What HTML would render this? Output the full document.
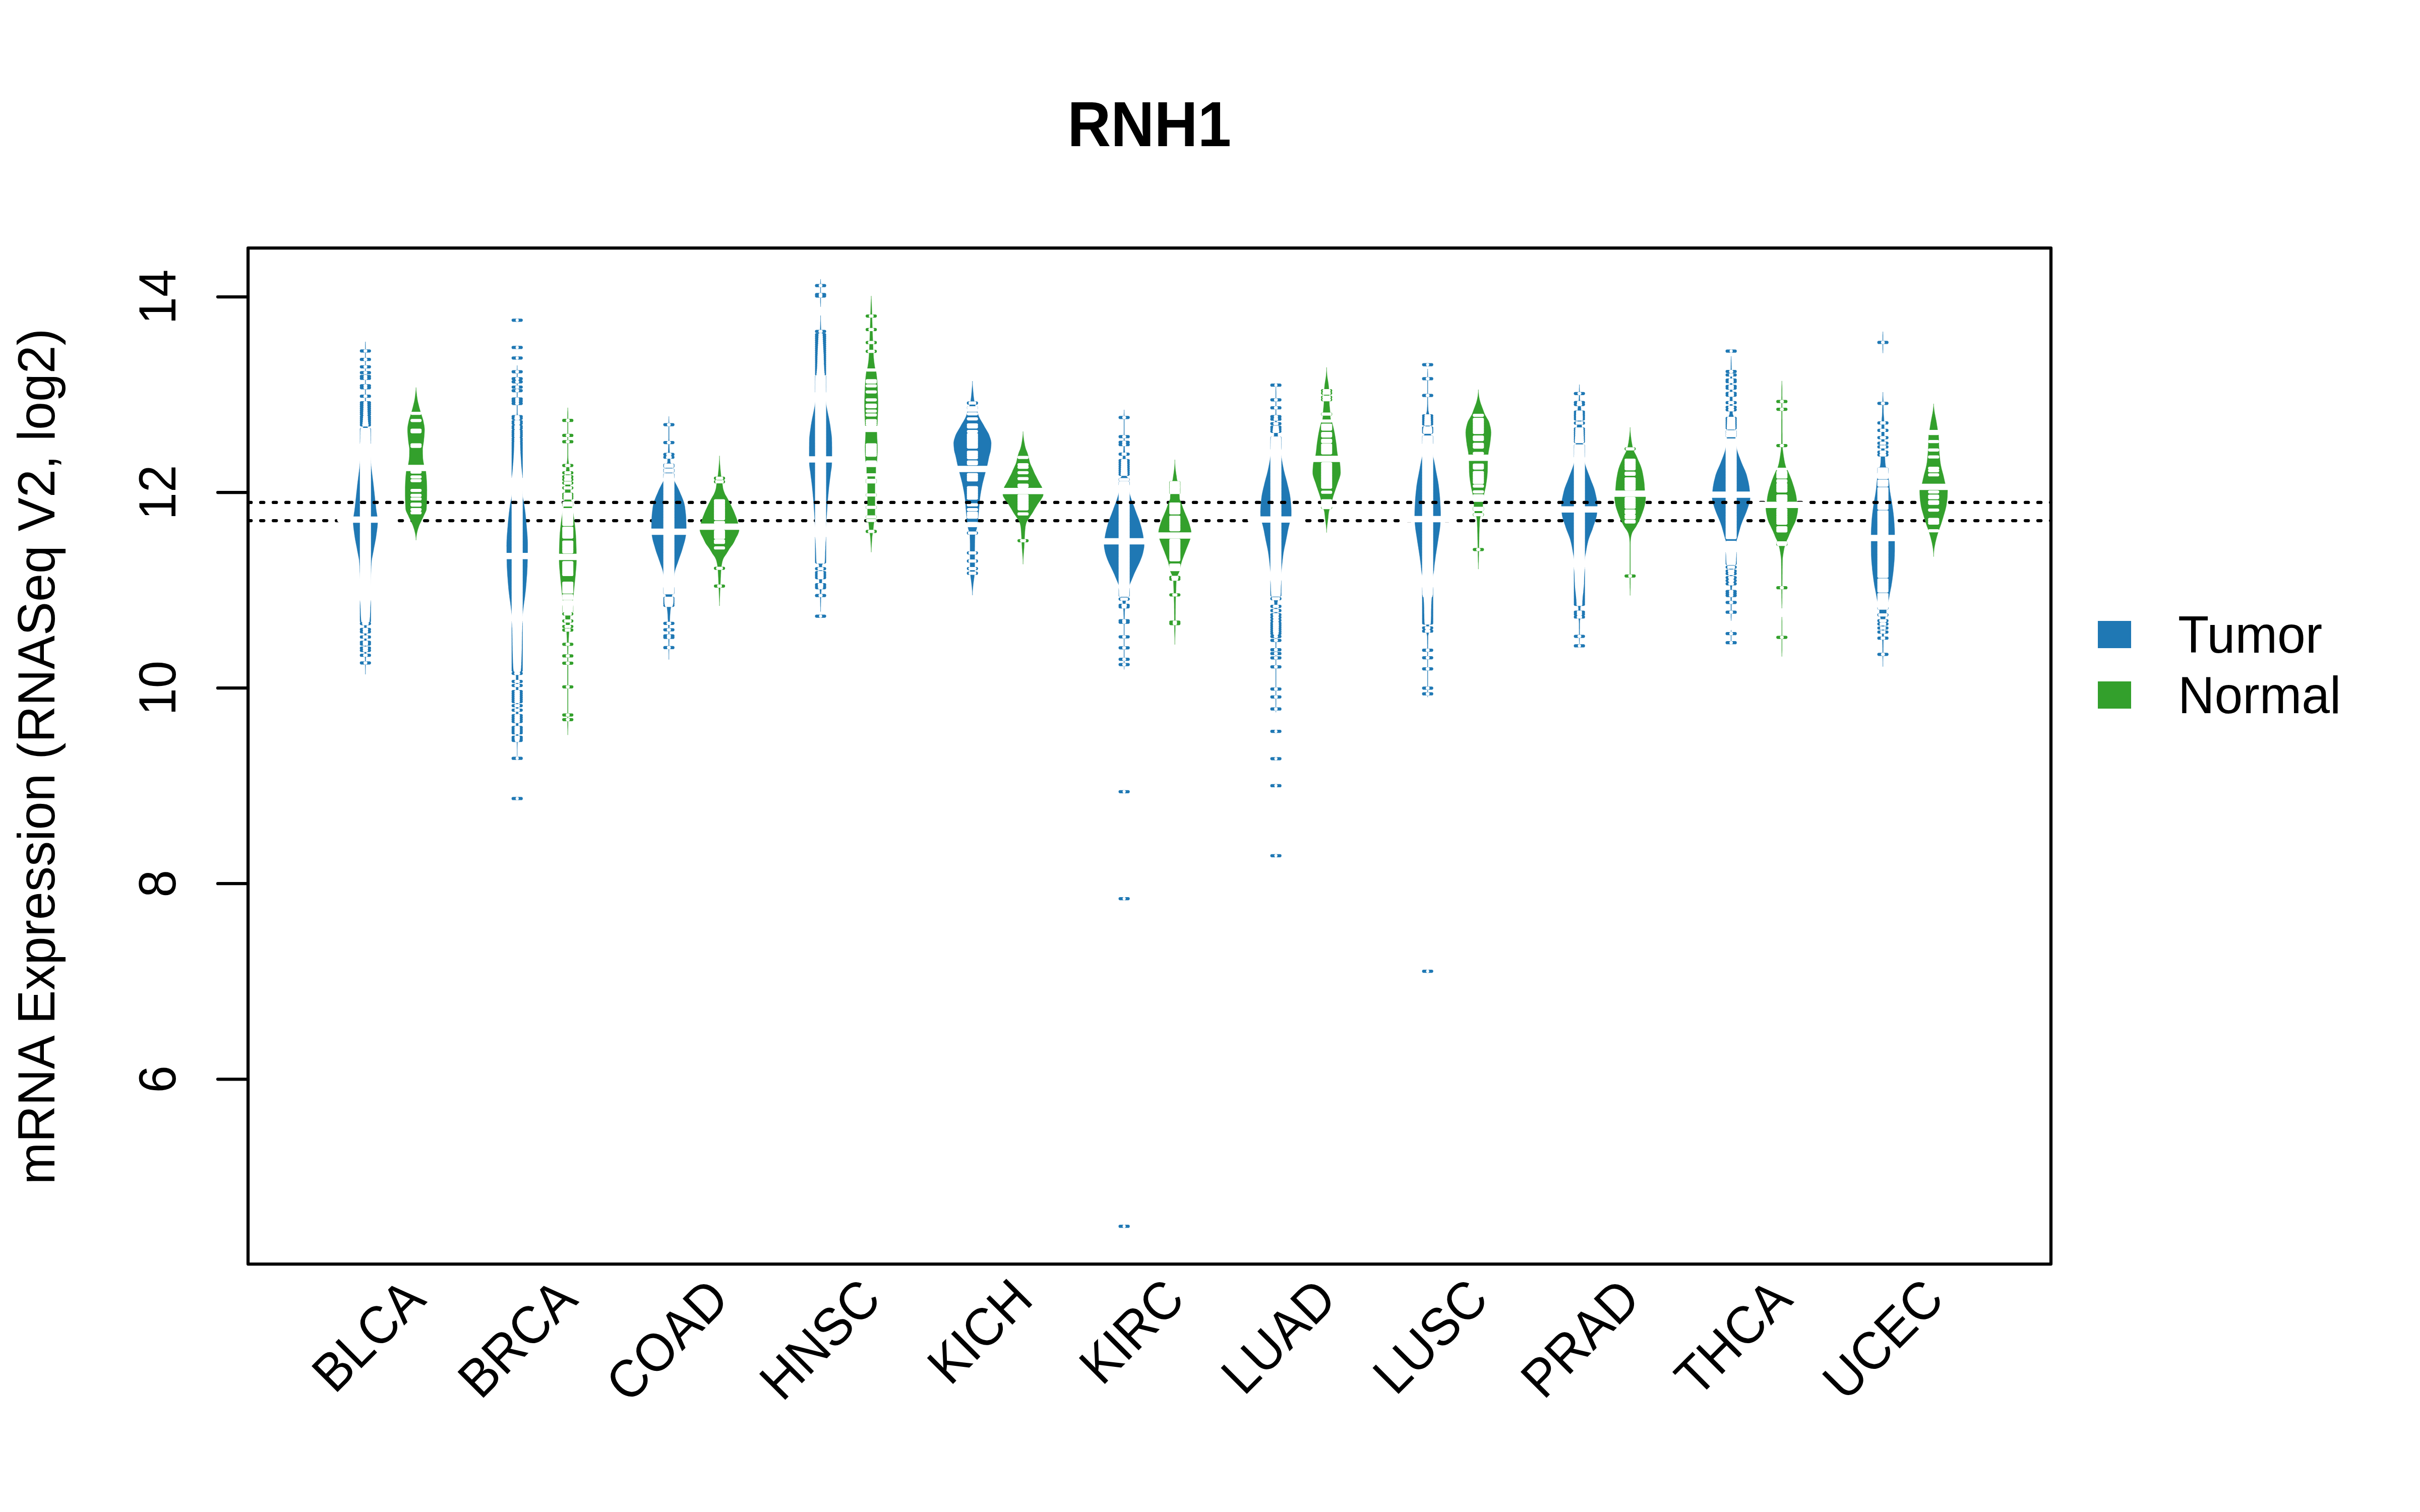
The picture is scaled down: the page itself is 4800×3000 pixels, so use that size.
<!DOCTYPE html>
<html><head><meta charset="utf-8"><title>RNH1</title>
<style>html,body{margin:0;padding:0;background:#fff}svg{display:block}text{font-family:"Liberation Sans",sans-serif;fill:#000}</style></head><body>
<svg width="4800" height="3000" viewBox="0 0 4800 3000">
<rect width="4800" height="3000" fill="#fff"/>
<line x1="492" y1="1033.1" x2="4068" y2="1033.1" stroke="#000" stroke-width="6.25" stroke-dasharray="6.25 18.75" stroke-linecap="round"/>
<polygon points="724.8,678 724.7,681 724.5,684 724.5,686.9 724.5,689.9 724.5,692.8 724.5,695.8 724.5,698.7 724.4,701.7 724.4,704.6 724.4,707.6 724.4,710.5 724.4,713.4 724.4,716.4 724.4,719.3 724.4,722.3 724.4,725.2 724.4,728.2 724.4,731.1 724.4,734.1 724.4,737 724.4,739.9 724.4,742.9 724.4,745.8 724.4,748.8 724.4,751.7 724.4,754.7 724.4,757.6 724.4,760.6 724.3,763.5 724.3,766.4 724.3,769.4 724.3,772.3 724.3,775.3 724.3,778.2 724.3,781.2 724.3,784.1 724.3,787.1 724.2,790 724.2,792.9 724.2,795.7 724.2,798.6 724.1,801.4 724,804.3 724,807.1 723.9,810 723.8,812.9 723.7,815.7 723.6,818.6 723.5,821.4 723.3,824.3 723.2,827.1 723,830 722.9,832.8 722.7,835.7 722.4,838.5 722.1,841.3 721.6,844.2 721,847 719.4,849.5 718,852 717.9,854.8 717.8,857.6 717.7,860.4 717.7,863.2 717.7,866 717.7,868.8 717.6,871.6 717.6,874.4 717.5,877.2 717.3,880 717,882 716.5,884 716.2,887 716,890 715.8,893 715.6,896 715.4,899 715.3,902 715,905 714.9,907.7 714.7,910.3 714.5,913 714.3,915.7 714.1,918.3 713.8,921 713.6,923.9 713.3,926.7 713,929.6 712.6,932.4 712.3,935.3 711.9,938.1 711.6,941 711.2,943.9 710.8,946.7 710.5,949.6 710.1,952.4 709.7,955.3 709.4,958.1 709,961 708.7,963.9 708.4,966.8 708.1,969.6 707.8,972.5 707.4,975.4 707.1,978.3 706.8,981.2 706.5,984.1 706.2,986.9 705.9,989.8 705.6,992.7 705.3,995.6 705,998.5 704.6,1001.4 704.3,1004.2 704,1007.1 703.6,1010 703.3,1012.8 702.9,1015.6 702.4,1018.3 702,1021.1 701.5,1023.9 701.1,1026.7 700.8,1029.4 700.6,1032.2 700.5,1035 700.6,1037.8 700.7,1040.6 701,1043.3 701.2,1046.1 701.6,1048.9 701.9,1051.7 702.3,1054.4 702.7,1057.2 703,1060 703.5,1063 703.9,1065.9 704.4,1068.9 704.9,1071.9 705.5,1074.8 706,1077.8 706.6,1080.7 707.2,1083.7 707.8,1086.7 708.3,1089.6 708.8,1092.6 709.4,1095.5 710,1098.4 710.5,1101.3 711.1,1104.2 711.7,1107 712.2,1109.9 712.6,1112.8 712.8,1115.7 713,1118.5 713.2,1121.2 713.4,1124 713.5,1126.7 713.6,1129.5 713.7,1132.2 713.8,1135 714,1138 714.1,1141 714.3,1144 714.4,1147 714.5,1150 714.7,1152.9 714.8,1155.8 714.9,1158.8 715,1161.7 715.1,1164.6 715.3,1167.5 715.4,1170.5 715.5,1173.4 715.7,1176.3 715.8,1179.2 716,1182.2 716.3,1185.1 716.5,1188 716.9,1190 717.3,1192 717.7,1195 717.9,1198 718.1,1201 718.2,1204 718.4,1207 718.5,1210 718.6,1213 718.7,1216 718.8,1219 719,1222 719.1,1225 719.4,1228 719.7,1231 720,1234 721.4,1237 722.5,1240 722.6,1242.9 722.7,1245.8 722.7,1248.7 722.7,1251.6 722.8,1254.5 722.8,1257.4 722.8,1260.3 722.8,1263.2 722.8,1266.1 722.8,1268.9 722.8,1271.8 722.8,1274.7 722.9,1277.6 722.9,1280.5 722.9,1283.4 722.9,1286.3 723,1289.2 723,1292.1 723,1295 723.2,1297.5 723.5,1300 723.8,1302.5 724,1305 724.2,1308 724.2,1311 724.3,1314 724.4,1317 724.4,1320 724.5,1323 724.6,1326 724.7,1329 724.8,1332 724.8,1335 724.8,1338 724.8,1338 724.8,1335 724.8,1332 724.9,1329 725,1326 725.1,1323 725.1,1320 725.2,1317 725.3,1314 725.4,1311 725.4,1308 725.5,1305 725.8,1302.5 726.1,1300 726.4,1297.5 726.5,1295 726.6,1292.1 726.6,1289.2 726.7,1286.3 726.7,1283.4 726.7,1280.5 726.7,1277.6 726.8,1274.7 726.8,1271.8 726.8,1268.9 726.8,1266.1 726.8,1263.2 726.8,1260.3 726.8,1257.4 726.8,1254.5 726.9,1251.6 726.9,1248.7 726.9,1245.8 727,1242.9 727,1240 728.2,1237 729.5,1234 729.9,1231 730.2,1228 730.5,1225 730.6,1222 730.8,1219 730.9,1216 731,1213 731.1,1210 731.2,1207 731.4,1204 731.5,1201 731.7,1198 731.9,1195 732.2,1192 732.7,1190 733,1188 733.3,1185.1 733.6,1182.2 733.8,1179.2 733.9,1176.3 734.1,1173.4 734.2,1170.5 734.3,1167.5 734.5,1164.6 734.6,1161.7 734.7,1158.8 734.8,1155.8 734.9,1152.9 735,1150 735.2,1147 735.3,1144 735.5,1141 735.6,1138 735.8,1135 735.9,1132.2 736,1129.5 736.1,1126.7 736.2,1124 736.4,1121.2 736.6,1118.5 736.8,1115.7 737,1112.8 737.4,1109.9 737.9,1107 738.5,1104.2 739.1,1101.3 739.6,1098.4 740.2,1095.5 740.8,1092.6 741.3,1089.6 741.8,1086.7 742.4,1083.7 743,1080.7 743.6,1077.8 744.1,1074.8 744.7,1071.9 745.2,1068.9 745.7,1065.9 746.1,1063 746.5,1060 746.9,1057.2 747.3,1054.4 747.7,1051.7 748,1048.9 748.4,1046.1 748.6,1043.3 748.9,1040.6 749,1037.8 749,1035 749,1032.2 748.8,1029.4 748.5,1026.7 748.1,1023.9 747.6,1021.1 747.2,1018.3 746.7,1015.6 746.3,1012.8 745.9,1010 745.6,1007.1 745.3,1004.2 745,1001.4 744.6,998.5 744.3,995.6 744,992.7 743.7,989.8 743.4,986.9 743.1,984.1 742.8,981.2 742.5,978.3 742.2,975.4 741.8,972.5 741.5,969.6 741.2,966.8 740.9,963.9 740.5,961 740.2,958.1 739.9,955.3 739.5,952.4 739.1,949.6 738.8,946.7 738.4,943.9 738,941 737.7,938.1 737.3,935.3 737,932.4 736.6,929.6 736.3,926.7 736,923.9 735.8,921 735.5,918.3 735.3,915.7 735.1,913 734.9,910.3 734.7,907.7 734.5,905 734.3,902 734.2,899 734,896 733.8,893 733.6,890 733.4,887 733,884 732.6,882 732.2,880 732.1,877.2 732,874.4 732,871.6 731.9,868.8 731.9,866 731.9,863.2 731.9,860.4 731.8,857.6 731.7,854.8 731.5,852 730.2,849.5 728.5,847 728,844.2 727.5,841.3 727.2,838.5 726.9,835.7 726.7,832.8 726.5,830 726.4,827.1 726.3,824.3 726.1,821.4 726,818.6 725.9,815.7 725.8,812.9 725.7,810 725.6,807.1 725.6,804.3 725.5,801.4 725.4,798.6 725.4,795.7 725.4,792.9 725.3,790 725.3,787.1 725.3,784.1 725.3,781.2 725.3,778.2 725.3,775.3 725.3,772.3 725.3,769.4 725.3,766.4 725.3,763.5 725.2,760.6 725.2,757.6 725.2,754.7 725.2,751.7 725.2,748.8 725.2,745.8 725.2,742.9 725.2,739.9 725.2,737 725.2,734.1 725.2,731.1 725.2,728.2 725.2,725.2 725.2,722.3 725.2,719.3 725.2,716.4 725.2,713.4 725.2,710.5 725.2,707.6 725.2,704.6 725.2,701.7 725.1,698.7 725.1,695.8 725.1,692.8 725.1,689.9 725.1,686.9 725,684 724.9,681 724.8,678" fill="#1f78b4" stroke="#1f78b4" stroke-width="0.5" stroke-linejoin="round"/>
<path d="M716.8 696.3H724.2M725.4 696.3H732.8M716.8 713.2H724.2M725.4 713.2H732.8M716.8 727.8H724.1M725.5 727.8H732.8M716.8 739.4H724.1M725.5 739.4H732.8M716.8 746.8H724.1M725.5 746.8H732.8M716.8 750.7H724.1M725.5 750.7H732.8M716.8 765.3H724.1M725.5 765.3H732.8M716.8 769.3H724.1M725.5 769.3H732.8M716.8 786.2H724M725.6 786.2H732.8M716.8 799H723.9M725.7 799H732.8M716.8 802.8H723.8M725.8 802.8H732.8M716.8 806.7H723.7M725.9 806.7H732.8M716.8 810.5H723.6M726 810.5H732.8M716.8 814.3H723.5M726.1 814.3H732.8M716.8 818.2H723.3M726.3 818.2H732.8M716.8 822H723.2M726.4 822H732.8M716.8 827H723M726.6 827H732.8M716.8 831H722.7M726.9 831H732.8M716.8 835H722.5M727.1 835H732.8M716.8 839H722.1M727.5 839H732.8M716.8 843H721.6M728 843H732.8M716.8 852H717.8M731.8 852H732.8M716.8 855H717.6M732 855H732.8M716.8 858H717.5M732.1 858H732.8M716.8 861H717.5M732.1 861H732.8M716.8 864H717.4M732.2 864H732.8M716.8 867H717.4M732.2 867H732.8M716.8 870H717.4M732.2 870H732.8M716.8 872.9H717.3M732.3 872.9H732.8M716.8 875.9H717.3M732.3 875.9H732.8M716.8 878.9H717.1M732.5 878.9H732.8M716.8 1193.1H717.2M732.4 1193.1H732.8M716.8 1196.1H717.5M732.1 1196.1H732.8M716.8 1199.1H717.7M731.9 1199.1H732.8M716.8 1202.1H717.9M731.7 1202.1H732.8M716.8 1205.1H718M731.6 1205.1H732.8M716.8 1208.1H718.2M731.4 1208.1H732.8M716.8 1211.1H718.3M731.3 1211.1H732.8M716.8 1214H718.4M731.2 1214H732.8M716.8 1217H718.5M731.1 1217H732.8M716.8 1220H718.6M731 1220H732.8M716.8 1223H718.8M730.8 1223H732.8M716.8 1226H719M730.6 1226H732.8M716.8 1229H719.2M730.4 1229H732.8M716.8 1232H719.6M730 1232H732.8M716.8 1237.3H721.3M728.3 1237.3H732.8M716.8 1248.8H722.5M727.1 1248.8H732.8M716.8 1253.5H722.5M727.1 1253.5H732.8M716.8 1263.9H722.6M727 1263.9H732.8M716.8 1274.3H722.6M727 1274.3H732.8M716.8 1277.8H722.6M727 1277.8H732.8M716.8 1285.9H722.7M726.9 1285.9H732.8M716.8 1290.5H722.7M726.9 1290.5H732.8M716.8 1300.2H723.3M726.3 1300.2H732.8M716.8 1315.3H724.1M725.5 1315.3H732.8" stroke="#1f78b4" stroke-width="6.25" stroke-linecap="round" fill="none"/>
<path d="M724.2 696.3h1.2M724.2 713.2h1.3M724.1 727.8h1.3M724.1 739.4h1.3M724.1 746.8h1.4M724.1 750.7h1.4M724.1 765.3h1.4M724.1 769.3h1.4M724 786.2h1.6M723.9 799h1.8M723.8 802.8h2M723.7 806.7h2.2M723.6 810.5h2.4M723.5 814.3h2.6M723.3 818.2h2.9M723.2 822h3.2M723 827h3.7M722.7 831h4.1M722.5 835h4.6M722.1 839h5.4M721.6 843h6.5M717.8 852h14M717.6 855h14.3M717.5 858h14.5M717.5 861h14.6M717.4 864h14.7M717.4 867h14.8M717.4 870h14.8M717.3 872.9h14.9M717.3 875.9h15.1M717.1 878.9h15.3M716.8 881.9h16M716.8 884.9h16M716.8 887.9h16M716.8 890.9h16M716.8 893.9h16M716.8 896.9h16M716.8 899.9h16M716.8 902.9h16M716.8 905.9h16M716.8 908.9h16M716.8 911.8h16M716.8 914.8h16M716.8 917.8h16M716.8 920.8h16M716.8 923.8h16M716.8 926.8h16M716.8 929.8h16M716.8 932.8h16M716.8 935.8h16M716.8 938.8h16M716.8 941.8h16M716.8 944.8h16M716.8 947.7h16M716.8 950.7h16M716.8 953.7h16M716.8 956.7h16M716.8 959.7h16M716.8 962.7h16M716.8 965.7h16M716.8 968.7h16M716.8 971.7h16M716.8 974.7h16M716.8 977.7h16M716.8 980.7h16M716.8 983.7h16M716.8 986.6h16M716.8 989.6h16M716.8 992.6h16M716.8 995.6h16M716.8 998.6h16M716.8 1001.6h16M716.8 1004.6h16M716.8 1007.6h16M716.8 1010.6h16M716.8 1013.6h16M716.8 1016.6h16M716.8 1019.6h16M716.8 1022.6h16M716.8 1025.5h16M716.8 1028.5h16M716.8 1031.5h16M716.8 1034.5h16M716.8 1037.5h16M716.8 1040.5h16M716.8 1043.5h16M716.8 1046.5h16M716.8 1049.5h16M716.8 1052.5h16M716.8 1055.5h16M716.8 1058.5h16M716.8 1061.4h16M716.8 1064.4h16M716.8 1067.4h16M716.8 1070.4h16M716.8 1073.4h16M716.8 1076.4h16M716.8 1079.4h16M716.8 1082.4h16M716.8 1085.4h16M716.8 1088.4h16M716.8 1091.4h16M716.8 1094.4h16M716.8 1097.4h16M716.8 1100.3h16M716.8 1103.3h16M716.8 1106.3h16M716.8 1109.3h16M716.8 1112.3h16M716.8 1115.3h16M716.8 1118.3h16M716.8 1121.3h16M716.8 1124.3h16M716.8 1127.3h16M716.8 1130.3h16M716.8 1133.3h16M716.8 1136.3h16M716.8 1139.2h16M716.8 1142.2h16M716.8 1145.2h16M716.8 1148.2h16M716.8 1151.2h16M716.8 1154.2h16M716.8 1157.2h16M716.8 1160.2h16M716.8 1163.2h16M716.8 1166.2h16M716.8 1169.2h16M716.8 1172.2h16M716.8 1175.1h16M716.8 1178.1h16M716.8 1181.1h16M716.8 1184.1h16M716.8 1187.1h16M716.8 1190.1h16M717.2 1193.1h15.2M717.5 1196.1h14.6M717.7 1199.1h14.2M717.9 1202.1h13.8M718 1205.1h13.5M718.2 1208.1h13.3M718.3 1211.1h13.1M718.4 1214h12.9M718.5 1217h12.6M718.6 1220h12.4M718.8 1223h12.1M719 1226h11.6M719.2 1229h11.1M719.6 1232h10.5M721.3 1237.3h7.1M722.5 1248.8h4.7M722.5 1253.5h4.6M722.6 1263.9h4.5M722.6 1274.3h4.4M722.6 1277.8h4.4M722.7 1285.9h4.3M722.7 1290.5h4.2M723.3 1300.2h3M724.1 1315.3h1.4" stroke="#fff" stroke-width="6.25" stroke-linecap="round" fill="none"/>
<line x1="674.8" y1="1031" x2="774.8" y2="1031" stroke="#fff" stroke-width="12.5" stroke-linecap="round"/>
<polygon points="1025.8,725 1025.8,728 1025.7,731 1025.5,734 1025.4,737 1025.3,740 1025.3,743 1025.3,745.9 1025.3,748.9 1025.3,751.9 1025.3,754.8 1025.3,757.8 1025.3,760.7 1025.3,763.7 1025.3,766.7 1025.3,769.6 1025.3,772.6 1025.3,775.6 1025.3,778.5 1025.3,781.5 1025.3,784.4 1025.3,787.4 1025.3,790.4 1025.3,793.3 1025.3,796.3 1025.3,799.3 1025.3,802.2 1025.3,805.2 1025.3,808.1 1025.3,811.1 1025.3,814.1 1025.3,817 1025.2,820 1025,822.5 1024.4,825 1023.8,827.5 1023.5,830 1023.5,833 1023.4,836 1023.4,839 1023.3,842 1023.3,845 1023.3,848 1023.3,851 1023.3,854 1023.2,857 1023.2,860 1023.2,863 1023.2,866 1023.2,869 1023.1,872 1023.1,875 1023,878 1023,880.9 1022.9,883.8 1022.8,886.8 1022.8,889.7 1022.6,892.6 1022.5,895.5 1022.4,898.4 1022.3,901.3 1022.1,904.2 1021.9,907.2 1021.8,910.1 1021.6,913 1021.4,915.9 1021.2,918.8 1020.9,921.8 1020.7,924.7 1020.5,927.6 1020.2,930.5 1019.9,933.4 1019.6,936.3 1019.3,939.2 1019,942.2 1018.7,945.1 1018.3,948 1018,950 1017.5,952 1017.2,955 1016.9,958 1016.7,961 1016.5,964 1016.3,967 1016.2,970 1016,973 1015.8,976 1015.6,979 1015.4,982 1015,985 1014.6,988 1014,991 1013.3,994 1012.7,997 1012.1,1000 1011.7,1002.9 1011.3,1005.7 1010.9,1008.6 1010.5,1011.4 1010.2,1014.3 1009.8,1017.1 1009.5,1020 1009.2,1022.9 1008.9,1025.7 1008.6,1028.6 1008.3,1031.4 1008,1034.3 1007.8,1037.1 1007.5,1040 1007.3,1042.9 1007.1,1045.7 1006.8,1048.6 1006.6,1051.5 1006.4,1054.3 1006.1,1057.2 1005.9,1060.1 1005.7,1062.9 1005.5,1065.8 1005.4,1068.7 1005.2,1071.5 1005.1,1074.4 1005,1077.3 1005,1080.1 1004.9,1083 1005,1085.8 1005,1088.7 1005,1091.5 1005,1094.4 1005.1,1097.2 1005.1,1100.1 1005.2,1102.9 1005.2,1105.8 1005.3,1108.6 1005.3,1111.5 1005.4,1114.3 1005.5,1117.2 1005.5,1120 1005.6,1122.9 1005.7,1125.8 1005.9,1128.8 1006,1131.7 1006.2,1134.6 1006.3,1137.5 1006.5,1140.4 1006.7,1143.3 1007,1146.3 1007.2,1149.2 1007.4,1152.1 1007.6,1155 1007.9,1157.9 1008.1,1160.9 1008.4,1163.8 1008.6,1166.7 1008.9,1169.7 1009.2,1172.6 1009.6,1175.5 1009.9,1178.5 1010.3,1181.5 1010.6,1184.4 1011,1187.3 1011.4,1190.3 1011.9,1193.2 1012.3,1196.2 1012.7,1199.2 1013.1,1202.1 1013.5,1205 1013.8,1208 1014.2,1210.8 1014.5,1213.7 1014.8,1216.5 1015.2,1219.3 1015.6,1222.2 1016,1225 1016.6,1227.3 1017.2,1229.7 1017.8,1232 1018.4,1235 1018.6,1238 1018.8,1240.9 1018.9,1243.8 1019,1246.8 1019.1,1249.8 1019.2,1252.7 1019.3,1255.7 1019.4,1258.6 1019.4,1261.5 1019.5,1264.5 1019.5,1267.5 1019.6,1270.4 1019.6,1273.3 1019.6,1276.3 1019.7,1279.2 1019.7,1282.2 1019.8,1285.2 1019.9,1288.1 1020,1291 1020,1294 1020.1,1296.8 1020.2,1299.7 1020.3,1302.5 1020.4,1305.3 1020.5,1308.2 1020.6,1311 1020.7,1313.8 1020.9,1316.7 1021,1319.5 1021.2,1322.3 1021.3,1325.2 1021.5,1328 1022,1331 1022.7,1334 1023.4,1337 1023.6,1340 1023.7,1343 1023.7,1346 1023.7,1348.9 1023.7,1351.9 1023.7,1354.9 1023.7,1357.9 1023.7,1360.8 1023.7,1363.8 1023.7,1366.8 1023.7,1369.8 1023.7,1372.7 1023.7,1375.7 1023.7,1378.7 1023.7,1381.7 1023.7,1384.6 1023.7,1387.6 1023.7,1390.6 1023.7,1393.6 1023.7,1396.5 1023.7,1399.5 1023.7,1402.5 1023.7,1405.5 1023.7,1408.5 1023.7,1411.4 1023.7,1414.4 1023.7,1417.4 1023.7,1420.4 1023.7,1423.3 1023.7,1426.3 1023.7,1429.3 1023.7,1432.3 1023.7,1435.2 1023.7,1438.2 1023.7,1441.2 1023.7,1444.2 1023.7,1447.1 1023.7,1450.1 1023.7,1453.1 1023.7,1456.1 1023.7,1459 1023.7,1462 1023.8,1465 1024.1,1467.7 1024.8,1470.3 1025.2,1473 1025.4,1476 1025.5,1479 1025.6,1482 1025.7,1485 1025.8,1488 1025.8,1491 1025.8,1494 1025.8,1497 1025.8,1500 1025.8,1500 1025.8,1497 1025.8,1494 1025.8,1491 1025.8,1488 1025.9,1485 1026,1482 1026.1,1479 1026.2,1476 1026.3,1473 1026.8,1470.3 1027.5,1467.7 1027.8,1465 1027.9,1462 1027.9,1459 1027.9,1456.1 1027.9,1453.1 1027.9,1450.1 1027.9,1447.1 1027.9,1444.2 1027.9,1441.2 1027.9,1438.2 1027.9,1435.2 1027.9,1432.3 1027.9,1429.3 1027.9,1426.3 1027.9,1423.3 1027.9,1420.4 1027.9,1417.4 1027.9,1414.4 1027.9,1411.4 1027.9,1408.5 1027.9,1405.5 1027.9,1402.5 1027.9,1399.5 1027.9,1396.5 1027.9,1393.6 1027.9,1390.6 1027.9,1387.6 1027.9,1384.6 1027.9,1381.7 1027.9,1378.7 1027.9,1375.7 1027.9,1372.7 1027.9,1369.8 1027.9,1366.8 1027.9,1363.8 1027.9,1360.8 1027.9,1357.9 1027.9,1354.9 1027.9,1351.9 1027.9,1348.9 1027.9,1346 1027.9,1343 1028,1340 1028.2,1337 1028.9,1334 1029.6,1331 1030,1328 1030.3,1325.2 1030.4,1322.3 1030.6,1319.5 1030.7,1316.7 1030.9,1313.8 1031,1311 1031.1,1308.2 1031.2,1305.3 1031.3,1302.5 1031.4,1299.7 1031.5,1296.8 1031.5,1294 1031.6,1291 1031.7,1288.1 1031.8,1285.2 1031.9,1282.2 1031.9,1279.2 1032,1276.3 1032,1273.3 1032,1270.4 1032.1,1267.5 1032.1,1264.5 1032.2,1261.5 1032.2,1258.6 1032.3,1255.7 1032.4,1252.7 1032.5,1249.8 1032.6,1246.8 1032.7,1243.8 1032.8,1240.9 1033,1238 1033.1,1235 1033.8,1232 1034.4,1229.7 1035,1227.3 1035.5,1225 1036,1222.2 1036.4,1219.3 1036.8,1216.5 1037.1,1213.7 1037.4,1210.8 1037.8,1208 1038.1,1205 1038.5,1202.1 1038.9,1199.2 1039.3,1196.2 1039.7,1193.2 1040.2,1190.3 1040.6,1187.3 1041,1184.4 1041.3,1181.5 1041.7,1178.5 1042,1175.5 1042.4,1172.6 1042.7,1169.7 1043,1166.7 1043.2,1163.8 1043.5,1160.9 1043.7,1157.9 1044,1155 1044.2,1152.1 1044.4,1149.2 1044.6,1146.3 1044.9,1143.3 1045.1,1140.4 1045.3,1137.5 1045.4,1134.6 1045.6,1131.7 1045.7,1128.8 1045.9,1125.8 1046,1122.9 1046,1120 1046.1,1117.2 1046.2,1114.3 1046.3,1111.5 1046.3,1108.6 1046.4,1105.8 1046.4,1102.9 1046.5,1100.1 1046.5,1097.2 1046.6,1094.4 1046.6,1091.5 1046.6,1088.7 1046.6,1085.8 1046.6,1083 1046.6,1080.1 1046.6,1077.3 1046.5,1074.4 1046.4,1071.5 1046.2,1068.7 1046.1,1065.8 1045.9,1062.9 1045.7,1060.1 1045.5,1057.2 1045.2,1054.3 1045,1051.5 1044.8,1048.6 1044.5,1045.7 1044.3,1042.9 1044,1040 1043.8,1037.1 1043.6,1034.3 1043.3,1031.4 1043,1028.6 1042.7,1025.7 1042.4,1022.9 1042.1,1020 1041.8,1017.1 1041.4,1014.3 1041.1,1011.4 1040.7,1008.6 1040.3,1005.7 1039.9,1002.9 1039.5,1000 1038.9,997 1038.3,994 1037.6,991 1037,988 1036.5,985 1036.2,982 1036,979 1035.8,976 1035.6,973 1035.4,970 1035.3,967 1035.1,964 1034.9,961 1034.7,958 1034.4,955 1034,952 1033.6,950 1033.2,948 1032.9,945.1 1032.6,942.2 1032.3,939.2 1032,936.3 1031.7,933.4 1031.4,930.5 1031.1,927.6 1030.9,924.7 1030.7,921.8 1030.4,918.8 1030.2,915.9 1030,913 1029.8,910.1 1029.7,907.2 1029.5,904.2 1029.3,901.3 1029.2,898.4 1029.1,895.5 1029,892.6 1028.8,889.7 1028.8,886.8 1028.7,883.8 1028.6,880.9 1028.5,878 1028.5,875 1028.5,872 1028.4,869 1028.4,866 1028.4,863 1028.4,860 1028.4,857 1028.3,854 1028.3,851 1028.3,848 1028.3,845 1028.3,842 1028.2,839 1028.2,836 1028.1,833 1028,830 1027.8,827.5 1027.2,825 1026.6,822.5 1026.3,820 1026.3,817 1026.3,814.1 1026.3,811.1 1026.3,808.1 1026.3,805.2 1026.3,802.2 1026.3,799.3 1026.3,796.3 1026.3,793.3 1026.3,790.4 1026.3,787.4 1026.3,784.4 1026.3,781.5 1026.3,778.5 1026.3,775.6 1026.3,772.6 1026.3,769.6 1026.3,766.7 1026.3,763.7 1026.3,760.7 1026.3,757.8 1026.3,754.8 1026.3,751.9 1026.3,748.9 1026.3,745.9 1026.3,743 1026.2,740 1026.2,737 1026.1,734 1025.9,731 1025.8,728 1025.8,725" fill="#1f78b4" stroke="#1f78b4" stroke-width="0.5" stroke-linejoin="round"/>
<path d="M1017.8 635.3H1025.8M1025.8 635.3H1033.8M1017.8 689.4H1025.8M1025.8 689.4H1033.8M1017.8 710.3H1025.8M1025.8 710.3H1033.8M1017.8 737.5H1025.1M1026.5 737.5H1033.8M1017.8 751.4H1025.1M1026.5 751.4H1033.8M1017.8 757.5H1025.1M1026.5 757.5H1033.8M1017.8 768H1025.1M1026.5 768H1033.8M1017.8 775H1025.1M1026.5 775H1033.8M1017.8 791.7H1025M1026.6 791.7H1033.8M1017.8 795.8H1025M1026.6 795.8H1033.8M1017.8 800.6H1025M1026.6 800.6H1033.8M1017.8 826.5H1023.8M1027.8 826.5H1033.8M1017.8 830H1023.3M1028.3 830H1033.8M1017.8 836.5H1023.2M1028.4 836.5H1033.8M1017.8 840H1023.1M1028.5 840H1033.8M1017.8 846H1023.1M1028.5 846H1033.8M1017.8 849.5H1023M1028.6 849.5H1033.8M1017.8 855H1023M1028.6 855H1033.8M1017.8 858.5H1023M1028.6 858.5H1033.8M1017.8 862H1023M1028.6 862H1033.8M1017.8 865.5H1022.9M1028.7 865.5H1033.8M1017.8 870.5H1022.9M1028.7 870.5H1033.8M1017.8 874H1022.9M1028.7 874H1033.8M1017.8 878H1022.8M1028.8 878H1033.8M1017.8 881H1022.7M1028.9 881H1033.8M1017.8 884H1022.7M1028.9 884H1033.8M1017.8 887H1022.6M1029 887H1033.8M1017.8 890H1022.5M1029.1 890H1033.8M1017.8 893H1022.4M1029.2 893H1033.8M1017.8 896H1022.3M1029.3 896H1033.8M1017.8 899H1022.1M1029.5 899H1033.8M1017.8 901.9H1022M1029.6 901.9H1033.8M1017.8 904.9H1021.8M1029.8 904.9H1033.8M1017.8 907.9H1021.7M1029.9 907.9H1033.8M1017.8 910.9H1021.5M1030.1 910.9H1033.8M1017.8 913.9H1021.3M1030.3 913.9H1033.8M1017.8 916.9H1021.1M1030.5 916.9H1033.8M1017.8 919.9H1020.8M1030.8 919.9H1033.8M1017.8 922.9H1020.6M1031 922.9H1033.8M1017.8 925.9H1020.3M1031.3 925.9H1033.8M1017.8 928.9H1020.1M1031.5 928.9H1033.8M1017.8 931.9H1019.8M1031.8 931.9H1033.8M1017.8 934.9H1019.5M1032.1 934.9H1033.8M1017.8 937.9H1019.2M1032.4 937.9H1033.8M1017.8 940.9H1018.9M1032.7 940.9H1033.8M1017.8 943.9H1018.6M1033 943.9H1033.8M1017.8 946.8H1018.2M1033.4 946.8H1033.8M1017.8 1234.2H1018M1033.6 1234.2H1033.8M1017.8 1237.2H1018.3M1033.3 1237.2H1033.8M1017.8 1240.2H1018.5M1033.1 1240.2H1033.8M1017.8 1243.2H1018.6M1033 1243.2H1033.8M1017.8 1246.2H1018.8M1032.8 1246.2H1033.8M1017.8 1249.2H1018.9M1032.7 1249.2H1033.8M1017.8 1252.2H1019M1032.6 1252.2H1033.8M1017.8 1255.2H1019M1032.6 1255.2H1033.8M1017.8 1258.2H1019.1M1032.5 1258.2H1033.8M1017.8 1261.2H1019.2M1032.4 1261.2H1033.8M1017.8 1264.1H1019.2M1032.4 1264.1H1033.8M1017.8 1267.1H1019.3M1032.3 1267.1H1033.8M1017.8 1270.1H1019.3M1032.3 1270.1H1033.8M1017.8 1273.1H1019.3M1032.3 1273.1H1033.8M1017.8 1276.1H1019.4M1032.2 1276.1H1033.8M1017.8 1279.1H1019.4M1032.2 1279.1H1033.8M1017.8 1282.1H1019.5M1032.1 1282.1H1033.8M1017.8 1285.1H1019.6M1032 1285.1H1033.8M1017.8 1288.1H1019.6M1032 1288.1H1033.8M1017.8 1291.1H1019.7M1031.9 1291.1H1033.8M1017.8 1294.1H1019.8M1031.8 1294.1H1033.8M1017.8 1297.1H1019.9M1031.7 1297.1H1033.8M1017.8 1300.1H1020M1031.6 1300.1H1033.8M1017.8 1303.1H1020.1M1031.5 1303.1H1033.8M1017.8 1306.1H1020.2M1031.4 1306.1H1033.8M1017.8 1309H1020.3M1031.3 1309H1033.8M1017.8 1312H1020.4M1031.2 1312H1033.8M1017.8 1315H1020.5M1031.1 1315H1033.8M1017.8 1318H1020.7M1030.9 1318H1033.8M1017.8 1321H1020.8M1030.8 1321H1033.8M1017.8 1324H1021M1030.6 1324H1033.8M1017.8 1327H1021.2M1030.4 1327H1033.8M1017.8 1330H1021.6M1030 1330H1033.8M1017.8 1336H1022.9M1028.7 1336H1033.8M1017.8 1352H1023.4M1028.2 1352H1033.8M1017.8 1360H1023.4M1028.2 1360H1033.8M1017.8 1372H1023.4M1028.2 1372H1033.8M1017.8 1376H1023.4M1028.2 1376H1033.8M1017.8 1380H1023.4M1028.2 1380H1033.8M1017.8 1384H1023.4M1028.2 1384H1033.8M1017.8 1388H1023.4M1028.2 1388H1033.8M1017.8 1392H1023.4M1028.2 1392H1033.8M1017.8 1400H1023.4M1028.2 1400H1033.8M1017.8 1409H1023.4M1028.2 1409H1033.8M1017.8 1419.8H1023.5M1028.1 1419.8H1033.8M1017.8 1423.7H1023.5M1028.1 1423.7H1033.8M1017.8 1427.7H1023.5M1028.1 1427.7H1033.8M1017.8 1431.6H1023.5M1028.1 1431.6H1033.8M1017.8 1443.4H1023.5M1028.1 1443.4H1033.8M1017.8 1446.9H1023.5M1028.1 1446.9H1033.8M1017.8 1450.4H1023.5M1028.1 1450.4H1033.8M1017.8 1453.9H1023.5M1028.1 1453.9H1033.8M1017.8 1462.8H1023.5M1028.1 1462.8H1033.8M1017.8 1465.9H1023.6M1028 1465.9H1033.8M1017.8 1469.1H1024.2M1027.4 1469.1H1033.8M1017.8 1504.7H1025.8M1025.8 1504.7H1033.8M1017.8 1584.4H1025.8M1025.8 1584.4H1033.8" stroke="#1f78b4" stroke-width="6.25" stroke-linecap="round" fill="none"/>
<path d="M1025.8 635.3h0.01M1025.8 689.4h0.01M1025.8 710.3h0.01M1025.1 737.5h1.3M1025.1 751.4h1.5M1025.1 757.5h1.5M1025.1 768h1.5M1025.1 775h1.5M1025 791.7h1.5M1025 795.8h1.5M1025 800.6h1.5M1023.8 826.5h3.9M1023.3 830h5M1023.2 836.5h5.3M1023.1 840h5.4M1023.1 846h5.5M1023 849.5h5.5M1023 855h5.6M1023 858.5h5.6M1023 862h5.7M1022.9 865.5h5.7M1022.9 870.5h5.8M1022.9 874h5.9M1022.8 878h6M1022.7 881h6.1M1022.7 884h6.3M1022.6 887h6.4M1022.5 890h6.6M1022.4 893h6.8M1022.3 896h7.1M1022.1 899h7.3M1022 901.9h7.6M1021.8 904.9h8M1021.7 907.9h8.3M1021.5 910.9h8.7M1021.3 913.9h9.1M1021.1 916.9h9.5M1020.8 919.9h9.9M1020.6 922.9h10.4M1020.3 925.9h10.9M1020.1 928.9h11.4M1019.8 931.9h12M1019.5 934.9h12.6M1019.2 937.9h13.2M1018.9 940.9h13.8M1018.6 943.9h14.5M1018.2 946.8h15.1M1017.8 949.8h16M1017.8 952.8h16M1017.8 955.8h16M1017.8 958.8h16M1017.8 961.8h16M1017.8 964.8h16M1017.8 967.8h16M1017.8 970.8h16M1017.8 973.8h16M1017.8 976.8h16M1017.8 979.8h16M1017.8 982.8h16M1017.8 985.8h16M1017.8 988.8h16M1017.8 991.7h16M1017.8 994.7h16M1017.8 997.7h16M1017.8 1000.7h16M1017.8 1003.7h16M1017.8 1006.7h16M1017.8 1009.7h16M1017.8 1012.7h16M1017.8 1015.7h16M1017.8 1018.7h16M1017.8 1021.7h16M1017.8 1024.7h16M1017.8 1027.7h16M1017.8 1030.7h16M1017.8 1033.7h16M1017.8 1036.6h16M1017.8 1039.6h16M1017.8 1042.6h16M1017.8 1045.6h16M1017.8 1048.6h16M1017.8 1051.6h16M1017.8 1054.6h16M1017.8 1057.6h16M1017.8 1060.6h16M1017.8 1063.6h16M1017.8 1066.6h16M1017.8 1069.6h16M1017.8 1072.6h16M1017.8 1075.6h16M1017.8 1078.6h16M1017.8 1081.5h16M1017.8 1084.5h16M1017.8 1087.5h16M1017.8 1090.5h16M1017.8 1093.5h16M1017.8 1096.5h16M1017.8 1099.5h16M1017.8 1102.5h16M1017.8 1105.5h16M1017.8 1108.5h16M1017.8 1111.5h16M1017.8 1114.5h16M1017.8 1117.5h16M1017.8 1120.5h16M1017.8 1123.5h16M1017.8 1126.5h16M1017.8 1129.4h16M1017.8 1132.4h16M1017.8 1135.4h16M1017.8 1138.4h16M1017.8 1141.4h16M1017.8 1144.4h16M1017.8 1147.4h16M1017.8 1150.4h16M1017.8 1153.4h16M1017.8 1156.4h16M1017.8 1159.4h16M1017.8 1162.4h16M1017.8 1165.4h16M1017.8 1168.4h16M1017.8 1171.4h16M1017.8 1174.3h16M1017.8 1177.3h16M1017.8 1180.3h16M1017.8 1183.3h16M1017.8 1186.3h16M1017.8 1189.3h16M1017.8 1192.3h16M1017.8 1195.3h16M1017.8 1198.3h16M1017.8 1201.3h16M1017.8 1204.3h16M1017.8 1207.3h16M1017.8 1210.3h16M1017.8 1213.3h16M1017.8 1216.3h16M1017.8 1219.2h16M1017.8 1222.2h16M1017.8 1225.2h16M1017.8 1228.2h16M1017.8 1231.2h16M1018 1234.2h15.6M1018.3 1237.2h14.9M1018.5 1240.2h14.6M1018.6 1243.2h14.3M1018.8 1246.2h14.1M1018.9 1249.2h13.9M1019 1252.2h13.7M1019 1255.2h13.5M1019.1 1258.2h13.4M1019.2 1261.2h13.3M1019.2 1264.1h13.2M1019.3 1267.1h13.1M1019.3 1270.1h13M1019.3 1273.1h12.9M1019.4 1276.1h12.8M1019.4 1279.1h12.7M1019.5 1282.1h12.6M1019.6 1285.1h12.5M1019.6 1288.1h12.4M1019.7 1291.1h12.2M1019.8 1294.1h12M1019.9 1297.1h11.8M1020 1300.1h11.6M1020.1 1303.1h11.4M1020.2 1306.1h11.2M1020.3 1309h11M1020.4 1312h10.8M1020.5 1315h10.5M1020.7 1318h10.3M1020.8 1321h9.9M1021 1324h9.6M1021.2 1327h9.1M1021.6 1330h8.4M1022.9 1336h5.8M1023.4 1352h4.8M1023.4 1360h4.7M1023.4 1372h4.7M1023.4 1376h4.7M1023.4 1380h4.7M1023.4 1384h4.7M1023.4 1388h4.7M1023.4 1392h4.7M1023.4 1400h4.7M1023.4 1409h4.7M1023.5 1419.8h4.7M1023.5 1423.7h4.7M1023.5 1427.7h4.7M1023.5 1431.6h4.7M1023.5 1443.4h4.7M1023.5 1446.9h4.7M1023.5 1450.4h4.7M1023.5 1453.9h4.6M1023.5 1462.8h4.6M1023.6 1465.9h4.3M1024.2 1469.1h3.1M1025.8 1504.7h0.01M1025.8 1584.4h0.01" stroke="#fff" stroke-width="6.25" stroke-linecap="round" fill="none"/>
<line x1="975.8" y1="1103.2" x2="1075.8" y2="1103.2" stroke="#fff" stroke-width="12.5" stroke-linecap="round"/>
<polygon points="1326.7,826.1 1326.7,829.1 1326.5,832 1326.4,835 1326.3,837.9 1326.3,840.8 1326.3,843.8 1326.3,846.7 1326.2,849.6 1326.2,852.5 1326.2,855.4 1326.2,858.3 1326.2,861.2 1326.2,864.2 1326.2,867.1 1326.2,870 1326.1,872.8 1326.1,875.6 1326,878.3 1326,881.1 1325.9,883.9 1325.8,886.7 1325.7,889.4 1325.6,892.2 1325.5,895 1325.3,897.5 1325,900 1324.7,902.5 1324.5,905 1324.3,907.6 1324.3,910.2 1324.2,912.8 1324.1,915.4 1324,918 1320.5,921 1320.2,923.9 1320,926.8 1319.9,929.7 1319.8,932.6 1319.8,935.4 1319.7,938.3 1319.6,941.2 1319.5,944.1 1319.2,947 1318.5,950 1317.3,952.2 1316,954.4 1314.5,957.2 1313,960 1311.5,962.8 1310.1,965.5 1308.7,968.3 1307.4,971.1 1306.1,973.9 1305,976.7 1303.8,979.5 1302.6,982.2 1301.4,985 1300.3,987.8 1299.2,990.5 1298.2,993.3 1297.2,996.1 1296.4,998.9 1295.8,1001.6 1295.2,1004.4 1294.8,1007.2 1294.5,1009.9 1294.1,1012.7 1293.8,1015.4 1293.5,1018.2 1293.2,1021 1293,1023.7 1292.8,1026.5 1292.7,1029.2 1292.5,1032 1292.5,1034.8 1292.4,1037.6 1292.3,1040.4 1292.3,1043.2 1292.2,1046 1292.3,1048.8 1292.4,1051.6 1292.5,1054.4 1292.7,1057.2 1293,1060 1293.2,1062.8 1293.7,1065.6 1294.2,1068.3 1294.8,1071.1 1295.5,1073.9 1296.3,1076.7 1297.1,1079.5 1297.9,1082.2 1298.8,1085 1299.5,1087.8 1300.4,1090.6 1301.2,1093.4 1302.1,1096.1 1303.1,1098.9 1304.1,1101.7 1305.1,1104.5 1306.1,1107.3 1307,1110 1308,1112.8 1309,1115.6 1309.9,1118.4 1310.9,1121.1 1311.9,1123.9 1312.9,1126.7 1313.8,1129.5 1314.6,1132.2 1315.2,1135 1315.8,1138 1316.3,1141 1316.7,1144 1317.1,1147 1317.5,1150 1317.7,1152.8 1317.9,1155.6 1318.1,1158.4 1318.3,1161.2 1318.7,1164 1319.2,1166 1319.3,1168.6 1319.3,1171.2 1319.4,1173.8 1319.4,1176.4 1319.5,1179 1320.5,1181 1320.7,1183.8 1320.8,1186.6 1320.8,1189.4 1320.8,1192.2 1321,1195 1321.3,1197.5 1321.8,1200 1322.5,1202.5 1323,1205 1323.3,1208 1323.7,1210.9 1324,1213.9 1324.2,1216.8 1324.5,1219.8 1324.6,1222.3 1324.7,1224.8 1324.8,1227.2 1325,1229.7 1325.1,1232.6 1325.3,1235.5 1325.5,1238.4 1325.6,1241.3 1325.8,1244.2 1325.9,1247.1 1326,1250 1326,1252.9 1326,1255.8 1326.1,1258.8 1326.1,1261.7 1326.1,1264.6 1326.1,1267.5 1326.1,1270.4 1326.1,1273.3 1326.2,1276.2 1326.2,1279.2 1326.2,1282.1 1326.2,1285 1326.3,1288 1326.4,1290.9 1326.5,1293.8 1326.6,1296.8 1326.7,1299.8 1326.7,1302.7 1326.7,1305.6 1326.7,1308.6 1326.7,1308.6 1326.7,1305.6 1326.7,1302.7 1326.7,1299.8 1326.8,1296.8 1326.9,1293.8 1327,1290.9 1327.1,1288 1327.2,1285 1327.2,1282.1 1327.2,1279.2 1327.2,1276.2 1327.3,1273.3 1327.3,1270.4 1327.3,1267.5 1327.3,1264.6 1327.3,1261.7 1327.3,1258.8 1327.4,1255.8 1327.4,1252.9 1327.5,1250 1327.5,1247.1 1327.6,1244.2 1327.8,1241.3 1327.9,1238.4 1328.1,1235.5 1328.3,1232.6 1328.5,1229.7 1328.6,1227.2 1328.7,1224.8 1328.8,1222.3 1329,1219.8 1329.2,1216.8 1329.4,1213.9 1329.7,1210.9 1330.1,1208 1330.5,1205 1330.9,1202.5 1331.6,1200 1332.1,1197.5 1332.5,1195 1332.6,1192.2 1332.6,1189.4 1332.6,1186.6 1332.7,1183.8 1332.9,1181 1334,1179 1334,1176.4 1334,1173.8 1334.1,1171.2 1334.1,1168.6 1334.2,1166 1334.8,1164 1335.1,1161.2 1335.3,1158.4 1335.5,1155.6 1335.7,1152.8 1336,1150 1336.3,1147 1336.7,1144 1337.1,1141 1337.6,1138 1338.2,1135 1338.8,1132.2 1339.6,1129.5 1340.5,1126.7 1341.5,1123.9 1342.5,1121.1 1343.5,1118.4 1344.5,1115.6 1345.4,1112.8 1346.4,1110 1347.3,1107.3 1348.3,1104.5 1349.3,1101.7 1350.3,1098.9 1351.3,1096.1 1352.2,1093.4 1353,1090.6 1353.9,1087.8 1354.6,1085 1355.5,1082.2 1356.3,1079.5 1357.1,1076.7 1357.9,1073.9 1358.6,1071.1 1359.2,1068.3 1359.7,1065.6 1360.2,1062.8 1360.5,1060 1360.7,1057.2 1360.9,1054.4 1361,1051.6 1361.1,1048.8 1361.2,1046 1361.1,1043.2 1361.1,1040.4 1361,1037.6 1360.9,1034.8 1360.9,1032 1360.7,1029.2 1360.6,1026.5 1360.4,1023.7 1360.2,1021 1359.9,1018.2 1359.6,1015.4 1359.3,1012.7 1358.9,1009.9 1358.6,1007.2 1358.2,1004.4 1357.6,1001.6 1357,998.9 1356.2,996.1 1355.2,993.3 1354.2,990.5 1353.1,987.8 1352,985 1350.8,982.2 1349.6,979.5 1348.5,976.7 1347.3,973.9 1346,971.1 1344.7,968.3 1343.3,965.5 1341.9,962.8 1340.4,960 1338.9,957.2 1337.5,954.4 1336.1,952.2 1335,950 1334.2,947 1333.9,944.1 1333.8,941.2 1333.7,938.3 1333.6,935.4 1333.6,932.6 1333.5,929.7 1333.4,926.8 1333.2,923.9 1333,921 1329.5,918 1329.3,915.4 1329.2,912.8 1329.1,910.2 1329.1,907.6 1329,905 1328.7,902.5 1328.4,900 1328.1,897.5 1328,895 1327.8,892.2 1327.7,889.4 1327.6,886.7 1327.5,883.9 1327.4,881.1 1327.4,878.3 1327.3,875.6 1327.3,872.8 1327.2,870 1327.2,867.1 1327.2,864.2 1327.2,861.2 1327.2,858.3 1327.2,855.4 1327.2,852.5 1327.2,849.6 1327.1,846.7 1327.1,843.8 1327.1,840.8 1327.1,837.9 1327,835 1326.9,832 1326.7,829.1 1326.7,826.1" fill="#1f78b4" stroke="#1f78b4" stroke-width="0.5" stroke-linejoin="round"/>
<path d="M1318.7 842.5H1326M1327.4 842.5H1334.7M1318.7 878H1325.8M1327.6 878H1334.7M1318.7 901.7H1324.5M1328.9 901.7H1334.7M1318.7 907.2H1324.1M1329.3 907.2H1334.7M1318.7 922.8H1320M1333.4 922.8H1334.7M1318.7 925H1319.8M1333.6 925H1334.7M1318.7 932.5H1319.6M1333.8 932.5H1334.7M1318.7 934.7H1319.5M1333.9 934.7H1334.7M1318.7 942H1319.3M1334.1 942H1334.7M1318.7 944.5H1319.2M1334.2 944.5H1334.7M1318.7 947H1319M1334.4 947H1334.7M1318.7 1167H1319M1334.4 1167H1334.7M1318.7 1170H1319.1M1334.3 1170H1334.7M1318.7 1173H1319.1M1334.3 1173H1334.7M1318.7 1176H1319.1M1334.3 1176H1334.7M1318.7 1187H1320.5M1332.9 1187H1334.7M1318.7 1190.5H1320.6M1332.8 1190.5H1334.7M1318.7 1194H1320.7M1332.7 1194H1334.7M1318.7 1197.5H1321M1332.4 1197.5H1334.7M1318.7 1201H1321.8M1331.6 1201H1334.7M1318.7 1236.8H1325.1M1328.3 1236.8H1334.7M1318.7 1249.5H1325.7M1327.7 1249.5H1334.7M1318.7 1261.7H1325.8M1327.6 1261.7H1334.7M1318.7 1264.7H1325.8M1327.6 1264.7H1334.7M1318.7 1284.9H1326M1327.4 1284.9H1334.7" stroke="#1f78b4" stroke-width="6.25" stroke-linecap="round" fill="none"/>
<path d="M1326 842.5h1.3M1325.8 878h1.8M1324.5 901.7h4.4M1324.1 907.2h5.2M1320 922.8h13.4M1319.8 925h13.7M1319.6 932.5h14.3M1319.5 934.7h14.4M1319.3 942h14.7M1319.2 944.5h15M1319 947h15.4M1318.7 950h16M1318.7 953h16M1318.7 956h16M1318.7 959.1h16M1318.7 962.1h16M1318.7 965.1h16M1318.7 968.1h16M1318.7 971.1h16M1318.7 974.1h16M1318.7 977.1h16M1318.7 980.1h16M1318.7 983.2h16M1318.7 986.2h16M1318.7 989.2h16M1318.7 992.2h16M1318.7 995.2h16M1318.7 998.2h16M1318.7 1001.2h16M1318.7 1004.2h16M1318.7 1007.3h16M1318.7 1010.3h16M1318.7 1013.3h16M1318.7 1016.3h16M1318.7 1019.3h16M1318.7 1022.3h16M1318.7 1025.3h16M1318.7 1028.4h16M1318.7 1031.4h16M1318.7 1034.4h16M1318.7 1037.4h16M1318.7 1040.4h16M1318.7 1043.4h16M1318.7 1046.4h16M1318.7 1049.4h16M1318.7 1052.5h16M1318.7 1055.5h16M1318.7 1058.5h16M1318.7 1061.5h16M1318.7 1064.5h16M1318.7 1067.5h16M1318.7 1070.5h16M1318.7 1073.6h16M1318.7 1076.6h16M1318.7 1079.6h16M1318.7 1082.6h16M1318.7 1085.6h16M1318.7 1088.6h16M1318.7 1091.6h16M1318.7 1094.6h16M1318.7 1097.7h16M1318.7 1100.7h16M1318.7 1103.7h16M1318.7 1106.7h16M1318.7 1109.7h16M1318.7 1112.7h16M1318.7 1115.7h16M1318.7 1118.8h16M1318.7 1121.8h16M1318.7 1124.8h16M1318.7 1127.8h16M1318.7 1130.8h16M1318.7 1133.8h16M1318.7 1136.8h16M1318.7 1139.8h16M1318.7 1142.9h16M1318.7 1145.9h16M1318.7 1148.9h16M1318.7 1151.9h16M1318.7 1154.9h16M1318.7 1157.9h16M1318.7 1160.9h16M1318.7 1163.9h16M1319 1167h15.4M1319.1 1170h15.2M1319.1 1173h15.2M1319.1 1176h15.1M1320.5 1187h12.4M1320.6 1190.5h12.3M1320.7 1194h12.1M1321 1197.5h11.4M1321.8 1201h9.7M1325.1 1236.8h3.2M1325.7 1249.5h2M1325.8 1261.7h1.8M1325.8 1264.7h1.7M1326 1284.9h1.4" stroke="#fff" stroke-width="6.25" stroke-linecap="round" fill="none"/>
<line x1="1276.7" y1="1054.9" x2="1376.7" y2="1054.9" stroke="#fff" stroke-width="12.5" stroke-linecap="round"/>
<polygon points="1627.6,553.9 1627.6,555.9 1627.4,558 1627.2,560 1627.2,562.9 1627.2,565.7 1627.2,568.6 1627.2,571.4 1627.2,574.3 1627.2,577.1 1627.2,580 1627.2,582.9 1627.2,585.7 1627.2,588.6 1627.2,591.4 1627.2,594.3 1627.2,597.1 1627.2,600 1627.4,602.9 1627.6,605.7 1627.6,608.6 1627.6,608.6 1627.6,605.7 1627.8,602.9 1627.9,600 1627.9,597.1 1627.9,594.3 1627.9,591.4 1627.9,588.6 1627.9,585.7 1627.9,582.9 1627.9,580 1627.9,577.1 1627.9,574.3 1627.9,571.4 1627.9,568.6 1627.9,565.7 1627.9,562.9 1627.9,560 1627.8,558 1627.6,555.9 1627.6,553.9" fill="#1f78b4" stroke="#1f78b4" stroke-width="0.5" stroke-linejoin="round"/>
<polygon points="1627.6,626 1627.6,628.8 1627.6,631.6 1627.5,634.4 1627.4,637.2 1627.2,640 1627.2,643 1627.1,646 1627,649 1626.9,652 1626.8,655 1626.8,657.3 1626.7,659.7 1626.6,662 1626.5,664.9 1626.4,667.8 1626.3,670.8 1626.2,673.7 1626,676.6 1625.9,679.5 1625.8,682.5 1625.6,685.4 1625.5,688.3 1625.3,691.2 1625.1,694.2 1625,697.1 1624.8,700 1624.7,703 1624.6,706 1624.5,709 1624.4,712 1624.3,715 1624.2,718 1624.1,721 1624,724 1623.9,727 1623.7,730 1623.5,733 1623.3,736 1623,739 1622.6,742 1621.5,744 1620.4,746 1620.4,749 1620.3,752 1620.3,755 1620.3,758 1620.3,761 1620.2,764 1620.2,767 1620.2,770 1620.2,773 1620.1,776 1620,779 1619.3,782 1618.9,784.7 1618.5,787.4 1618.2,790.1 1617.9,792.9 1617.6,795.6 1617.2,798.3 1616.8,801 1616.4,804 1615.9,806.9 1615.3,809.9 1614.7,812.9 1614.1,815.9 1613.5,818.8 1612.9,821.8 1612.3,824.8 1611.6,827.8 1611,830.7 1610.5,833.7 1609.9,836.7 1609.4,839.7 1608.9,842.6 1608.4,845.6 1608.1,848.3 1607.7,851.1 1607.3,853.8 1606.9,856.6 1606.5,859.3 1606.2,862 1605.9,864.8 1605.6,867.5 1605.4,870.3 1605.3,873 1605.3,875.8 1605.2,878.6 1605.2,881.4 1605.2,884.2 1605.1,887 1605.1,889.8 1605.1,892.6 1605.1,895.4 1605.1,898.2 1605,901 1605.1,903.7 1605.1,906.4 1605.1,909.1 1605.2,911.9 1605.2,914.6 1605.3,917.3 1605.3,920 1605.5,922.9 1605.8,925.7 1606.1,928.6 1606.5,931.4 1607,934.3 1607.4,937.1 1607.8,940 1608.1,942.8 1608.4,945.6 1608.8,948.3 1609.2,951.1 1609.5,953.9 1609.9,956.7 1610.2,959.5 1610.5,962.2 1610.9,965 1611.1,967.8 1611.4,970.6 1611.7,973.4 1612,976.1 1612.2,978.9 1612.5,981.7 1612.7,984.5 1613,987.3 1613.2,990 1613.4,992.8 1613.6,995.6 1613.9,998.4 1614.1,1001.2 1614.3,1003.9 1614.4,1006.7 1614.6,1009.5 1614.8,1012.3 1615,1015 1615.2,1017.8 1615.3,1020.6 1615.5,1023.4 1615.7,1026.1 1615.9,1028.9 1616.1,1031.7 1616.4,1034.3 1616.6,1036.9 1616.8,1039.5 1617.1,1042.2 1617.3,1044.8 1617.6,1047.4 1617.8,1050 1618.2,1053 1618.5,1056 1618.9,1059 1619.3,1062 1620,1065 1620.3,1067.9 1620.6,1070.8 1620.8,1073.7 1620.9,1076.6 1621.1,1079.4 1621.2,1082.3 1621.3,1085.2 1621.4,1088.1 1621.5,1091 1621.7,1094 1621.8,1097 1621.9,1099.9 1621.9,1102.9 1622,1105.9 1622.2,1108.9 1622.3,1111.8 1622.5,1114.8 1622.8,1117.8 1623.9,1119.4 1624.8,1121 1624.8,1123.9 1624.8,1126.8 1624.8,1129.7 1624.8,1132.6 1624.8,1135.4 1624.8,1138.3 1624.8,1141.2 1624.8,1144.1 1624.8,1147 1624.9,1149.9 1625,1152.7 1625.1,1155.6 1625.3,1158.4 1625.5,1161.3 1625.7,1164.1 1625.8,1167 1626,1170 1626.3,1173 1626.5,1176 1626.7,1179 1626.8,1182 1626.9,1185 1627,1188 1627.1,1191 1627.1,1194 1627.2,1197 1627.2,1200 1627.3,1202.7 1627.5,1205.4 1627.6,1208.2 1627.6,1210.9 1627.6,1213.6 1627.6,1213.6 1627.6,1210.9 1627.6,1208.2 1627.7,1205.4 1627.9,1202.7 1627.9,1200 1628,1197 1628.1,1194 1628.1,1191 1628.2,1188 1628.3,1185 1628.3,1182 1628.5,1179 1628.7,1176 1628.9,1173 1629.2,1170 1629.3,1167 1629.5,1164.1 1629.7,1161.3 1629.9,1158.4 1630.1,1155.6 1630.2,1152.7 1630.3,1149.9 1630.3,1147 1630.3,1144.1 1630.3,1141.2 1630.3,1138.3 1630.3,1135.4 1630.3,1132.6 1630.3,1129.7 1630.3,1126.8 1630.3,1123.9 1630.3,1121 1631.3,1119.4 1632.3,1117.8 1632.7,1114.8 1632.9,1111.8 1633,1108.9 1633.2,1105.9 1633.3,1102.9 1633.3,1099.9 1633.4,1097 1633.5,1094 1633.6,1091 1633.8,1088.1 1633.9,1085.2 1634,1082.3 1634.1,1079.4 1634.3,1076.6 1634.4,1073.7 1634.6,1070.8 1634.9,1067.9 1635.1,1065 1635.8,1062 1636.3,1059 1636.7,1056 1637,1053 1637.3,1050 1637.6,1047.4 1637.9,1044.8 1638.1,1042.2 1638.4,1039.5 1638.6,1036.9 1638.8,1034.3 1639,1031.7 1639.3,1028.9 1639.5,1026.1 1639.7,1023.4 1639.9,1020.6 1640,1017.8 1640.2,1015 1640.4,1012.3 1640.6,1009.5 1640.8,1006.7 1640.9,1003.9 1641.1,1001.2 1641.3,998.4 1641.5,995.6 1641.8,992.8 1642,990 1642.2,987.3 1642.5,984.5 1642.7,981.7 1643,978.9 1643.2,976.1 1643.5,973.4 1643.8,970.6 1644,967.8 1644.3,965 1644.7,962.2 1645,959.5 1645.3,956.7 1645.7,953.9 1646,951.1 1646.4,948.3 1646.8,945.6 1647.1,942.8 1647.4,940 1647.8,937.1 1648.2,934.3 1648.7,931.4 1649.1,928.6 1649.4,925.7 1649.7,922.9 1649.8,920 1649.9,917.3 1650,914.6 1650,911.9 1650.1,909.1 1650.1,906.4 1650.1,903.7 1650.1,901 1650.1,898.2 1650.1,895.4 1650.1,892.6 1650.1,889.8 1650.1,887 1650,884.2 1650,881.4 1650,878.6 1649.9,875.8 1649.8,873 1649.8,870.3 1649.6,867.5 1649.3,864.8 1649,862 1648.7,859.3 1648.3,856.6 1647.9,853.8 1647.5,851.1 1647.1,848.3 1646.8,845.6 1646.3,842.6 1645.8,839.7 1645.3,836.7 1644.7,833.7 1644.2,830.7 1643.6,827.8 1642.9,824.8 1642.3,821.8 1641.7,818.8 1641.1,815.9 1640.5,812.9 1639.9,809.9 1639.3,806.9 1638.8,804 1638.3,801 1638,798.3 1637.6,795.6 1637.3,792.9 1637,790.1 1636.7,787.4 1636.3,784.7 1635.8,782 1635.1,779 1635.1,776 1635,773 1635,770 1635,767 1635,764 1634.9,761 1634.9,758 1634.9,755 1634.9,752 1634.8,749 1634.8,746 1633.7,744 1632.5,742 1632.2,739 1631.9,736 1631.7,733 1631.5,730 1631.3,727 1631.2,724 1631.1,721 1631,718 1630.9,715 1630.8,712 1630.7,709 1630.6,706 1630.5,703 1630.3,700 1630.2,697.1 1630.1,694.2 1629.9,691.2 1629.7,688.3 1629.6,685.4 1629.4,682.5 1629.3,679.5 1629.2,676.6 1629,673.7 1628.9,670.8 1628.8,667.8 1628.7,664.9 1628.5,662 1628.5,659.7 1628.4,657.3 1628.3,655 1628.3,652 1628.2,649 1628.1,646 1628,643 1627.9,640 1627.8,637.2 1627.7,634.4 1627.6,631.6 1627.6,628.8 1627.6,626" fill="#1f78b4" stroke="#1f78b4" stroke-width="0.5" stroke-linejoin="round"/>
<path d="M1619.6 566.7H1627M1628.2 566.7H1635.6M1619.6 584.3H1627M1628.2 584.3H1635.6M1619.6 587.3H1627M1628.2 587.3H1635.6M1619.6 657.5H1626.5M1628.7 657.5H1635.6M1619.6 664H1626.3M1628.9 664H1635.6M1619.6 667.9H1626.2M1629 667.9H1635.6M1619.6 671.8H1626M1629.2 671.8H1635.6M1619.6 675.7H1625.8M1629.4 675.7H1635.6M1619.6 679.6H1625.6M1629.6 679.6H1635.6M1619.6 683.5H1625.4M1629.8 683.5H1635.6M1619.6 687.4H1625.2M1630 687.4H1635.6M1619.6 691.3H1625M1630.2 691.3H1635.6M1619.6 695.2H1624.8M1630.4 695.2H1635.6M1619.6 699.1H1624.6M1630.6 699.1H1635.6M1619.6 703H1624.5M1630.7 703H1635.6M1619.6 706.9H1624.3M1630.9 706.9H1635.6M1619.6 710.8H1624.2M1631 710.8H1635.6M1619.6 714.7H1624.1M1631.1 714.7H1635.6M1619.6 718.6H1624M1631.2 718.6H1635.6M1619.6 722.5H1623.8M1631.4 722.5H1635.6M1619.6 726.4H1623.7M1631.5 726.4H1635.6M1619.6 730.3H1623.5M1631.7 730.3H1635.6M1619.6 734.2H1623.2M1632 734.2H1635.6M1619.6 738.1H1622.8M1632.4 738.1H1635.6M1619.6 742H1622.4M1632.8 742H1635.6M1619.6 747H1620.2M1635 747H1635.6M1619.6 750H1620.1M1635.1 750H1635.6M1619.6 753H1620.1M1635.1 753H1635.6M1619.6 756H1620M1635.2 756H1635.6M1619.6 759H1620M1635.2 759H1635.6M1619.6 762H1620M1635.2 762H1635.6M1619.6 765H1620M1635.2 765H1635.6M1619.6 767.9H1620M1635.2 767.9H1635.6M1619.6 770.9H1620M1635.2 770.9H1635.6M1619.6 773.9H1619.9M1635.3 773.9H1635.6M1619.6 776.9H1619.9M1635.3 776.9H1635.6M1619.6 1067.1H1620M1635.2 1067.1H1635.6M1619.6 1070.1H1620.3M1634.9 1070.1H1635.6M1619.6 1073.1H1620.5M1634.7 1073.1H1635.6M1619.6 1076.1H1620.6M1634.6 1076.1H1635.6M1619.6 1079.1H1620.8M1634.4 1079.1H1635.6M1619.6 1082.1H1620.9M1634.3 1082.1H1635.6M1619.6 1085.1H1621M1634.2 1085.1H1635.6M1619.6 1088.1H1621.2M1634 1088.1H1635.6M1619.6 1091.1H1621.3M1633.9 1091.1H1635.6M1619.6 1094.1H1621.4M1633.8 1094.1H1635.6M1619.6 1097H1621.5M1633.7 1097H1635.6M1619.6 1100H1621.6M1633.6 1100H1635.6M1619.6 1103H1621.7M1633.5 1103H1635.6M1619.6 1106H1621.8M1633.4 1106H1635.6M1619.6 1109H1621.9M1633.3 1109H1635.6M1619.6 1112H1622.1M1633.1 1112H1635.6M1619.6 1115H1622.3M1632.9 1115H1635.6M1619.6 1128.3H1624.6M1630.6 1128.3H1635.6M1619.6 1136H1624.6M1630.6 1136H1635.6M1619.6 1139.3H1624.6M1630.6 1139.3H1635.6M1619.6 1142.7H1624.6M1630.6 1142.7H1635.6M1619.6 1146H1624.6M1630.6 1146H1635.6M1619.6 1160H1625.1M1630.1 1160H1635.6M1619.6 1163H1625.3M1629.9 1163H1635.6M1619.6 1166H1625.5M1629.7 1166H1635.6M1619.6 1181.7H1626.6M1628.6 1181.7H1635.6M1619.6 1222.5H1627.6M1627.6 1222.5H1635.6" stroke="#1f78b4" stroke-width="6.25" stroke-linecap="round" fill="none"/>
<path d="M1627 566.7h1.2M1627 584.3h1.2M1627 587.3h1.2M1626.5 657.5h2.1M1626.3 664h2.5M1626.2 667.9h2.8M1626 671.8h3.2M1625.8 675.7h3.5M1625.6 679.6h3.9M1625.4 683.5h4.3M1625.2 687.4h4.7M1625 691.3h5.1M1624.8 695.2h5.5M1624.6 699.1h5.9M1624.5 703h6.3M1624.3 706.9h6.6M1624.2 710.8h6.8M1624.1 714.7h7M1624 718.6h7.3M1623.8 722.5h7.5M1623.7 726.4h7.9M1623.5 730.3h8.3M1623.2 734.2h8.8M1622.8 738.1h9.5M1622.4 742h10.4M1620.2 747h14.9M1620.1 750h15M1620.1 753h15.1M1620 756h15.2M1620 759h15.2M1620 762h15.2M1620 765h15.2M1620 767.9h15.2M1620 770.9h15.3M1619.9 773.9h15.4M1619.9 776.9h15.5M1619.6 779.9h16M1619.6 782.9h16M1619.6 785.9h16M1619.6 788.9h16M1619.6 791.9h16M1619.6 794.9h16M1619.6 797.9h16M1619.6 800.9h16M1619.6 803.8h16M1619.6 806.8h16M1619.6 809.8h16M1619.6 812.8h16M1619.6 815.8h16M1619.6 818.8h16M1619.6 821.8h16M1619.6 824.8h16M1619.6 827.8h16M1619.6 830.8h16M1619.6 833.8h16M1619.6 836.8h16M1619.6 839.7h16M1619.6 842.7h16M1619.6 845.7h16M1619.6 848.7h16M1619.6 851.7h16M1619.6 854.7h16M1619.6 857.7h16M1619.6 860.7h16M1619.6 863.7h16M1619.6 866.7h16M1619.6 869.7h16M1619.6 872.7h16M1619.6 875.7h16M1619.6 878.6h16M1619.6 881.6h16M1619.6 884.6h16M1619.6 887.6h16M1619.6 890.6h16M1619.6 893.6h16M1619.6 896.6h16M1619.6 899.6h16M1619.6 902.6h16M1619.6 905.6h16M1619.6 908.6h16M1619.6 911.6h16M1619.6 914.5h16M1619.6 917.5h16M1619.6 920.5h16M1619.6 923.5h16M1619.6 926.5h16M1619.6 929.5h16M1619.6 932.5h16M1619.6 935.5h16M1619.6 938.5h16M1619.6 941.5h16M1619.6 944.5h16M1619.6 947.5h16M1619.6 950.4h16M1619.6 953.4h16M1619.6 956.4h16M1619.6 959.4h16M1619.6 962.4h16M1619.6 965.4h16M1619.6 968.4h16M1619.6 971.4h16M1619.6 974.4h16M1619.6 977.4h16M1619.6 980.4h16M1619.6 983.4h16M1619.6 986.3h16M1619.6 989.3h16M1619.6 992.3h16M1619.6 995.3h16M1619.6 998.3h16M1619.6 1001.3h16M1619.6 1004.3h16M1619.6 1007.3h16M1619.6 1010.3h16M1619.6 1013.3h16M1619.6 1016.3h16M1619.6 1019.3h16M1619.6 1022.3h16M1619.6 1025.2h16M1619.6 1028.2h16M1619.6 1031.2h16M1619.6 1034.2h16M1619.6 1037.2h16M1619.6 1040.2h16M1619.6 1043.2h16M1619.6 1046.2h16M1619.6 1049.2h16M1619.6 1052.2h16M1619.6 1055.2h16M1619.6 1058.2h16M1619.6 1061.1h16M1619.6 1064.1h16M1620 1067.1h15.2M1620.3 1070.1h14.7M1620.5 1073.1h14.3M1620.6 1076.1h13.9M1620.8 1079.1h13.6M1620.9 1082.1h13.4M1621 1085.1h13.1M1621.2 1088.1h12.9M1621.3 1091.1h12.6M1621.4 1094.1h12.3M1621.5 1097h12.1M1621.6 1100h12M1621.7 1103h11.8M1621.8 1106h11.6M1621.9 1109h11.4M1622.1 1112h11M1622.3 1115h10.6M1624.6 1128.3h6M1624.6 1136h6M1624.6 1139.3h6M1624.6 1142.7h6M1624.6 1146h6M1625.1 1160h4.9M1625.3 1163h4.5M1625.5 1166h4.1M1626.6 1181.7h2M1627.6 1222.5h0.01" stroke="#fff" stroke-width="6.25" stroke-linecap="round" fill="none"/>
<line x1="1577.6" y1="911.5" x2="1677.6" y2="911.5" stroke="#fff" stroke-width="12.5" stroke-linecap="round"/>
<polygon points="1928.8,756.1 1928.8,758.9 1928.7,761.7 1928.5,764.4 1928.3,767.2 1928,770 1927.8,772.8 1927.6,775.7 1927.3,778.5 1927,781.4 1926.8,784.2 1926.5,787.1 1926.1,789.9 1925.7,792.8 1925.3,795.6 1924.9,798 1924.4,800.3 1923.7,802.6 1923,805 1922.1,807.3 1921,809.7 1920,812 1919.3,814.8 1918.7,817.6 1918,820.5 1917.2,823.3 1916.2,826.1 1914.9,828.9 1913.5,831.7 1911.9,834.5 1910.3,837.2 1908.6,840 1907,842.8 1905.5,845.6 1903.9,848.4 1902.3,851.1 1900.6,853.9 1899,856.7 1897.4,859.5 1896.1,862.2 1895,865 1894.1,867.8 1893.2,870.6 1892.4,873.3 1891.9,876.1 1891.6,878.9 1891.7,881.5 1891.8,884.1 1892,886.8 1892.3,889.4 1892.5,892 1893,894.9 1893.7,897.9 1894.5,900.8 1895.3,903.8 1896,906.7 1896.6,909.4 1897.2,912.1 1897.7,914.9 1898.3,917.6 1898.8,920.3 1899.5,923 1900.1,925.8 1900.8,928.6 1901.6,931.4 1902.3,934.2 1903,937 1903.8,939.8 1904.5,942.6 1905.2,945.3 1906,948.1 1906.7,950.9 1907.4,953.7 1908.1,956.4 1908.8,959.2 1909.3,962 1909.9,964.8 1910.5,967.6 1911,970.4 1911.6,973.2 1912.1,976 1912.5,978.8 1913,981.6 1913.4,984.4 1913.8,987.2 1914.1,990 1914.5,992.8 1914.7,995.6 1915,998.3 1915.2,1001.1 1915.4,1003.9 1915.6,1006.7 1915.8,1009.5 1916.1,1012.2 1916.3,1015 1916.5,1017.8 1916.8,1020.6 1917.1,1023.4 1917.4,1026.1 1917.6,1028.9 1917.9,1031.7 1918.2,1034.5 1918.6,1037.3 1918.9,1040 1919.3,1042.8 1919.8,1045.6 1920.3,1048.3 1921.1,1051.1 1922,1053.8 1922.8,1056.5 1923.4,1059.3 1923.8,1062 1923.9,1064.8 1923.9,1067.6 1924,1070.3 1924.1,1073.1 1924.1,1075.9 1924.2,1078.7 1924.2,1081.4 1924.2,1084.2 1924.2,1087 1924.2,1089.9 1924.2,1092.7 1924.2,1095.6 1924.2,1098.5 1924.2,1101.3 1924.2,1104.2 1924.2,1107.1 1924.2,1109.9 1924.2,1112.8 1924.2,1115.7 1924.2,1118.5 1924.2,1121.4 1924.2,1124.3 1924.2,1127.1 1924.2,1130 1924.3,1132.9 1924.5,1135.8 1924.8,1138.8 1925,1141.7 1925.3,1144.7 1925.7,1147.6 1926.1,1150.6 1926.5,1153.6 1926.9,1156.5 1927.2,1159.5 1927.5,1162.1 1927.8,1164.8 1928,1167.4 1928.2,1170 1928.5,1172.7 1928.7,1175.5 1928.8,1178.2 1928.8,1180.9 1928.8,1180.9 1928.8,1178.2 1928.9,1175.5 1929.1,1172.7 1929.3,1170 1929.6,1167.4 1929.8,1164.8 1930.1,1162.1 1930.3,1159.5 1930.7,1156.5 1931.1,1153.6 1931.5,1150.6 1931.9,1147.6 1932.3,1144.7 1932.5,1141.7 1932.8,1138.8 1933.1,1135.8 1933.3,1132.9 1933.3,1130 1933.3,1127.1 1933.3,1124.3 1933.3,1121.4 1933.3,1118.5 1933.3,1115.7 1933.3,1112.8 1933.3,1109.9 1933.3,1107.1 1933.3,1104.2 1933.3,1101.3 1933.3,1098.5 1933.3,1095.6 1933.3,1092.7 1933.3,1089.9 1933.3,1087 1933.4,1084.2 1933.4,1081.4 1933.4,1078.7 1933.5,1075.9 1933.5,1073.1 1933.6,1070.3 1933.7,1067.6 1933.7,1064.8 1933.8,1062 1934.2,1059.3 1934.8,1056.5 1935.6,1053.8 1936.5,1051.1 1937.3,1048.3 1937.8,1045.6 1938.3,1042.8 1938.7,1040 1939,1037.3 1939.4,1034.5 1939.7,1031.7 1940,1028.9 1940.2,1026.1 1940.5,1023.4 1940.8,1020.6 1941,1017.8 1941.3,1015 1941.5,1012.2 1941.8,1009.5 1942,1006.7 1942.2,1003.9 1942.4,1001.1 1942.6,998.3 1942.9,995.6 1943.1,992.8 1943.5,990 1943.8,987.2 1944.2,984.4 1944.6,981.6 1945.1,978.8 1945.5,976 1946,973.2 1946.6,970.4 1947.1,967.6 1947.7,964.8 1948.2,962 1948.8,959.2 1949.5,956.4 1950.2,953.7 1950.9,950.9 1951.6,948.1 1952.4,945.3 1953.1,942.6 1953.8,939.8 1954.5,937 1955.3,934.2 1956,931.4 1956.8,928.6 1957.5,925.8 1958.1,923 1958.8,920.3 1959.3,917.6 1959.9,914.9 1960.4,912.1 1961,909.4 1961.5,906.7 1962.3,903.8 1963.1,900.8 1963.9,897.9 1964.6,894.9 1965,892 1965.3,889.4 1965.6,886.8 1965.8,884.1 1965.9,881.5 1966,878.9 1965.7,876.1 1965.2,873.3 1964.4,870.6 1963.5,867.8 1962.5,865 1961.5,862.2 1960.2,859.5 1958.6,856.7 1957,853.9 1955.3,851.1 1953.7,848.4 1952.1,845.6 1950.6,842.8 1949,840 1947.3,837.2 1945.7,834.5 1944.1,831.7 1942.7,828.9 1941.4,826.1 1940.3,823.3 1939.6,820.5 1938.9,817.6 1938.3,814.8 1937.5,812 1936.6,809.7 1935.5,807.3 1934.5,805 1933.9,802.6 1933.2,800.3 1932.7,798 1932.3,795.6 1931.9,792.8 1931.5,789.9 1931.1,787.1 1930.8,784.2 1930.6,781.4 1930.3,778.5 1930,775.7 1929.8,772.8 1929.5,770 1929.3,767.2 1929.1,764.4 1928.9,761.7 1928.8,758.9 1928.8,756.1" fill="#1f78b4" stroke="#1f78b4" stroke-width="0.5" stroke-linejoin="round"/>
<path d="M1920.8 799.7H1924.2M1933.4 799.7H1936.8M1920.8 809H1921.1M1936.5 809H1936.8M1920.8 1057.5H1922.8M1934.8 1057.5H1936.8M1920.8 1097H1924M1933.6 1097H1936.8M1920.8 1113.2H1924M1933.6 1113.2H1936.8M1920.8 1128H1924M1933.6 1128H1936.8M1920.8 1137.4H1924.4M1933.2 1137.4H1936.8" stroke="#1f78b4" stroke-width="6.25" stroke-linecap="round" fill="none"/>
<path d="M1924.2 799.7h9.1M1921.1 809h15.5M1920.8 814h16M1920.8 821h16M1920.8 831h16M1920.8 843h16M1920.8 847h16M1920.8 856h16M1920.8 862h16M1920.8 865.1h16M1920.8 868.2h16M1920.8 871.4h16M1920.8 874.5h16M1920.8 877.6h16M1920.8 880.8h16M1920.8 883.9h16M1920.8 887h16M1920.8 897h16M1920.8 900.7h16M1920.8 904.3h16M1920.8 908h16M1920.8 916.7h16M1920.8 920h16M1920.8 941.7h16M1920.8 945.2h16M1920.8 948.7h16M1920.8 952.2h16M1920.8 967.5h16M1920.8 971h16M1920.8 974.4h16M1920.8 977.9h16M1920.8 981.4h16M1920.8 984.8h16M1920.8 988.3h16M1920.8 1001.7h16M1920.8 1011h16M1920.8 1018h16M1920.8 1020.7h16M1920.8 1023.3h16M1920.8 1026h16M1920.8 1038.6h16M1920.8 1042.8h16M1922.8 1057.5h12M1924 1097h9.6M1924 1113.2h9.6M1924 1128h9.6M1924.4 1137.4h8.8" stroke="#fff" stroke-width="6.25" stroke-linecap="round" fill="none"/>
<line x1="1878.8" y1="930.4" x2="1978.8" y2="930.4" stroke="#fff" stroke-width="12.5" stroke-linecap="round"/>
<polygon points="2229.7,813 2229.7,816 2229.5,819 2229.3,822 2229.3,824.9 2229.3,827.8 2229.3,830.8 2229.3,833.7 2229.3,836.6 2229.3,839.5 2229.3,842.5 2229.3,845.4 2229.3,848.3 2229.3,851.2 2229.3,854.2 2229.3,857.1 2229.2,860 2229.2,863 2229.2,866 2229.2,869 2229.1,872 2229.1,875 2229,878 2229,881 2228.9,884 2228.8,887 2228.8,890 2228.6,893 2228.4,895.9 2228.1,898.9 2227.7,901.9 2227.4,904.9 2227.2,907.8 2226.9,910.8 2226.8,913.6 2226.7,916.3 2226.7,919.1 2226.6,921.9 2226.6,924.6 2226.5,927.4 2226.5,930.2 2226.4,932.9 2226.3,935.7 2226.1,938.5 2226,941.2 2225.8,944 2224.3,946 2222.8,948 2222.6,951 2222.5,954 2222.4,957 2222.3,960 2222.1,963 2221.4,966 2220.9,968.6 2220.5,971.2 2220,973.8 2219.5,976.4 2218.9,979 2218.2,982 2217.3,985 2216.4,988 2215.4,991 2214.4,994 2213.3,997 2212.2,1000 2211,1003 2209.9,1006 2208.8,1009 2207.8,1012 2206.7,1014.8 2205.7,1017.6 2204.6,1020.4 2203.5,1023.2 2202.4,1026 2201.3,1028.8 2200.3,1031.6 2199.3,1034.4 2198.4,1037.2 2197.5,1040 2196.8,1042.8 2196,1045.6 2195.3,1048.3 2194.6,1051.1 2194,1053.9 2193.3,1056.7 2192.7,1059.5 2192.2,1062.2 2191.8,1065 2191.3,1067.8 2191,1070.6 2190.6,1073.4 2190.3,1076.1 2190,1078.9 2189.9,1081.7 2190.1,1084.4 2190.4,1087 2190.9,1089.7 2191.4,1092.3 2191.9,1095 2192.6,1097.8 2193.4,1100.6 2194.3,1103.4 2195.3,1106.2 2196.3,1109 2197.4,1111.8 2198.6,1114.6 2199.8,1117.4 2201.2,1120.2 2202.5,1123 2203.9,1125.8 2205.2,1128.6 2206.6,1131.4 2207.9,1134.2 2209.1,1137 2210.4,1139.8 2211.5,1142.6 2212.7,1145.4 2213.9,1148.2 2215,1151 2216.2,1153.8 2217.4,1156.6 2218.5,1159.4 2219.5,1161.6 2220.5,1163.8 2221.4,1166 2222.2,1168 2222.5,1170.7 2222.6,1173.3 2222.6,1176 2222.7,1178.7 2222.8,1181.3 2222.9,1184 2224.3,1187 2225.9,1190 2226.5,1192.5 2226.9,1195 2227.2,1197.5 2227.4,1200 2227.8,1203 2228.1,1206 2228.4,1209 2228.6,1212 2228.8,1215 2228.8,1217.8 2228.9,1220.6 2229,1223.3 2229.1,1226.1 2229.1,1228.9 2229.2,1231.7 2229.2,1234.4 2229.2,1237.2 2229.2,1240 2229.3,1243 2229.3,1245.9 2229.3,1248.9 2229.3,1251.9 2229.3,1254.8 2229.3,1257.8 2229.3,1260.7 2229.3,1263.7 2229.3,1266.7 2229.3,1269.6 2229.3,1272.6 2229.3,1275.6 2229.3,1278.5 2229.3,1281.5 2229.3,1284.4 2229.3,1287.4 2229.3,1290.4 2229.3,1293.3 2229.3,1296.3 2229.3,1299.3 2229.3,1302.2 2229.3,1305.2 2229.3,1308.1 2229.3,1311.1 2229.3,1314.1 2229.3,1317 2229.3,1320 2229.5,1322.8 2229.7,1325.5 2229.7,1328.3 2229.7,1328.3 2229.7,1325.5 2229.9,1322.8 2230,1320 2230.1,1317 2230.1,1314.1 2230.1,1311.1 2230.1,1308.1 2230.1,1305.2 2230.1,1302.2 2230.1,1299.3 2230.1,1296.3 2230.1,1293.3 2230.1,1290.4 2230.1,1287.4 2230.1,1284.4 2230.1,1281.5 2230.1,1278.5 2230.1,1275.6 2230.1,1272.6 2230.1,1269.6 2230.1,1266.7 2230.1,1263.7 2230.1,1260.7 2230.1,1257.8 2230.1,1254.8 2230.1,1251.9 2230.1,1248.9 2230.1,1245.9 2230.1,1243 2230.1,1240 2230.2,1237.2 2230.2,1234.4 2230.2,1231.7 2230.3,1228.9 2230.3,1226.1 2230.4,1223.3 2230.5,1220.6 2230.6,1217.8 2230.6,1215 2230.8,1212 2231,1209 2231.3,1206 2231.6,1203 2231.9,1200 2232.2,1197.5 2232.5,1195 2232.9,1192.5 2233.4,1190 2235.1,1187 2236.4,1184 2236.6,1181.3 2236.7,1178.7 2236.8,1176 2236.8,1173.3 2236.9,1170.7 2237.1,1168 2237.9,1166 2238.9,1163.8 2239.9,1161.6 2240.8,1159.4 2242,1156.6 2243.2,1153.8 2244.4,1151 2245.5,1148.2 2246.7,1145.4 2247.9,1142.6 2249,1139.8 2250.2,1137 2251.5,1134.2 2252.8,1131.4 2254.2,1128.6 2255.5,1125.8 2256.9,1123 2258.2,1120.2 2259.6,1117.4 2260.8,1114.6 2262,1111.8 2263,1109 2264.1,1106.2 2265.1,1103.4 2266,1100.6 2266.8,1097.8 2267.4,1095 2268,1092.3 2268.5,1089.7 2269,1087 2269.3,1084.4 2269.4,1081.7 2269.4,1078.9 2269.1,1076.1 2268.8,1073.4 2268.4,1070.6 2268,1067.8 2267.6,1065 2267.2,1062.2 2266.7,1059.5 2266.1,1056.7 2265.4,1053.9 2264.8,1051.1 2264.1,1048.3 2263.4,1045.6 2262.6,1042.8 2261.8,1040 2261,1037.2 2260.1,1034.4 2259.1,1031.6 2258.1,1028.8 2257,1026 2255.9,1023.2 2254.8,1020.4 2253.7,1017.6 2252.7,1014.8 2251.6,1012 2250.6,1009 2249.5,1006 2248.4,1003 2247.2,1000 2246.1,997 2245,994 2244,991 2243,988 2242.1,985 2241.2,982 2240.4,979 2239.9,976.4 2239.4,973.8 2238.9,971.2 2238.5,968.6 2237.9,966 2237.2,963 2237.1,960 2237,957 2236.9,954 2236.8,951 2236.6,948 2235.1,946 2233.6,944 2233.4,941.2 2233.3,938.5 2233.1,935.7 2233,932.9 2232.9,930.2 2232.9,927.4 2232.8,924.6 2232.8,921.9 2232.7,919.1 2232.7,916.3 2232.6,913.6 2232.4,910.8 2232.2,907.8 2232,904.9 2231.7,901.9 2231.3,898.9 2231,895.9 2230.8,893 2230.6,890 2230.6,887 2230.5,884 2230.4,881 2230.4,878 2230.3,875 2230.3,872 2230.2,869 2230.2,866 2230.2,863 2230.1,860 2230.1,857.1 2230.1,854.2 2230.1,851.2 2230.1,848.3 2230.1,845.4 2230.1,842.5 2230.1,839.5 2230.1,836.6 2230.1,833.7 2230.1,830.8 2230.1,827.8 2230.1,824.9 2230,822 2229.9,819 2229.7,816 2229.7,813" fill="#1f78b4" stroke="#1f78b4" stroke-width="0.5" stroke-linejoin="round"/>
<path d="M2221.7 828.3H2229.1M2230.3 828.3H2237.7M2221.7 866.4H2229M2230.4 866.4H2237.7M2221.7 877.5H2228.8M2230.6 877.5H2237.7M2221.7 882.2H2228.7M2230.7 882.2H2237.7M2221.7 901H2227.6M2231.8 901H2237.7M2221.7 913.9H2226.6M2232.8 913.9H2237.7M2221.7 917.8H2226.4M2233 917.8H2237.7M2221.7 921.6H2226.4M2233 921.6H2237.7M2221.7 925.5H2226.3M2233.1 925.5H2237.7M2221.7 929.4H2226.2M2233.2 929.4H2237.7M2221.7 933.3H2226.1M2233.3 933.3H2237.7M2221.7 937.1H2226M2233.4 937.1H2237.7M2221.7 941H2225.7M2233.7 941H2237.7M2221.7 951.6H2222.3M2237.1 951.6H2237.7M2221.7 958H2222.1M2237.3 958H2237.7M2221.7 961H2222M2237.4 961H2237.7M2221.7 1168.9H2222.1M2237.3 1168.9H2237.7M2221.7 1172H2222.3M2237.1 1172H2237.7M2221.7 1175H2222.3M2237.1 1175H2237.7M2221.7 1178H2222.4M2237 1178H2237.7M2221.7 1181H2222.5M2236.9 1181H2237.7M2221.7 1188.6H2224.9M2234.5 1188.6H2237.7M2221.7 1201H2227.3M2232.1 1201H2237.7M2221.7 1204H2227.6M2231.8 1204H2237.7M2221.7 1231.5H2228.9M2230.5 1231.5H2237.7M2221.7 1234.5H2229M2230.4 1234.5H2237.7M2221.7 1263.6H2229M2230.4 1263.6H2237.7M2221.7 1285.3H2229M2230.4 1285.3H2237.7M2221.7 1308H2229.1M2230.3 1308H2237.7M2221.7 1318.6H2229.1M2230.3 1318.6H2237.7M2221.7 1570.8H2229.7M2229.7 1570.8H2237.7M2221.7 1783H2229.7M2229.7 1783H2237.7M2221.7 2433.2H2229.7M2229.7 2433.2H2237.7" stroke="#1f78b4" stroke-width="6.25" stroke-linecap="round" fill="none"/>
<path d="M2229.1 828.3h1.3M2229 866.4h1.5M2228.8 877.5h1.8M2228.7 882.2h2M2227.6 901h4.2M2226.6 913.9h6.3M2226.4 917.8h6.5M2226.4 921.6h6.7M2226.3 925.5h6.8M2226.2 929.4h7M2226.1 933.3h7.2M2226 937.1h7.5M2225.7 941h7.9M2222.3 951.6h14.8M2222.1 958h15.1M2222 961h15.4M2221.7 964h16M2221.7 967h16M2221.7 970.1h16M2221.7 973.1h16M2221.7 976.1h16M2221.7 979.1h16M2221.7 982.1h16M2221.7 985.1h16M2221.7 988.1h16M2221.7 991.1h16M2221.7 994.2h16M2221.7 997.2h16M2221.7 1000.2h16M2221.7 1003.2h16M2221.7 1006.2h16M2221.7 1009.2h16M2221.7 1012.2h16M2221.7 1015.3h16M2221.7 1018.3h16M2221.7 1021.3h16M2221.7 1024.3h16M2221.7 1027.3h16M2221.7 1030.3h16M2221.7 1033.3h16M2221.7 1036.4h16M2221.7 1039.4h16M2221.7 1042.4h16M2221.7 1045.4h16M2221.7 1048.4h16M2221.7 1051.4h16M2221.7 1054.4h16M2221.7 1057.4h16M2221.7 1060.5h16M2221.7 1063.5h16M2221.7 1066.5h16M2221.7 1069.5h16M2221.7 1072.5h16M2221.7 1075.5h16M2221.7 1078.5h16M2221.7 1081.6h16M2221.7 1084.6h16M2221.7 1087.6h16M2221.7 1090.6h16M2221.7 1093.6h16M2221.7 1096.6h16M2221.7 1099.6h16M2221.7 1102.6h16M2221.7 1105.7h16M2221.7 1108.7h16M2221.7 1111.7h16M2221.7 1114.7h16M2221.7 1117.7h16M2221.7 1120.7h16M2221.7 1123.7h16M2221.7 1126.8h16M2221.7 1129.8h16M2221.7 1132.8h16M2221.7 1135.8h16M2221.7 1138.8h16M2221.7 1141.8h16M2221.7 1144.8h16M2221.7 1147.9h16M2221.7 1150.9h16M2221.7 1153.9h16M2221.7 1156.9h16M2221.7 1159.9h16M2221.7 1162.9h16M2221.7 1165.9h16M2222.1 1168.9h15.3M2222.3 1172h14.9M2222.3 1175h14.7M2222.4 1178h14.6M2222.5 1181h14.4M2224.9 1188.6h9.5M2227.3 1201h4.8M2227.6 1204h4.1M2228.9 1231.5h1.6M2229 1234.5h1.5M2229 1263.6h1.3M2229 1285.3h1.3M2229.1 1308h1.3M2229.1 1318.6h1.2M2229.7 1570.8h0.01M2229.7 1783h0.01M2229.7 2433.2h0.01" stroke="#fff" stroke-width="6.25" stroke-linecap="round" fill="none"/>
<line x1="2179.7" y1="1074" x2="2279.7" y2="1074" stroke="#fff" stroke-width="12.5" stroke-linecap="round"/>
<polygon points="2530.7,766 2530.7,769 2530.5,772 2530.3,775 2530.3,778 2530.3,781 2530.3,784 2530.3,787 2530.3,790 2530.3,793 2530.2,796 2530.2,799 2530.2,802 2530.2,805 2530.2,808 2530.2,811 2530.2,814 2530.2,817 2530.1,820 2530.1,822.9 2530,825.7 2529.8,828.6 2529.6,831.4 2529.4,834.3 2529.2,837.1 2528.9,840 2528.7,842.5 2528.5,845 2528.2,847.5 2527.9,850 2527.6,852.3 2527.3,854.7 2527.2,857 2527.2,859.9 2527.2,862.7 2527.2,865.6 2523.8,867 2523.6,869.9 2523.5,872.8 2523.4,875.6 2523.4,878.5 2523.4,881.4 2523.4,884.2 2523.3,887.1 2523.1,890 2522.4,893 2521.9,895.8 2521.4,898.6 2520.9,901.4 2520.4,904.2 2519.9,907 2519.4,909.8 2519,912.6 2518.5,915.3 2518,918.1 2517.5,920.9 2516.9,923.7 2516.4,926.4 2515.8,929.2 2515.2,932 2514.6,934.8 2513.9,937.6 2513.2,940.4 2512.5,943.2 2511.7,946 2510.9,948.8 2510.2,951.6 2509.4,954.4 2508.7,957.2 2508,960 2507.4,962.8 2506.7,965.6 2506,968.3 2505.4,971.1 2504.7,973.9 2504.1,976.7 2503.5,979.5 2503,982.2 2502.6,985 2502.2,987.8 2501.9,990.6 2501.6,993.4 2501.3,996.1 2501,998.9 2500.8,1001.7 2500.6,1004.5 2500.4,1007.3 2500.3,1010 2500.2,1012.8 2500.1,1015.6 2500.2,1018.5 2500.2,1021.4 2500.3,1024.2 2500.3,1027.1 2500.4,1030 2501.1,1032.6 2502.4,1035.2 2503.4,1037.8 2504.2,1040.6 2504.9,1043.3 2505.6,1046.1 2506.2,1048.9 2506.8,1051.6 2507.4,1054.4 2507.9,1057.2 2508.4,1059.9 2508.9,1062.7 2509.5,1065.5 2510,1068.2 2510.5,1071 2511.1,1073.8 2511.7,1076.6 2512.3,1079.4 2512.9,1082.2 2513.5,1085 2514.1,1087.7 2514.6,1090.5 2515.1,1093.3 2515.6,1096.1 2516,1098.9 2516.4,1101.7 2516.8,1104.6 2517.1,1107.4 2517.5,1110.2 2517.8,1113 2518.1,1115.9 2518.4,1118.7 2518.7,1121.5 2519,1124.3 2519.3,1127.2 2519.6,1130 2520,1132.7 2520.4,1135.4 2520.7,1138.1 2521.1,1140.9 2521.5,1143.6 2522,1146.3 2522.4,1149 2523.1,1152 2523.4,1154.9 2523.6,1157.7 2523.8,1160.6 2523.9,1163.5 2524,1166.4 2524.1,1169.2 2524.2,1172.1 2524.3,1175 2524.5,1177.9 2524.7,1180.7 2524.9,1183.6 2525.3,1185.7 2525.9,1187.9 2526.4,1190 2527.4,1193 2527.9,1196 2527.9,1198.7 2527.9,1201.4 2527.9,1204.1 2527.9,1206.9 2527.9,1209.6 2527.9,1212.3 2527.9,1215 2528,1217.9 2528,1220.7 2528,1223.6 2528,1226.4 2528,1229.3 2528,1232.1 2528,1235 2528,1237.9 2528,1240.7 2528,1243.6 2528.1,1246.4 2528.1,1249.3 2528.1,1252.1 2528.1,1255 2528.6,1257.3 2529.3,1259.7 2529.8,1262 2529.9,1264.8 2529.9,1267.6 2530,1270.4 2530.1,1273.2 2530.1,1276 2530.2,1278.8 2530.2,1281.6 2530.2,1284.4 2530.2,1287.2 2530.2,1290 2530.3,1293 2530.3,1295.9 2530.3,1298.9 2530.3,1301.9 2530.3,1304.9 2530.3,1307.8 2530.3,1310.8 2530.3,1313.8 2530.3,1316.8 2530.3,1319.7 2530.3,1322.7 2530.3,1325.7 2530.3,1328.6 2530.3,1331.6 2530.3,1334.6 2530.3,1337.6 2530.3,1340.5 2530.3,1343.5 2530.3,1346.5 2530.3,1349.5 2530.3,1352.4 2530.3,1355.4 2530.3,1358.4 2530.3,1361.4 2530.3,1364.3 2530.3,1367.3 2530.3,1370.3 2530.3,1373.2 2530.3,1376.2 2530.3,1379.2 2530.3,1382.2 2530.3,1385.1 2530.3,1388.1 2530.3,1391.1 2530.3,1394.1 2530.3,1397 2530.3,1400 2530.4,1402.7 2530.5,1405.3 2530.7,1408 2530.7,1410.6 2530.7,1413.3 2530.7,1413.3 2530.7,1410.6 2530.7,1408 2530.9,1405.3 2531,1402.7 2531,1400 2531.1,1397 2531.1,1394.1 2531.1,1391.1 2531.1,1388.1 2531.1,1385.1 2531.1,1382.2 2531.1,1379.2 2531.1,1376.2 2531.1,1373.2 2531.1,1370.3 2531.1,1367.3 2531.1,1364.3 2531.1,1361.4 2531.1,1358.4 2531.1,1355.4 2531.1,1352.4 2531.1,1349.5 2531.1,1346.5 2531.1,1343.5 2531.1,1340.5 2531.1,1337.6 2531.1,1334.6 2531.1,1331.6 2531.1,1328.6 2531.1,1325.7 2531.1,1322.7 2531.1,1319.7 2531.1,1316.8 2531.1,1313.8 2531.1,1310.8 2531.1,1307.8 2531.1,1304.9 2531.1,1301.9 2531.1,1298.9 2531.1,1295.9 2531.1,1293 2531.1,1290 2531.2,1287.2 2531.2,1284.4 2531.2,1281.6 2531.2,1278.8 2531.3,1276 2531.3,1273.2 2531.4,1270.4 2531.5,1267.6 2531.5,1264.8 2531.6,1262 2532.1,1259.7 2532.8,1257.3 2533.2,1255 2533.3,1252.1 2533.3,1249.3 2533.3,1246.4 2533.4,1243.6 2533.4,1240.7 2533.4,1237.9 2533.4,1235 2533.4,1232.1 2533.4,1229.3 2533.4,1226.4 2533.4,1223.6 2533.4,1220.7 2533.4,1217.9 2533.4,1215 2533.4,1212.3 2533.4,1209.6 2533.4,1206.9 2533.4,1204.1 2533.4,1201.4 2533.4,1198.7 2533.4,1196 2534,1193 2534.9,1190 2535.5,1187.9 2536.1,1185.7 2536.4,1183.6 2536.7,1180.7 2536.9,1177.9 2537.1,1175 2537.2,1172.1 2537.3,1169.2 2537.4,1166.4 2537.5,1163.5 2537.6,1160.6 2537.8,1157.7 2538,1154.9 2538.2,1152 2538.9,1149 2539.4,1146.3 2539.9,1143.6 2540.3,1140.9 2540.7,1138.1 2541,1135.4 2541.4,1132.7 2541.8,1130 2542.1,1127.2 2542.4,1124.3 2542.7,1121.5 2543,1118.7 2543.3,1115.9 2543.6,1113 2543.9,1110.2 2544.3,1107.4 2544.6,1104.6 2545,1101.7 2545.3,1098.9 2545.8,1096.1 2546.3,1093.3 2546.8,1090.5 2547.3,1087.7 2547.9,1085 2548.5,1082.2 2549.1,1079.4 2549.7,1076.6 2550.3,1073.8 2550.8,1071 2551.4,1068.2 2551.9,1065.5 2552.5,1062.7 2553,1059.9 2553.5,1057.2 2554,1054.4 2554.6,1051.6 2555.2,1048.9 2555.8,1046.1 2556.5,1043.3 2557.2,1040.6 2557.9,1037.8 2559,1035.2 2560.3,1032.6 2560.9,1030 2561.1,1027.1 2561.1,1024.2 2561.2,1021.4 2561.2,1018.5 2561.2,1015.6 2561.2,1012.8 2561.1,1010 2561,1007.3 2560.8,1004.5 2560.6,1001.7 2560.4,998.9 2560.1,996.1 2559.8,993.4 2559.5,990.6 2559.2,987.8 2558.8,985 2558.4,982.2 2557.9,979.5 2557.3,976.7 2556.7,973.9 2556,971.1 2555.4,968.3 2554.7,965.6 2554,962.8 2553.3,960 2552.7,957.2 2552,954.4 2551.2,951.6 2550.5,948.8 2549.7,946 2548.9,943.2 2548.2,940.4 2547.5,937.6 2546.8,934.8 2546.1,932 2545.6,929.2 2545,926.4 2544.5,923.7 2543.9,920.9 2543.4,918.1 2542.9,915.3 2542.4,912.6 2542,909.8 2541.4,907 2541,904.2 2540.5,901.4 2540,898.6 2539.5,895.8 2538.9,893 2538.2,890 2538.1,887.1 2538,884.2 2538,881.4 2538,878.5 2538,875.6 2537.9,872.8 2537.8,869.9 2537.6,867 2534.2,865.6 2534.2,862.7 2534.2,859.9 2534.2,857 2534.1,854.7 2533.8,852.3 2533.4,850 2533.2,847.5 2532.9,845 2532.7,842.5 2532.4,840 2532.2,837.1 2532,834.3 2531.8,831.4 2531.6,828.6 2531.4,825.7 2531.3,822.9 2531.2,820 2531.2,817 2531.2,814 2531.2,811 2531.2,808 2531.2,805 2531.2,802 2531.2,799 2531.2,796 2531.1,793 2531.1,790 2531.1,787 2531.1,784 2531.1,781 2531.1,778 2531,775 2530.9,772 2530.7,769 2530.7,766" fill="#1f78b4" stroke="#1f78b4" stroke-width="0.5" stroke-linejoin="round"/>
<path d="M2522.7 764.2H2530.7M2530.7 764.2H2538.7M2522.7 793.3H2530M2531.4 793.3H2538.7M2522.7 809.2H2530M2531.4 809.2H2538.7M2522.7 826.7H2529.7M2531.7 826.7H2538.7M2522.7 831.7H2529.3M2532.1 831.7H2538.7M2522.7 840.6H2528.6M2532.8 840.6H2538.7M2522.7 847.5H2528M2533.4 847.5H2538.7M2522.7 851.5H2527.5M2533.9 851.5H2538.7M2522.7 855.8H2527M2534.4 855.8H2538.7M2522.7 869H2523.4M2538 869H2538.7M2522.7 872H2523.3M2538.1 872H2538.7M2522.7 875H2523.2M2538.2 875H2538.7M2522.7 878H2523.2M2538.2 878H2538.7M2522.7 881H2523.1M2538.3 881H2538.7M2522.7 884H2523.1M2538.3 884H2538.7M2522.7 887H2523M2538.4 887H2538.7M2522.7 890H2522.9M2538.5 890H2538.7M2522.7 1153.5H2523M2538.4 1153.5H2538.7M2522.7 1156.5H2523.3M2538.1 1156.5H2538.7M2522.7 1159.5H2523.5M2537.9 1159.5H2538.7M2522.7 1162.5H2523.6M2537.8 1162.5H2538.7M2522.7 1165.5H2523.7M2537.7 1165.5H2538.7M2522.7 1168.5H2523.8M2537.6 1168.5H2538.7M2522.7 1171.5H2523.9M2537.5 1171.5H2538.7M2522.7 1174.5H2524.1M2537.3 1174.5H2538.7M2522.7 1177.5H2524.2M2537.2 1177.5H2538.7M2522.7 1180.5H2524.4M2537 1180.5H2538.7M2522.7 1187.8H2525.6M2535.8 1187.8H2538.7M2522.7 1203H2527.7M2533.7 1203H2538.7M2522.7 1211.4H2527.7M2533.7 1211.4H2538.7M2522.7 1219.7H2527.7M2533.7 1219.7H2538.7M2522.7 1225H2527.7M2533.7 1225H2538.7M2522.7 1230.8H2527.7M2533.7 1230.8H2538.7M2522.7 1236.4H2527.7M2533.7 1236.4H2538.7M2522.7 1240.5H2527.8M2533.6 1240.5H2538.7M2522.7 1244.6H2527.8M2533.6 1244.6H2538.7M2522.7 1248.8H2527.8M2533.6 1248.8H2538.7M2522.7 1252.9H2527.9M2533.5 1252.9H2538.7M2522.7 1257H2528.2M2533.2 1257H2538.7M2522.7 1262.8H2529.5M2531.9 1262.8H2538.7M2522.7 1270.6H2529.8M2531.6 1270.6H2538.7M2522.7 1289.2H2530M2531.4 1289.2H2538.7M2522.7 1296.7H2530M2531.4 1296.7H2538.7M2522.7 1305.3H2530M2531.4 1305.3H2538.7M2522.7 1323H2530M2531.4 1323H2538.7M2522.7 1367H2530.1M2531.3 1367H2538.7M2522.7 1382.8H2530.1M2531.3 1382.8H2538.7M2522.7 1406.7H2530.3M2531.1 1406.7H2538.7M2522.7 1451.1H2530.7M2530.7 1451.1H2538.7M2522.7 1505.3H2530.7M2530.7 1505.3H2538.7M2522.7 1558.9H2530.7M2530.7 1558.9H2538.7M2522.7 1697.8H2530.7M2530.7 1697.8H2538.7" stroke="#1f78b4" stroke-width="6.25" stroke-linecap="round" fill="none"/>
<path d="M2530.7 764.2h0.01M2530 793.3h1.4M2530 809.2h1.5M2529.7 826.7h2.1M2529.3 831.7h2.7M2528.6 840.6h4.1M2528 847.5h5.5M2527.5 851.5h6.4M2527 855.8h7.4M2523.4 869h14.6M2523.3 872h14.9M2523.2 875h15M2523.2 878h15.1M2523.1 881h15.1M2523.1 884h15.2M2523 887h15.3M2522.9 890h15.6M2522.7 893h16M2522.7 896h16M2522.7 899h16M2522.7 901.9h16M2522.7 904.9h16M2522.7 907.9h16M2522.7 910.9h16M2522.7 913.9h16M2522.7 916.9h16M2522.7 919.9h16M2522.7 922.9h16M2522.7 925.9h16M2522.7 928.9h16M2522.7 931.9h16M2522.7 934.9h16M2522.7 937.9h16M2522.7 940.9h16M2522.7 943.9h16M2522.7 946.9h16M2522.7 949.9h16M2522.7 952.9h16M2522.7 955.9h16M2522.7 958.9h16M2522.7 961.9h16M2522.7 964.8h16M2522.7 967.8h16M2522.7 970.8h16M2522.7 973.8h16M2522.7 976.8h16M2522.7 979.8h16M2522.7 982.8h16M2522.7 985.8h16M2522.7 988.8h16M2522.7 991.8h16M2522.7 994.8h16M2522.7 997.8h16M2522.7 1000.8h16M2522.7 1003.8h16M2522.7 1006.8h16M2522.7 1009.8h16M2522.7 1012.8h16M2522.7 1015.8h16M2522.7 1018.8h16M2522.7 1021.8h16M2522.7 1024.8h16M2522.7 1027.7h16M2522.7 1030.7h16M2522.7 1033.7h16M2522.7 1036.7h16M2522.7 1039.7h16M2522.7 1042.7h16M2522.7 1045.7h16M2522.7 1048.7h16M2522.7 1051.7h16M2522.7 1054.7h16M2522.7 1057.7h16M2522.7 1060.7h16M2522.7 1063.7h16M2522.7 1066.7h16M2522.7 1069.7h16M2522.7 1072.7h16M2522.7 1075.7h16M2522.7 1078.7h16M2522.7 1081.7h16M2522.7 1084.7h16M2522.7 1087.6h16M2522.7 1090.6h16M2522.7 1093.6h16M2522.7 1096.6h16M2522.7 1099.6h16M2522.7 1102.6h16M2522.7 1105.6h16M2522.7 1108.6h16M2522.7 1111.6h16M2522.7 1114.6h16M2522.7 1117.6h16M2522.7 1120.6h16M2522.7 1123.6h16M2522.7 1126.6h16M2522.7 1129.6h16M2522.7 1132.6h16M2522.7 1135.6h16M2522.7 1138.6h16M2522.7 1141.6h16M2522.7 1144.6h16M2522.7 1147.6h16M2522.7 1150.5h16M2523 1153.5h15.3M2523.3 1156.5h14.8M2523.5 1159.5h14.4M2523.6 1162.5h14.1M2523.7 1165.5h13.9M2523.8 1168.5h13.7M2523.9 1171.5h13.5M2524.1 1174.5h13.3M2524.2 1177.5h13M2524.4 1180.5h12.6M2525.6 1187.8h10.2M2527.7 1203h6M2527.7 1211.4h6M2527.7 1219.7h6M2527.7 1225h6M2527.7 1230.8h6M2527.7 1236.4h5.9M2527.8 1240.5h5.9M2527.8 1244.6h5.8M2527.8 1248.8h5.7M2527.9 1252.9h5.7M2528.2 1257h4.9M2529.5 1262.8h2.3M2529.8 1270.6h1.9M2530 1289.2h1.4M2530 1296.7h1.4M2530 1305.3h1.4M2530 1323h1.3M2530.1 1367h1.3M2530.1 1382.8h1.3M2530.3 1406.7h0.7M2530.7 1451.1h0.01M2530.7 1505.3h0.01M2530.7 1558.9h0.01M2530.7 1697.8h0.01" stroke="#fff" stroke-width="6.25" stroke-linecap="round" fill="none"/>
<line x1="2480.7" y1="1030.7" x2="2580.7" y2="1030.7" stroke="#fff" stroke-width="12.5" stroke-linecap="round"/>
<polygon points="2831.7,732 2831.7,734.7 2831.5,737.3 2831.3,740 2831.3,742.9 2831.3,745.8 2831.3,748.7 2831.3,751.6 2831.3,754.5 2831.3,757.4 2831.3,760.3 2831.3,763.2 2831.3,766.1 2831.3,768.9 2831.3,771.8 2831.3,774.7 2831.3,777.6 2831.3,780.5 2831.3,783.4 2831.3,786.3 2831.3,789.2 2831.3,792.1 2831.2,795 2831.2,797.9 2831.2,800.7 2831.1,803.6 2831,806.4 2830.8,809.3 2830.7,812.1 2830.4,815 2830,817.3 2829.4,819.7 2828.9,822 2828.8,824.8 2828.6,827.6 2828.5,830.4 2828.5,833.2 2828.4,836 2828.3,838.8 2828.2,841.6 2827.9,844.4 2826.9,847.2 2825.9,850 2825.8,853 2825.7,856 2825.6,859 2825.4,862 2824.5,864 2824.4,866.7 2824.4,869.3 2824.3,872 2824.3,874.7 2824.3,877.3 2824.1,880 2823.4,883 2823.1,886 2822.9,889 2822.7,892 2822.4,895 2822.2,897.8 2821.9,900.5 2821.6,903.2 2821.1,906 2820.5,908 2819.9,910.8 2819.2,913.6 2818.6,916.4 2818.1,919.2 2817.5,922 2817,924.8 2816.5,927.6 2816,930.4 2815.5,933.2 2814.9,936 2814.4,938.8 2813.9,941.6 2813.3,944.4 2812.8,947.2 2812.2,950 2811.7,952.8 2811.2,955.6 2810.8,958.4 2810.3,961.2 2809.9,964 2809.6,966.8 2809.3,969.5 2809,972.3 2808.7,975.1 2808.4,977.9 2808.1,980.6 2807.9,983.4 2807.6,986.2 2807.4,988.9 2807.2,991.7 2807.1,994.5 2806.9,997.2 2806.8,1000 2806.6,1002.7 2806.4,1005.5 2806.3,1008.2 2806.2,1011 2806.1,1013.7 2806,1016.5 2806,1019.2 2805.9,1022 2806,1024.6 2806,1027.2 2806.1,1029.8 2806.3,1032.3 2806.4,1034.9 2806.5,1037.5 2806.7,1040.4 2807,1043.3 2807.3,1046.2 2807.6,1049 2808,1051.9 2808.4,1054.8 2808.9,1057.7 2809.3,1060.6 2809.8,1063.5 2810.2,1066.3 2810.7,1069.2 2811.1,1072.1 2811.5,1075 2812,1077.8 2812.4,1080.6 2812.8,1083.3 2813.3,1086.1 2813.7,1088.9 2814.2,1091.7 2814.6,1094.4 2815,1097.2 2815.4,1100 2815.9,1102.9 2816.3,1105.7 2816.6,1108.6 2817,1111.4 2817.4,1114.3 2817.8,1117.1 2818.1,1120 2818.5,1122.7 2818.7,1125.4 2819,1128.1 2819.2,1130.9 2819.6,1133.6 2820,1136.3 2820.4,1139 2821.1,1141 2821.6,1143.9 2821.9,1146.8 2822.2,1149.6 2822.4,1152.5 2822.5,1155.4 2822.8,1158.2 2823,1161.1 2823.4,1164 2824.2,1167 2824.4,1169.8 2824.4,1172.6 2824.5,1175.4 2824.5,1178.2 2824.6,1181 2825.7,1183 2826.8,1185 2827,1188 2827.3,1191 2827.4,1194 2827.6,1197 2827.7,1200 2827.8,1203 2827.9,1206 2828,1209 2828,1212 2828.1,1215 2828.1,1218 2828.2,1221 2828.3,1224 2828.4,1227 2828.5,1230 2828.6,1233 2828.8,1236 2828.9,1239 2829.2,1241 2829.4,1243 2829.4,1246 2829.4,1249 2829.4,1252 2829.4,1255 2829.8,1257.3 2830.5,1259.7 2830.9,1262 2831,1264.9 2831,1267.8 2831.1,1270.8 2831.1,1273.7 2831.1,1276.6 2831.2,1279.5 2831.2,1282.5 2831.2,1285.4 2831.2,1288.3 2831.2,1291.2 2831.2,1294.2 2831.2,1297.1 2831.2,1300 2831.3,1303 2831.3,1306 2831.3,1309 2831.3,1312 2831.3,1315 2831.3,1318 2831.3,1321 2831.3,1324 2831.3,1327 2831.3,1330 2831.3,1333 2831.3,1336 2831.3,1339 2831.3,1342 2831.3,1345 2831.3,1348 2831.3,1351 2831.3,1354 2831.3,1357 2831.3,1360 2831.3,1363 2831.3,1366 2831.3,1369 2831.3,1372 2831.3,1375 2831.5,1377.8 2831.7,1380.5 2831.7,1383.3 2831.7,1383.3 2831.7,1380.5 2831.9,1377.8 2832,1375 2832.1,1372 2832.1,1369 2832.1,1366 2832.1,1363 2832.1,1360 2832.1,1357 2832.1,1354 2832.1,1351 2832.1,1348 2832.1,1345 2832.1,1342 2832.1,1339 2832.1,1336 2832.1,1333 2832.1,1330 2832.1,1327 2832.1,1324 2832.1,1321 2832.1,1318 2832.1,1315 2832.1,1312 2832.1,1309 2832.1,1306 2832.1,1303 2832.1,1300 2832.2,1297.1 2832.2,1294.2 2832.2,1291.2 2832.2,1288.3 2832.2,1285.4 2832.2,1282.5 2832.2,1279.5 2832.3,1276.6 2832.3,1273.7 2832.3,1270.8 2832.4,1267.8 2832.4,1264.9 2832.4,1262 2832.9,1259.7 2833.6,1257.3 2833.9,1255 2833.9,1252 2833.9,1249 2833.9,1246 2833.9,1243 2834.2,1241 2834.4,1239 2834.6,1236 2834.8,1233 2834.9,1230 2835,1227 2835.1,1224 2835.2,1221 2835.3,1218 2835.3,1215 2835.4,1212 2835.4,1209 2835.5,1206 2835.6,1203 2835.7,1200 2835.8,1197 2836,1194 2836.1,1191 2836.4,1188 2836.6,1185 2837.7,1183 2838.8,1181 2838.9,1178.2 2838.9,1175.4 2839,1172.6 2839,1169.8 2839.1,1167 2839.9,1164 2840.4,1161.1 2840.6,1158.2 2840.9,1155.4 2841,1152.5 2841.2,1149.6 2841.5,1146.8 2841.8,1143.9 2842.2,1141 2842.9,1139 2843.4,1136.3 2843.8,1133.6 2844.2,1130.9 2844.4,1128.1 2844.7,1125.4 2844.9,1122.7 2845.2,1120 2845.6,1117.1 2846,1114.3 2846.4,1111.4 2846.8,1108.6 2847.1,1105.7 2847.5,1102.9 2847.9,1100 2848.4,1097.2 2848.8,1094.4 2849.2,1091.7 2849.7,1088.9 2850.1,1086.1 2850.6,1083.3 2851,1080.6 2851.4,1077.8 2851.8,1075 2852.3,1072.1 2852.7,1069.2 2853.2,1066.3 2853.6,1063.5 2854.1,1060.6 2854.5,1057.7 2855,1054.8 2855.4,1051.9 2855.8,1049 2856.1,1046.2 2856.4,1043.3 2856.7,1040.4 2856.8,1037.5 2857,1034.9 2857.1,1032.3 2857.3,1029.8 2857.4,1027.2 2857.4,1024.6 2857.4,1022 2857.4,1019.2 2857.4,1016.5 2857.3,1013.7 2857.2,1011 2857.1,1008.2 2857,1005.5 2856.8,1002.7 2856.6,1000 2856.5,997.2 2856.3,994.5 2856.1,991.7 2856,988.9 2855.8,986.2 2855.5,983.4 2855.3,980.6 2855,977.9 2854.7,975.1 2854.4,972.3 2854.1,969.5 2853.8,966.8 2853.4,964 2853.1,961.2 2852.6,958.4 2852.2,955.6 2851.7,952.8 2851.2,950 2850.6,947.2 2850.1,944.4 2849.5,941.6 2849,938.8 2848.4,936 2847.9,933.2 2847.4,930.4 2846.9,927.6 2846.4,924.8 2845.9,922 2845.3,919.2 2844.8,916.4 2844.2,913.6 2843.5,910.8 2842.8,908 2842.2,906 2841.8,903.2 2841.5,900.5 2841.2,897.8 2840.9,895 2840.7,892 2840.5,889 2840.3,886 2839.9,883 2839.2,880 2839.1,877.3 2839.1,874.7 2839.1,872 2839,869.3 2839,866.7 2838.8,864 2837.9,862 2837.8,859 2837.7,856 2837.6,853 2837.4,850 2836.5,847.2 2835.4,844.4 2835.2,841.6 2835.1,838.8 2835,836 2834.9,833.2 2834.9,830.4 2834.8,827.6 2834.6,824.8 2834.4,822 2834,819.7 2833.4,817.3 2832.9,815 2832.7,812.1 2832.6,809.3 2832.4,806.4 2832.3,803.6 2832.2,800.7 2832.2,797.9 2832.1,795 2832.1,792.1 2832.1,789.2 2832.1,786.3 2832.1,783.4 2832.1,780.5 2832.1,777.6 2832.1,774.7 2832.1,771.8 2832.1,768.9 2832.1,766.1 2832.1,763.2 2832.1,760.3 2832.1,757.4 2832.1,754.5 2832.1,751.6 2832.1,748.7 2832.1,745.8 2832.1,742.9 2832,740 2831.9,737.3 2831.7,734.7 2831.7,732" fill="#1f78b4" stroke="#1f78b4" stroke-width="0.5" stroke-linejoin="round"/>
<path d="M2823.7 723.6H2831.7M2831.7 723.6H2839.7M2823.7 751.4H2831.1M2832.3 751.4H2839.7M2823.7 784.7H2831M2832.4 784.7H2839.7M2823.7 825H2828.5M2834.9 825H2839.7M2823.7 829.1H2828.3M2835.1 829.1H2839.7M2823.7 833.1H2828.2M2835.2 833.1H2839.7M2823.7 837.2H2828.1M2835.3 837.2H2839.7M2823.7 841.3H2827.9M2835.5 841.3H2839.7M2823.7 849H2826.1M2837.3 849H2839.7M2823.7 851.8H2825.6M2837.8 851.8H2839.7M2823.7 854.7H2825.5M2837.9 854.7H2839.7M2823.7 857.5H2825.4M2838 857.5H2839.7M2823.7 867H2824.2M2839.2 867H2839.7M2823.7 870H2824.1M2839.3 870H2839.7M2823.7 873H2824.1M2839.3 873H2839.7M2823.7 876H2824M2839.4 876H2839.7M2823.7 879H2823.9M2839.5 879H2839.7M2823.7 1167H2824M2839.4 1167H2839.7M2823.7 1170H2824.1M2839.3 1170H2839.7M2823.7 1173H2824.2M2839.2 1173H2839.7M2823.7 1176H2824.2M2839.2 1176H2839.7M2823.7 1179H2824.3M2839.1 1179H2839.7M2823.7 1182H2824.9M2838.5 1182H2839.7M2823.7 1185H2826.5M2836.9 1185H2839.7M2823.7 1188H2826.8M2836.6 1188H2839.7M2823.7 1191H2827M2836.4 1191H2839.7M2823.7 1194H2827.2M2836.2 1194H2839.7M2823.7 1197H2827.4M2836 1197H2839.7M2823.7 1200H2827.5M2835.9 1200H2839.7M2823.7 1203H2827.6M2835.8 1203H2839.7M2823.7 1206H2827.7M2835.7 1206H2839.7M2823.7 1209H2827.7M2835.7 1209H2839.7M2823.7 1212H2827.8M2835.6 1212H2839.7M2823.7 1215H2827.8M2835.6 1215H2839.7M2823.7 1218H2827.9M2835.5 1218H2839.7M2823.7 1221H2828M2835.4 1221H2839.7M2823.7 1224H2828M2835.4 1224H2839.7M2823.7 1227H2828.1M2835.3 1227H2839.7M2823.7 1230H2828.2M2835.2 1230H2839.7M2823.7 1233H2828.3M2835.1 1233H2839.7M2823.7 1236H2828.5M2834.9 1236H2839.7M2823.7 1245.8H2829.2M2834.2 1245.8H2839.7M2823.7 1252.2H2829.2M2834.2 1252.2H2839.7M2823.7 1290H2831M2832.4 1290H2839.7M2823.7 1305H2831M2832.4 1305H2839.7M2823.7 1327H2831M2832.4 1327H2839.7M2823.7 1365.3H2831.1M2832.3 1365.3H2839.7M2823.7 1376.7H2831.2M2832.2 1376.7H2839.7M2823.7 1927.1H2831.7M2831.7 1927.1H2839.7" stroke="#1f78b4" stroke-width="6.25" stroke-linecap="round" fill="none"/>
<path d="M2831.7 723.6h0.01M2831.1 751.4h1.3M2831 784.7h1.3M2828.5 825h6.4M2828.3 829.1h6.7M2828.2 833.1h6.9M2828.1 837.2h7.2M2827.9 841.3h7.5M2826.1 849h11.3M2825.6 851.8h12.2M2825.5 854.7h12.4M2825.4 857.5h12.5M2824.2 867h15.1M2824.1 870h15.2M2824.1 873h15.2M2824 876h15.3M2823.9 879h15.5M2823.7 882h16M2823.7 885h16M2823.7 888h16M2823.7 891h16M2823.7 894h16M2823.7 897h16M2823.7 900h16M2823.7 903h16M2823.7 906h16M2823.7 909h16M2823.7 912h16M2823.7 915h16M2823.7 918h16M2823.7 921h16M2823.7 924h16M2823.7 927h16M2823.7 930h16M2823.7 933h16M2823.7 936h16M2823.7 939h16M2823.7 942h16M2823.7 945h16M2823.7 948h16M2823.7 951h16M2823.7 954h16M2823.7 957h16M2823.7 960h16M2823.7 963h16M2823.7 966h16M2823.7 969h16M2823.7 972h16M2823.7 975h16M2823.7 978h16M2823.7 981h16M2823.7 984h16M2823.7 987h16M2823.7 990h16M2823.7 993h16M2823.7 996h16M2823.7 999h16M2823.7 1002h16M2823.7 1005h16M2823.7 1008h16M2823.7 1011h16M2823.7 1014h16M2823.7 1017h16M2823.7 1020h16M2823.7 1023h16M2823.7 1026h16M2823.7 1029h16M2823.7 1032h16M2823.7 1035h16M2823.7 1038h16M2823.7 1041h16M2823.7 1044h16M2823.7 1047h16M2823.7 1050h16M2823.7 1053h16M2823.7 1056h16M2823.7 1059h16M2823.7 1062h16M2823.7 1065h16M2823.7 1068h16M2823.7 1071h16M2823.7 1074h16M2823.7 1077h16M2823.7 1080h16M2823.7 1083h16M2823.7 1086h16M2823.7 1089h16M2823.7 1092h16M2823.7 1095h16M2823.7 1098h16M2823.7 1101h16M2823.7 1104h16M2823.7 1107h16M2823.7 1110h16M2823.7 1113h16M2823.7 1116h16M2823.7 1119h16M2823.7 1122h16M2823.7 1125h16M2823.7 1128h16M2823.7 1131h16M2823.7 1134h16M2823.7 1137h16M2823.7 1140h16M2823.7 1143h16M2823.7 1146h16M2823.7 1149h16M2823.7 1152h16M2823.7 1155h16M2823.7 1158h16M2823.7 1161h16M2823.7 1164h16M2824 1167h15.4M2824.1 1170h15.1M2824.2 1173h15M2824.2 1176h15M2824.3 1179h14.8M2824.9 1182h13.6M2826.5 1185h10.4M2826.8 1188h9.8M2827 1191h9.4M2827.2 1194h9M2827.4 1197h8.7M2827.5 1200h8.4M2827.6 1203h8.2M2827.7 1206h8.1M2827.7 1209h7.9M2827.8 1212h7.8M2827.8 1215h7.7M2827.9 1218h7.6M2828 1221h7.5M2828 1224h7.4M2828.1 1227h7.2M2828.2 1230h7M2828.3 1233h6.7M2828.5 1236h6.4M2829.2 1245.8h5M2829.2 1252.2h5M2831 1290h1.5M2831 1305h1.4M2831 1327h1.3M2831.1 1365.3h1.3M2831.2 1376.7h1.1M2831.7 1927.1h0.01" stroke="#fff" stroke-width="6.25" stroke-linecap="round" fill="none"/>
<line x1="2781.7" y1="1029.9" x2="2881.7" y2="1029.9" stroke="#fff" stroke-width="12.5" stroke-linecap="round"/>
<polygon points="3132.7,763 3132.7,766 3132.5,769 3132.3,772 3132.3,775 3132.2,778 3132.2,781 3132.1,784 3132,787 3131.9,790 3131.8,792.5 3131.5,795 3131.2,797.5 3130.9,800 3130.6,802.8 3130.3,805.6 3129.9,808.4 3129.6,811.2 3129.4,814 3129.3,816.9 3129.3,819.7 3129.2,822.6 3129.2,825.4 3129.1,828.3 3129,831.1 3128.9,834 3128.8,836.8 3128.6,839.6 3128.4,842.4 3128.1,845.2 3127.9,848 3127.8,850.8 3127.7,853.6 3127.6,856.5 3127.5,859.3 3127.4,862.1 3127.3,864.9 3127.2,867.7 3127.1,870.5 3126.9,873.4 3126.7,876.2 3126.4,879 3125.5,882 3125.5,885 3125.4,888 3125.4,891 3125.4,894 3125.3,897 3125.3,900 3125.3,903 3125.1,906 3124.4,908 3123.7,911 3123.1,914 3122.5,917 3121.8,920 3121,922.8 3120.1,925.6 3119.1,928.4 3118.1,931.2 3117,934 3116,936.8 3114.9,939.6 3113.8,942.4 3112.7,945.2 3111.7,948 3110.7,950.8 3109.6,953.6 3108.5,956.4 3107.3,959.2 3106.2,962 3105.2,964.8 3104.1,967.6 3103.2,970.4 3102.4,973.2 3101.7,976 3101.1,978.8 3100.4,981.6 3099.8,984.4 3099.2,987.2 3098.6,990 3098.2,992.8 3097.7,995.6 3097.4,998.4 3097.2,1001.2 3097.1,1004 3097.2,1006.8 3097.3,1009.5 3097.4,1012.3 3097.6,1015 3097.8,1017.8 3098.2,1020.6 3098.6,1023.4 3099.3,1026.1 3100,1028.9 3100.8,1031.7 3101.7,1034.5 3102.7,1037.3 3103.6,1040 3104.6,1042.8 3105.4,1045.6 3106.4,1048.3 3107.3,1051.1 3108.4,1053.8 3109.5,1056.6 3110.6,1059.3 3111.7,1062 3112.7,1064.8 3113.7,1067.5 3114.6,1070.3 3115.3,1073 3116,1075.8 3116.7,1078.6 3117.3,1081.4 3117.9,1084.2 3118.4,1087 3118.9,1089.8 3119.4,1092.6 3119.9,1095.4 3120.4,1098.2 3120.9,1101 3121.5,1103.8 3121.9,1106.7 3122.3,1109.3 3122.7,1111.9 3123,1114.5 3123.3,1117.2 3123.6,1119.8 3124,1122.4 3124.4,1125 3125.1,1128 3125.5,1130.7 3125.8,1133.3 3125.9,1136 3126.1,1139 3126.3,1142 3126.4,1145 3126.5,1148 3126.6,1151 3126.7,1154 3126.8,1157 3126.9,1160 3127.1,1163 3127.4,1166 3127.7,1169 3128,1172 3128.3,1175 3128.6,1178 3129,1181 3129.3,1184 3129.6,1187 3129.8,1190 3130,1193 3130.1,1196 3130.1,1199 3130.1,1202 3130.5,1204 3130.9,1206 3130.9,1208.7 3130.9,1211.4 3130.9,1214.1 3130.8,1216.9 3130.8,1219.6 3130.8,1222.3 3130.8,1225 3131,1227.3 3131.6,1229.7 3131.9,1232 3132,1234.9 3132.1,1237.8 3132.1,1240.8 3132.1,1243.7 3132.1,1246.6 3132.2,1249.5 3132.2,1252.5 3132.2,1255.4 3132.2,1258.3 3132.2,1261.2 3132.3,1264.2 3132.3,1267.1 3132.3,1270 3132.5,1273 3132.7,1276 3132.7,1279 3132.7,1279 3132.7,1276 3132.9,1273 3133,1270 3133.1,1267.1 3133.1,1264.2 3133.2,1261.2 3133.2,1258.3 3133.2,1255.4 3133.2,1252.5 3133.2,1249.5 3133.3,1246.6 3133.3,1243.7 3133.3,1240.8 3133.3,1237.8 3133.4,1234.9 3133.4,1232 3133.8,1229.7 3134.4,1227.3 3134.6,1225 3134.6,1222.3 3134.6,1219.6 3134.6,1216.9 3134.5,1214.1 3134.5,1211.4 3134.5,1208.7 3134.4,1206 3134.8,1204 3135.2,1202 3135.2,1199 3135.3,1196 3135.4,1193 3135.6,1190 3135.8,1187 3136.1,1184 3136.4,1181 3136.8,1178 3137.1,1175 3137.4,1172 3137.7,1169 3138,1166 3138.3,1163 3138.4,1160 3138.6,1157 3138.7,1154 3138.8,1151 3138.9,1148 3139,1145 3139.1,1142 3139.3,1139 3139.4,1136 3139.6,1133.3 3139.9,1130.7 3140.2,1128 3140.9,1125 3141.4,1122.4 3141.8,1119.8 3142.1,1117.2 3142.4,1114.5 3142.7,1111.9 3143.1,1109.3 3143.4,1106.7 3143.9,1103.8 3144.4,1101 3145,1098.2 3145.5,1095.4 3146,1092.6 3146.5,1089.8 3147,1087 3147.5,1084.2 3148.1,1081.4 3148.7,1078.6 3149.4,1075.8 3150,1073 3150.8,1070.3 3151.7,1067.5 3152.7,1064.8 3153.7,1062 3154.8,1059.3 3155.9,1056.6 3157,1053.8 3158.1,1051.1 3159,1048.3 3159.9,1045.6 3160.8,1042.8 3161.8,1040 3162.7,1037.3 3163.7,1034.5 3164.6,1031.7 3165.4,1028.9 3166.1,1026.1 3166.8,1023.4 3167.2,1020.6 3167.5,1017.8 3167.8,1015 3168,1012.3 3168.1,1009.5 3168.2,1006.8 3168.2,1004 3168.2,1001.2 3168,998.4 3167.7,995.6 3167.2,992.8 3166.8,990 3166.2,987.2 3165.6,984.4 3165,981.6 3164.3,978.8 3163.7,976 3163,973.2 3162.2,970.4 3161.3,967.6 3160.2,964.8 3159.2,962 3158.1,959.2 3156.9,956.4 3155.8,953.6 3154.7,950.8 3153.7,948 3152.7,945.2 3151.6,942.4 3150.5,939.6 3149.4,936.8 3148.4,934 3147.3,931.2 3146.3,928.4 3145.3,925.6 3144.4,922.8 3143.6,920 3142.9,917 3142.3,914 3141.7,911 3140.9,908 3140.2,906 3140.1,903 3140.1,900 3140.1,897 3140,894 3140,891 3140,888 3139.9,885 3139.8,882 3138.9,879 3138.7,876.2 3138.5,873.4 3138.3,870.5 3138.2,867.7 3138.1,864.9 3138,862.1 3137.9,859.3 3137.8,856.5 3137.7,853.6 3137.6,850.8 3137.4,848 3137.3,845.2 3137,842.4 3136.8,839.6 3136.6,836.8 3136.4,834 3136.4,831.1 3136.3,828.3 3136.2,825.4 3136.2,822.6 3136.1,819.7 3136.1,816.9 3135.9,814 3135.8,811.2 3135.5,808.4 3135.1,805.6 3134.8,802.8 3134.4,800 3134.2,797.5 3133.9,795 3133.6,792.5 3133.4,790 3133.4,787 3133.3,784 3133.2,781 3133.2,778 3133.1,775 3133,772 3132.9,769 3132.7,766 3132.7,763" fill="#1f78b4" stroke="#1f78b4" stroke-width="0.5" stroke-linejoin="round"/>
<path d="M3124.7 780.8H3131.9M3133.5 780.8H3140.7M3124.7 798.5H3130.9M3134.5 798.5H3140.7M3124.7 802.5H3130.4M3135 802.5H3140.7M3124.7 817.5H3129.1M3136.3 817.5H3140.7M3124.7 821H3129M3136.4 821H3140.7M3124.7 824.4H3128.9M3136.5 824.4H3140.7M3124.7 827.8H3128.9M3136.5 827.8H3140.7M3124.7 831.3H3128.8M3136.6 831.3H3140.7M3124.7 839.4H3128.4M3137 839.4H3140.7M3124.7 851H3127.5M3137.9 851H3140.7M3124.7 854.6H3127.4M3138 854.6H3140.7M3124.7 858.1H3127.3M3138.1 858.1H3140.7M3124.7 861.7H3127.2M3138.2 861.7H3140.7M3124.7 865.3H3127.1M3138.3 865.3H3140.7M3124.7 868.9H3126.9M3138.5 868.9H3140.7M3124.7 872.4H3126.7M3138.7 872.4H3140.7M3124.7 876H3126.5M3138.9 876H3140.7M3124.7 884.8H3125.2M3140.2 884.8H3140.7M3124.7 887.8H3125.2M3140.2 887.8H3140.7M3124.7 890.8H3125.1M3140.3 890.8H3140.7M3124.7 893.8H3125.1M3140.3 893.8H3140.7M3124.7 896.8H3125.1M3140.3 896.8H3140.7M3124.7 899.8H3125.1M3140.3 899.8H3140.7M3124.7 902.8H3125M3140.4 902.8H3140.7M3124.7 905.7H3124.9M3140.5 905.7H3140.7M3124.7 1127.2H3124.7M3140.7 1127.2H3140.7M3124.7 1130.2H3125.2M3140.2 1130.2H3140.7M3124.7 1133.2H3125.5M3139.9 1133.2H3140.7M3124.7 1136.2H3125.7M3139.7 1136.2H3140.7M3124.7 1139.2H3125.9M3139.5 1139.2H3140.7M3124.7 1142.1H3126M3139.4 1142.1H3140.7M3124.7 1145.1H3126.1M3139.3 1145.1H3140.7M3124.7 1148.1H3126.2M3139.2 1148.1H3140.7M3124.7 1151.1H3126.3M3139.1 1151.1H3140.7M3124.7 1154.1H3126.4M3139 1154.1H3140.7M3124.7 1157.1H3126.6M3138.8 1157.1H3140.7M3124.7 1160.1H3126.7M3138.7 1160.1H3140.7M3124.7 1163.1H3126.9M3138.5 1163.1H3140.7M3124.7 1166.1H3127.1M3138.3 1166.1H3140.7M3124.7 1169.1H3127.4M3138 1169.1H3140.7M3124.7 1172.1H3127.7M3137.7 1172.1H3140.7M3124.7 1175.1H3128.1M3137.3 1175.1H3140.7M3124.7 1178.1H3128.4M3137 1178.1H3140.7M3124.7 1181H3128.7M3136.7 1181H3140.7M3124.7 1184H3129M3136.4 1184H3140.7M3124.7 1187H3129.3M3136.1 1187H3140.7M3124.7 1190H3129.6M3135.8 1190H3140.7M3124.7 1193H3129.7M3135.7 1193H3140.7M3124.7 1196H3129.9M3135.5 1196H3140.7M3124.7 1199H3129.9M3135.5 1199H3140.7M3124.7 1214.6H3130.6M3134.8 1214.6H3140.7M3124.7 1218.5H3130.6M3134.8 1218.5H3140.7M3124.7 1224.2H3130.5M3134.9 1224.2H3140.7M3124.7 1262.6H3132M3133.4 1262.6H3140.7M3124.7 1281.4H3132.7M3132.7 1281.4H3140.7" stroke="#1f78b4" stroke-width="6.25" stroke-linecap="round" fill="none"/>
<path d="M3131.9 780.8h1.6M3130.9 798.5h3.7M3130.4 802.5h4.6M3129.1 817.5h7.2M3129 821h7.4M3128.9 824.4h7.5M3128.9 827.8h7.7M3128.8 831.3h7.8M3128.4 839.4h8.7M3127.5 851h10.3M3127.4 854.6h10.6M3127.3 858.1h10.8M3127.2 861.7h11M3127.1 865.3h11.3M3126.9 868.9h11.6M3126.7 872.4h11.9M3126.5 876h12.4M3125.2 884.8h15M3125.2 887.8h15.1M3125.1 890.8h15.2M3125.1 893.8h15.2M3125.1 896.8h15.2M3125.1 899.8h15.3M3125 902.8h15.4M3124.9 905.7h15.6M3124.7 908.7h16M3124.7 911.7h16M3124.7 914.7h16M3124.7 917.7h16M3124.7 920.7h16M3124.7 923.7h16M3124.7 926.7h16M3124.7 929.7h16M3124.7 932.7h16M3124.7 935.7h16M3124.7 938.7h16M3124.7 941.7h16M3124.7 944.6h16M3124.7 947.6h16M3124.7 950.6h16M3124.7 953.6h16M3124.7 956.6h16M3124.7 959.6h16M3124.7 962.6h16M3124.7 965.6h16M3124.7 968.6h16M3124.7 971.6h16M3124.7 974.6h16M3124.7 977.6h16M3124.7 980.6h16M3124.7 983.5h16M3124.7 986.5h16M3124.7 989.5h16M3124.7 992.5h16M3124.7 995.5h16M3124.7 998.5h16M3124.7 1001.5h16M3124.7 1004.5h16M3124.7 1007.5h16M3124.7 1010.5h16M3124.7 1013.5h16M3124.7 1016.5h16M3124.7 1019.5h16M3124.7 1022.4h16M3124.7 1025.4h16M3124.7 1028.4h16M3124.7 1031.4h16M3124.7 1034.4h16M3124.7 1037.4h16M3124.7 1040.4h16M3124.7 1043.4h16M3124.7 1046.4h16M3124.7 1049.4h16M3124.7 1052.4h16M3124.7 1055.4h16M3124.7 1058.4h16M3124.7 1061.4h16M3124.7 1064.3h16M3124.7 1067.3h16M3124.7 1070.3h16M3124.7 1073.3h16M3124.7 1076.3h16M3124.7 1079.3h16M3124.7 1082.3h16M3124.7 1085.3h16M3124.7 1088.3h16M3124.7 1091.3h16M3124.7 1094.3h16M3124.7 1097.3h16M3124.7 1100.3h16M3124.7 1103.2h16M3124.7 1106.2h16M3124.7 1109.2h16M3124.7 1112.2h16M3124.7 1115.2h16M3124.7 1118.2h16M3124.7 1121.2h16M3124.7 1124.2h16M3124.7 1127.2h16M3125.2 1130.2h15M3125.5 1133.2h14.4M3125.7 1136.2h14M3125.9 1139.2h13.6M3126 1142.1h13.4M3126.1 1145.1h13.1M3126.2 1148.1h12.9M3126.3 1151.1h12.7M3126.4 1154.1h12.5M3126.6 1157.1h12.3M3126.7 1160.1h12M3126.9 1163.1h11.6M3127.1 1166.1h11.1M3127.4 1169.1h10.5M3127.7 1172.1h9.9M3128.1 1175.1h9.3M3128.4 1178.1h8.6M3128.7 1181h7.9M3129 1184h7.3M3129.3 1187h6.8M3129.6 1190h6.3M3129.7 1193h5.9M3129.9 1196h5.7M3129.9 1199h5.6M3130.6 1214.6h4.2M3130.6 1218.5h4.3M3130.5 1224.2h4.4M3132 1262.6h1.4M3132.7 1281.4h0.01" stroke="#fff" stroke-width="6.25" stroke-linecap="round" fill="none"/>
<line x1="3082.7" y1="1010.8" x2="3182.7" y2="1010.8" stroke="#fff" stroke-width="12.5" stroke-linecap="round"/>
<polygon points="3433.7,707 3433.7,709.7 3433.5,712.3 3433.3,715 3433.3,717.9 3433.2,720.7 3433.2,723.6 3433.1,726.4 3433.1,729.3 3433,732.1 3432.9,735 3432.8,737.9 3432.7,740.7 3432.5,743.6 3432.4,746.4 3432.2,749.3 3432.1,752.1 3431.9,755 3431.9,758 3431.8,761 3431.7,764 3431.7,767 3431.6,770 3431.5,773 3431.5,776 3431.4,779 3431.4,782 3431.3,785 3431.3,788 3431.3,791 3431.2,794 3431.2,797 3431.1,800 3431.1,802.9 3431.1,805.7 3431.1,808.6 3431.1,811.4 3431,814.3 3431,817.1 3430.9,820 3430.5,822.3 3429.5,824.7 3428.9,827 3428.8,829.8 3428.6,832.6 3428.6,835.3 3428.5,838.1 3428.5,840.9 3428.4,843.7 3428.3,846.4 3428.2,849.2 3427.9,852 3426.5,854 3426.4,856.6 3426.4,859.2 3426.3,861.8 3426.3,864.4 3426.1,867 3425.4,869 3425.1,871.8 3424.9,874.5 3424.7,877.2 3424.4,880 3424.1,882.8 3423.6,885.5 3423.1,888.2 3422.5,891 3421.9,893.8 3421.1,896.6 3420.2,899.3 3419.2,902.1 3418.2,904.9 3417.1,907.7 3416.1,910.4 3415,913.2 3413.9,916 3412.9,918.8 3411.7,921.6 3410.5,924.4 3409.2,927.2 3408,930 3406.7,932.8 3405.6,935.6 3404.5,938.4 3403.5,941.2 3402.7,944 3402,946.8 3401.3,949.5 3400.6,952.3 3399.9,955.1 3399.3,957.9 3398.8,960.6 3398.3,963.4 3397.8,966.2 3397.5,968.9 3397.1,971.7 3396.9,974.4 3396.6,977.1 3396.4,979.9 3396.2,982.6 3396.1,985.3 3396,988 3396.3,991 3396.9,994 3397.7,997 3398.4,1000 3399.2,1002.6 3400,1005.2 3400.8,1007.8 3401.8,1010.4 3402.7,1013 3403.7,1015.8 3404.8,1018.6 3406,1021.4 3407.2,1024.2 3408.4,1027 3409.6,1029.8 3410.8,1032.6 3411.9,1035.4 3413,1038.2 3413.9,1041 3414.9,1043.8 3415.7,1046.6 3416.5,1049.4 3417.3,1052.2 3418,1055 3418.8,1057.8 3419.5,1060.6 3420.3,1063.4 3421.1,1066.2 3421.9,1069 3422.9,1072 3423.5,1074.9 3423.8,1077.7 3424.1,1080.6 3424.4,1083.4 3424.7,1086.3 3425,1089.1 3425.4,1092 3426.1,1095 3426.5,1097.9 3426.7,1100.8 3426.9,1103.7 3427,1106.6 3427.1,1109.4 3427.2,1112.3 3427.4,1115.2 3427.6,1118.1 3427.9,1121 3428.5,1123.3 3429.4,1125.7 3429.9,1128 3430.3,1131 3430.6,1134 3430.8,1137 3430.9,1140 3431,1142.9 3431.1,1145.7 3431.2,1148.6 3431.2,1151.4 3431.3,1154.3 3431.3,1157.1 3431.4,1160 3432,1163 3432.4,1166 3432.5,1168.7 3432.6,1171.4 3432.6,1174.1 3432.6,1176.9 3432.7,1179.6 3432.7,1182.3 3432.8,1185 3432.8,1188 3432.9,1191 3433,1194 3433.1,1197 3433.1,1200 3433.2,1202.8 3433.2,1205.6 3433.2,1208.3 3433.2,1211.1 3433.2,1213.9 3433.3,1216.7 3433.3,1219.4 3433.3,1222.2 3433.3,1225 3433.5,1227.2 3433.7,1229.4 3433.7,1231.6 3433.7,1231.6 3433.7,1229.4 3433.9,1227.2 3434,1225 3434.1,1222.2 3434.1,1219.4 3434.1,1216.7 3434.2,1213.9 3434.2,1211.1 3434.2,1208.3 3434.2,1205.6 3434.2,1202.8 3434.2,1200 3434.3,1197 3434.4,1194 3434.5,1191 3434.6,1188 3434.6,1185 3434.7,1182.3 3434.7,1179.6 3434.8,1176.9 3434.8,1174.1 3434.8,1171.4 3434.9,1168.7 3434.9,1166 3435.4,1163 3435.9,1160 3436.1,1157.1 3436.1,1154.3 3436.2,1151.4 3436.2,1148.6 3436.3,1145.7 3436.4,1142.9 3436.4,1140 3436.6,1137 3436.8,1134 3437.1,1131 3437.4,1128 3438,1125.7 3438.9,1123.3 3439.4,1121 3439.8,1118.1 3440,1115.2 3440.2,1112.3 3440.3,1109.4 3440.4,1106.6 3440.5,1103.7 3440.7,1100.8 3440.9,1097.9 3441.2,1095 3441.9,1092 3442.4,1089.1 3442.7,1086.3 3443,1083.4 3443.3,1080.6 3443.6,1077.7 3443.9,1074.9 3444.4,1072 3445.4,1069 3446.3,1066.2 3447.1,1063.4 3447.9,1060.6 3448.6,1057.8 3449.4,1055 3450.1,1052.2 3450.9,1049.4 3451.7,1046.6 3452.5,1043.8 3453.4,1041 3454.4,1038.2 3455.5,1035.4 3456.6,1032.6 3457.8,1029.8 3459,1027 3460.2,1024.2 3461.4,1021.4 3462.6,1018.6 3463.7,1015.8 3464.7,1013 3465.6,1010.4 3466.6,1007.8 3467.4,1005.2 3468.2,1002.6 3468.9,1000 3469.7,997 3470.5,994 3471.1,991 3471.3,988 3471.3,985.3 3471.2,982.6 3471,979.9 3470.8,977.1 3470.5,974.4 3470.2,971.7 3469.9,968.9 3469.6,966.2 3469.1,963.4 3468.6,960.6 3468.1,957.9 3467.5,955.1 3466.8,952.3 3466.1,949.5 3465.4,946.8 3464.7,944 3463.9,941.2 3462.9,938.4 3461.8,935.6 3460.7,932.8 3459.4,930 3458.2,927.2 3456.9,924.4 3455.7,921.6 3454.5,918.8 3453.4,916 3452.4,913.2 3451.3,910.4 3450.3,907.7 3449.2,904.9 3448.2,902.1 3447.2,899.3 3446.3,896.6 3445.5,893.8 3444.8,891 3444.3,888.2 3443.8,885.5 3443.3,882.8 3442.9,880 3442.7,877.2 3442.5,874.5 3442.3,871.8 3441.9,869 3441.2,867 3441.1,864.4 3441.1,861.8 3441,859.2 3441,856.6 3440.8,854 3439.4,852 3439.2,849.2 3439.1,846.4 3439,843.7 3438.9,840.9 3438.9,838.1 3438.8,835.3 3438.8,832.6 3438.6,829.8 3438.4,827 3437.9,824.7 3436.9,822.3 3436.4,820 3436.4,817.1 3436.4,814.3 3436.3,811.4 3436.3,808.6 3436.3,805.7 3436.3,802.9 3436.2,800 3436.2,797 3436.2,794 3436.1,791 3436.1,788 3436.1,785 3436,782 3436,779 3435.9,776 3435.9,773 3435.8,770 3435.7,767 3435.7,764 3435.6,761 3435.5,758 3435.4,755 3435.3,752.1 3435.2,749.3 3435,746.4 3434.9,743.6 3434.7,740.7 3434.6,737.9 3434.4,735 3434.4,732.1 3434.3,729.3 3434.3,726.4 3434.2,723.6 3434.2,720.7 3434.1,717.9 3434,715 3433.9,712.3 3433.7,709.7 3433.7,707" fill="#1f78b4" stroke="#1f78b4" stroke-width="0.5" stroke-linejoin="round"/>
<polygon points="3433.7,1250 3433.6,1252.5 3433.3,1255 3433.3,1258 3433.3,1261 3433.3,1264 3433.3,1267 3433.3,1270 3433.5,1272.7 3433.7,1275.3 3433.7,1278 3433.7,1278 3433.7,1275.3 3433.9,1272.7 3434,1270 3434,1267 3434,1264 3434,1261 3434,1258 3434,1255 3433.8,1252.5 3433.7,1250" fill="#1f78b4" stroke="#1f78b4" stroke-width="0.5" stroke-linejoin="round"/>
<path d="M3425.7 696.7H3433.7M3433.7 696.7H3441.7M3425.7 737H3432.6M3434.8 737H3441.7M3425.7 743.9H3432.3M3435.1 743.9H3441.7M3425.7 754H3431.7M3435.7 754H3441.7M3425.7 757.2H3431.6M3435.8 757.2H3441.7M3425.7 766.7H3431.4M3436 766.7H3441.7M3425.7 770H3431.3M3436.1 770H3441.7M3425.7 780.5H3431.2M3436.2 780.5H3441.7M3425.7 784H3431.1M3436.3 784H3441.7M3425.7 798.9H3430.9M3436.5 798.9H3441.7M3425.7 808H3430.8M3436.6 808H3441.7M3425.7 813H3430.8M3436.6 813H3441.7M3425.7 830H3428.5M3438.9 830H3441.7M3425.7 833.8H3428.4M3439 833.8H3441.7M3425.7 837.6H3428.3M3439.1 837.6H3441.7M3425.7 841.4H3428.2M3439.2 841.4H3441.7M3425.7 845.2H3428.1M3439.3 845.2H3441.7M3425.7 849H3427.9M3439.5 849H3441.7M3425.7 856.7H3426.2M3441.2 856.7H3441.7M3425.7 860.5H3426.1M3441.3 860.5H3441.7M3425.7 864.4H3426M3441.4 864.4H3441.7M3425.7 1097H3426.1M3441.3 1097H3441.7M3425.7 1100H3426.4M3441 1100H3441.7M3425.7 1103H3426.6M3440.8 1103H3441.7M3425.7 1106H3426.7M3440.7 1106H3441.7M3425.7 1109H3426.8M3440.6 1109H3441.7M3425.7 1112H3427M3440.4 1112H3441.7M3425.7 1115H3427.1M3440.3 1115H3441.7M3425.7 1118H3427.4M3440 1118H3441.7M3425.7 1125.3H3429M3438.4 1125.3H3441.7M3425.7 1133H3430.2M3437.2 1133H3441.7M3425.7 1138H3430.6M3436.8 1138H3441.7M3425.7 1146H3430.9M3436.5 1146H3441.7M3425.7 1152H3431M3436.4 1152H3441.7M3425.7 1158.3H3431.1M3436.3 1158.3H3441.7M3425.7 1173.5H3432.4M3435 1173.5H3441.7M3425.7 1177.5H3432.4M3435 1177.5H3441.7M3425.7 1181.5H3432.4M3435 1181.5H3441.7M3425.7 1195.3H3432.8M3434.6 1195.3H3441.7M3425.7 1214.7H3433M3434.4 1214.7H3441.7M3425.7 1257.2H3433.1M3434.3 1257.2H3441.7M3425.7 1275.2H3433.4M3434 1275.2H3441.7" stroke="#1f78b4" stroke-width="6.25" stroke-linecap="round" fill="none"/>
<path d="M3433.7 696.7h0.01M3432.6 737h2.1M3432.3 743.9h2.9M3431.7 754h3.9M3431.6 757.2h4.1M3431.4 766.7h4.6M3431.3 770h4.7M3431.2 780.5h5.1M3431.1 784h5.2M3430.9 798.9h5.6M3430.8 808h5.7M3430.8 813h5.8M3428.5 830h10.4M3428.4 833.8h10.7M3428.3 837.6h10.8M3428.2 841.4h10.9M3428.1 845.2h11.1M3427.9 849h11.5M3426.2 856.7h15.1M3426.1 860.5h15.2M3426 864.4h15.3M3425.7 873h16M3425.7 876h16M3425.7 879h16M3425.7 882.1h16M3425.7 885.1h16M3425.7 888.1h16M3425.7 891.1h16M3425.7 894.2h16M3425.7 897.2h16M3425.7 900.2h16M3425.7 903.2h16M3425.7 906.3h16M3425.7 909.3h16M3425.7 912.3h16M3425.7 915.3h16M3425.7 918.4h16M3425.7 921.4h16M3425.7 924.4h16M3425.7 927.4h16M3425.7 930.4h16M3425.7 933.5h16M3425.7 936.5h16M3425.7 939.5h16M3425.7 942.5h16M3425.7 945.6h16M3425.7 948.6h16M3425.7 951.6h16M3425.7 954.6h16M3425.7 957.7h16M3425.7 960.7h16M3425.7 963.7h16M3425.7 966.7h16M3425.7 969.8h16M3425.7 972.8h16M3425.7 975.8h16M3425.7 978.8h16M3425.7 981.8h16M3425.7 984.9h16M3425.7 987.9h16M3425.7 990.9h16M3425.7 993.9h16M3425.7 997h16M3425.7 1000h16M3425.7 1003h16M3425.7 1006h16M3425.7 1009.1h16M3425.7 1012.1h16M3425.7 1015.1h16M3425.7 1018.1h16M3425.7 1021.1h16M3425.7 1024.2h16M3425.7 1027.2h16M3425.7 1030.2h16M3425.7 1033.2h16M3425.7 1036.3h16M3425.7 1039.3h16M3425.7 1042.3h16M3425.7 1045.3h16M3425.7 1048.4h16M3425.7 1051.4h16M3425.7 1054.4h16M3425.7 1057.4h16M3425.7 1060.5h16M3425.7 1063.5h16M3425.7 1066.5h16M3425.7 1076h16M3425.7 1079h16M3425.7 1082h16M3425.7 1085h16M3425.7 1088h16M3425.7 1091h16M3425.7 1094h16M3426.1 1097h15.2M3426.4 1100h14.6M3426.6 1103h14.3M3426.7 1106h14M3426.8 1109h13.7M3427 1112h13.5M3427.1 1115h13.1M3427.4 1118h12.6M3429 1125.3h9.4M3430.2 1133h6.9M3430.6 1138h6.2M3430.9 1146h5.7M3431 1152h5.5M3431.1 1158.3h5.1M3432.4 1173.5h2.7M3432.4 1177.5h2.6M3432.4 1181.5h2.5M3432.8 1195.3h1.8M3433 1214.7h1.4M3433.1 1257.2h1.2M3433.4 1275.2h0.5" stroke="#fff" stroke-width="6.25" stroke-linecap="round" fill="none"/>
<line x1="3383.7" y1="981.5" x2="3483.7" y2="981.5" stroke="#fff" stroke-width="12.5" stroke-linecap="round"/>
<polygon points="3734.7,658 3734.7,660.3 3734.5,662.7 3734.3,665 3734.3,667.8 3734.3,670.6 3734.3,673.4 3734.3,676.2 3734.3,679 3734.3,681.8 3734.3,684.6 3734.3,687.4 3734.3,690.2 3734.3,693 3734.5,695.5 3734.7,698.1 3734.7,700.6 3734.7,700.6 3734.7,698.1 3734.9,695.5 3735,693 3735,690.2 3735,687.4 3735,684.6 3735,681.8 3735,679 3735,676.2 3735,673.4 3735,670.6 3735,667.8 3735,665 3734.9,662.7 3734.7,660.3 3734.7,658" fill="#1f78b4" stroke="#1f78b4" stroke-width="0.5" stroke-linejoin="round"/>
<polygon points="3734.7,778 3734.7,781 3734.6,784 3734.4,787 3734.2,790 3734.1,793 3734.1,796 3734,799 3733.9,802 3733.9,805 3733.8,808 3733.7,811 3733.6,814 3733.6,817 3733.4,820 3733.3,823 3733.1,826 3732.8,829 3732.6,832 3732.4,835 3732.4,838 3732.3,840.9 3732.2,843.9 3732.2,846.8 3732.1,849.8 3732.1,852.7 3732.1,855.7 3732,858.6 3732,861.6 3732,864.5 3732,867.5 3732,870.5 3731.9,873.4 3731.9,876.4 3731.9,879.3 3731.8,882.3 3731.8,885.2 3731.7,888.2 3731.7,891.1 3731.6,894.1 3731.5,897 3731.4,900 3731.2,903 3730.9,906 3730.7,908.9 3730.6,911.7 3730.4,914.6 3730.3,917.4 3730,920.3 3729.7,923.1 3729.1,926 3727.5,928 3727.4,930.6 3727.3,933.3 3727.3,936 3727.1,938.6 3726.4,940 3725.6,942.5 3724.9,945 3724.1,948 3723.4,951 3723,953.8 3722.7,956.5 3722.4,959.2 3722.2,962 3721.9,964.8 3721.7,967.5 3721.4,970.2 3721,973 3720.7,975.8 3720.2,978.6 3719.8,981.4 3719.3,984.2 3718.8,987 3718.3,989.8 3717.8,992.6 3717.3,995.4 3716.9,998.2 3716.4,1001 3716,1003.8 3715.6,1006.6 3715.2,1009.4 3714.8,1012.2 3714.5,1015 3714.1,1017.8 3713.8,1020.6 3713.5,1023.4 3713.2,1026.2 3712.9,1029 3712.7,1031.8 3712.5,1034.6 3712.3,1037.5 3712.1,1040.3 3712,1043.1 3711.8,1045.9 3711.6,1048.7 3711.5,1051.5 3711.4,1054.4 3711.4,1057.2 3711.3,1060 3711.3,1062.8 3711.3,1065.6 3711.3,1068.3 3711.3,1071.1 3711.3,1073.9 3711.3,1076.7 3711.3,1079.4 3711.3,1082.2 3711.3,1085 3711.4,1087.9 3711.4,1090.8 3711.4,1093.7 3711.5,1096.6 3711.5,1099.5 3711.6,1102.5 3711.8,1105.4 3711.9,1108.3 3712.1,1111.3 3712.3,1114.2 3712.6,1117.2 3712.8,1120.2 3713.1,1123.1 3713.4,1126 3713.6,1129 3713.9,1132 3714.3,1135 3714.6,1138 3715,1141 3715.4,1144 3715.8,1147 3716.2,1150 3716.6,1153 3717.1,1156 3717.5,1159 3718,1161.9 3718.5,1164.7 3719.1,1167.6 3719.7,1170.4 3720.2,1173.3 3720.8,1176.1 3721.3,1179 3721.9,1182 3722.4,1184.9 3722.9,1187.8 3723.5,1190.8 3724.1,1193.1 3724.7,1195.4 3725.4,1197.7 3725.9,1200 3726.6,1202.5 3727.2,1205 3727.7,1207.5 3727.9,1210 3727.9,1212.2 3727.9,1214.4 3727.9,1216.6 3728.4,1219.4 3729.2,1222.2 3729.9,1225 3730.3,1227.6 3730.7,1230.2 3730.9,1232.8 3731.2,1235.4 3731.4,1238 3731.7,1240.9 3731.9,1243.7 3732.2,1246.6 3732.4,1249.4 3732.6,1252.3 3732.8,1255.1 3732.9,1258 3733.1,1260.9 3733.3,1263.7 3733.5,1266.6 3733.6,1269.4 3733.8,1272.3 3733.9,1275.1 3733.9,1278 3734,1280.8 3734,1283.5 3734.1,1286.2 3734.1,1289 3734.1,1291.8 3734.2,1294.5 3734.2,1297.2 3734.2,1300 3734.3,1302.8 3734.4,1305.7 3734.5,1308.5 3734.6,1311.3 3734.7,1314.2 3734.7,1317 3734.7,1319.9 3734.7,1322.7 3734.7,1322.7 3734.7,1319.9 3734.7,1317 3734.7,1314.2 3734.8,1311.3 3734.9,1308.5 3735,1305.7 3735.1,1302.8 3735.1,1300 3735.2,1297.2 3735.2,1294.5 3735.3,1291.8 3735.3,1289 3735.3,1286.2 3735.4,1283.5 3735.4,1280.8 3735.4,1278 3735.5,1275.1 3735.6,1272.3 3735.8,1269.4 3735.9,1266.6 3736.1,1263.7 3736.3,1260.9 3736.4,1258 3736.6,1255.1 3736.8,1252.3 3737,1249.4 3737.2,1246.6 3737.5,1243.7 3737.7,1240.9 3737.9,1238 3738.2,1235.4 3738.5,1232.8 3738.7,1230.2 3739.1,1227.6 3739.4,1225 3740.2,1222.2 3741,1219.4 3741.4,1216.6 3741.4,1214.4 3741.4,1212.2 3741.4,1210 3741.7,1207.5 3742.2,1205 3742.8,1202.5 3743.4,1200 3744,1197.7 3744.7,1195.4 3745.3,1193.1 3745.8,1190.8 3746.5,1187.8 3747,1184.9 3747.5,1182 3748,1179 3748.6,1176.1 3749.2,1173.3 3749.7,1170.4 3750.3,1167.6 3750.9,1164.7 3751.4,1161.9 3751.8,1159 3752.3,1156 3752.8,1153 3753.2,1150 3753.6,1147 3754,1144 3754.4,1141 3754.8,1138 3755.1,1135 3755.5,1132 3755.8,1129 3756,1126 3756.3,1123.1 3756.6,1120.2 3756.8,1117.2 3757.1,1114.2 3757.3,1111.3 3757.5,1108.3 3757.6,1105.4 3757.8,1102.5 3757.8,1099.5 3757.9,1096.6 3758,1093.7 3758,1090.8 3758,1087.9 3758,1085 3758,1082.2 3758,1079.4 3758,1076.7 3758,1073.9 3758,1071.1 3758,1068.3 3758,1065.6 3758,1062.8 3758,1060 3758,1057.2 3758,1054.4 3757.9,1051.5 3757.8,1048.7 3757.6,1045.9 3757.4,1043.1 3757.3,1040.3 3757.1,1037.5 3756.9,1034.6 3756.7,1031.8 3756.4,1029 3756.2,1026.2 3755.9,1023.4 3755.6,1020.6 3755.3,1017.8 3754.9,1015 3754.6,1012.2 3754.2,1009.4 3753.8,1006.6 3753.4,1003.8 3752.9,1001 3752.5,998.2 3752.1,995.4 3751.6,992.6 3751.1,989.8 3750.6,987 3750.1,984.2 3749.6,981.4 3749.2,978.6 3748.7,975.8 3748.3,973 3748,970.2 3747.7,967.5 3747.5,964.8 3747.2,962 3747,959.2 3746.7,956.5 3746.4,953.8 3745.9,951 3745.3,948 3744.4,945 3743.8,942.5 3742.9,940 3742.2,938.6 3742.1,936 3742.1,933.3 3742,930.6 3741.8,928 3740.2,926 3739.7,923.1 3739.4,920.3 3739.1,917.4 3739,914.6 3738.8,911.7 3738.7,908.9 3738.4,906 3738.2,903 3737.9,900 3737.9,897 3737.8,894.1 3737.7,891.1 3737.7,888.2 3737.6,885.2 3737.6,882.3 3737.5,879.3 3737.5,876.4 3737.5,873.4 3737.4,870.5 3737.4,867.5 3737.4,864.5 3737.4,861.6 3737.4,858.6 3737.3,855.7 3737.3,852.7 3737.3,849.8 3737.2,846.8 3737.2,843.9 3737.1,840.9 3737,838 3736.9,835 3736.8,832 3736.6,829 3736.3,826 3736.1,823 3735.9,820 3735.8,817 3735.8,814 3735.7,811 3735.6,808 3735.5,805 3735.5,802 3735.4,799 3735.3,796 3735.3,793 3735.1,790 3735,787 3734.8,784 3734.7,781 3734.7,778" fill="#1f78b4" stroke="#1f78b4" stroke-width="0.5" stroke-linejoin="round"/>
<path d="M3726.7 679.4H3734.1M3735.3 679.4H3742.7M3726.7 800.3H3733.7M3735.7 800.3H3742.7M3726.7 839.2H3732.1M3737.3 839.2H3742.7M3726.7 853.9H3731.8M3737.6 853.9H3742.7M3726.7 868.3H3731.7M3737.7 868.3H3742.7M3726.7 879.4H3731.6M3737.8 879.4H3742.7M3726.7 886.7H3731.5M3737.9 886.7H3742.7M3726.7 897H3731.3M3738.1 897H3742.7M3726.7 902.5H3731M3738.4 902.5H3742.7M3726.7 930.6H3727.1M3742.3 930.6H3742.7M3726.7 934H3727.1M3742.3 934H3742.7M3726.7 937.4H3727M3742.4 937.4H3742.7M3726.7 1206.5H3727.3M3742.1 1206.5H3742.7M3726.7 1220H3728.3M3741.1 1220H3742.7M3726.7 1231.5H3730.6M3738.8 1231.5H3742.7M3726.7 1238H3731.2M3738.2 1238H3742.7M3726.7 1246H3731.9M3737.5 1246H3742.7M3726.7 1254H3732.4M3737 1254H3742.7M3726.7 1266.2H3733.2M3736.2 1266.2H3742.7M3726.7 1298.3H3734M3735.4 1298.3H3742.7" stroke="#1f78b4" stroke-width="6.25" stroke-linecap="round" fill="none"/>
<path d="M3734.1 679.4h1.2M3733.7 800.3h2M3732.1 839.2h5.2M3731.8 853.9h5.7M3731.7 868.3h6M3731.6 879.4h6.2M3731.5 886.7h6.4M3731.3 897h6.8M3731 902.5h7.3M3727.1 930.6h15.1M3727.1 934h15.2M3727 937.4h15.5M3726.7 940.7h16M3726.7 944.1h16M3726.7 947.5h16M3726.7 954.5h16M3726.7 957.2h16M3726.7 959.8h16M3726.7 962.5h16M3726.7 969.5h16M3726.7 972.5h16M3726.7 975.5h16M3726.7 978.5h16M3726.7 981.5h16M3726.7 984.5h16M3726.7 987.5h16M3726.7 990.5h16M3726.7 993.5h16M3726.7 996.5h16M3726.7 999.5h16M3726.7 1002.5h16M3726.7 1005.5h16M3726.7 1008.5h16M3726.7 1015.5h16M3726.7 1018.5h16M3726.7 1021.5h16M3726.7 1024.4h16M3726.7 1027.4h16M3726.7 1030.4h16M3726.7 1033.4h16M3726.7 1036.3h16M3726.7 1039.3h16M3726.7 1042.3h16M3726.7 1045.3h16M3726.7 1048.2h16M3726.7 1051.2h16M3726.7 1054.2h16M3726.7 1057.2h16M3726.7 1060.2h16M3726.7 1063.1h16M3726.7 1066.1h16M3726.7 1069.1h16M3726.7 1072.1h16M3726.7 1075h16M3726.7 1078h16M3726.7 1081h16M3726.7 1084h16M3726.7 1086.9h16M3726.7 1089.9h16M3726.7 1092.9h16M3726.7 1095.9h16M3726.7 1098.8h16M3726.7 1101.8h16M3726.7 1104.8h16M3726.7 1107.8h16M3726.7 1110.8h16M3726.7 1113.7h16M3726.7 1116.7h16M3726.7 1119.7h16M3726.7 1122.7h16M3726.7 1125.6h16M3726.7 1128.6h16M3726.7 1131.6h16M3726.7 1134.6h16M3726.7 1137.5h16M3726.7 1140.5h16M3726.7 1143.5h16M3726.7 1150.5h16M3726.7 1153.6h16M3726.7 1156.8h16M3726.7 1159.9h16M3726.7 1163.1h16M3726.7 1166.2h16M3726.7 1169.4h16M3726.7 1172.5h16M3726.7 1179.5h16M3726.7 1182.5h16M3726.7 1185.5h16M3726.7 1188.5h16M3726.7 1191.5h16M3726.7 1194.5h16M3726.7 1197.5h16M3726.7 1200.5h16M3726.7 1203.5h16M3727.3 1206.5h14.8M3728.3 1220h12.8M3730.6 1231.5h8.3M3731.2 1238h7M3731.9 1246h5.6M3732.4 1254h4.5M3733.2 1266.2h3M3734 1298.3h1.5" stroke="#fff" stroke-width="6.25" stroke-linecap="round" fill="none"/>
<line x1="3684.7" y1="1067.6" x2="3784.7" y2="1067.6" stroke="#fff" stroke-width="12.5" stroke-linecap="round"/>
<line x1="492" y1="996.9" x2="4068" y2="996.9" stroke="#000" stroke-width="6.25" stroke-dasharray="6.25 18.75" stroke-linecap="round"/>
<polygon points="825.2,768.8 825.1,771.4 824.9,774.1 824.6,776.8 824.3,779.4 824,782 823.7,784.7 823.3,787.4 823,790 822.5,792.8 822,795.6 821.4,798.3 820.7,801.1 820,803.9 819.3,806.7 818.6,809.4 817.8,812.2 817.1,815 816.3,817.5 815.5,820 814.6,823 813.6,826 812.6,829 811.7,832 811,835 810.4,837.8 809.8,840.7 809.2,843.5 808.8,846.3 808.5,849.2 808.4,852 808.4,854.9 808.5,857.8 808.7,860.6 808.9,863.5 809.1,866.4 809.4,869.2 809.7,872.1 810,875 810.3,877.8 810.7,880.5 811.2,883.2 811.7,886 812,888.8 812.2,891.5 812.1,894.2 812.1,896.9 812.1,899.6 812,902.3 812,905 811.8,907.8 811.6,910.5 811.2,913.3 810.8,916.1 810.3,918.8 809.9,921.6 809.2,924.4 808.2,927.2 807.2,929.9 806.3,932.7 805.8,935.5 805.5,938.3 805.2,941.2 804.9,944 804.7,946.9 804.5,949.7 804.3,952.6 804.1,955.4 804,958.3 803.9,961.1 803.8,964 803.7,966.8 803.7,969.7 803.7,972.5 803.7,975.4 803.7,978.3 803.7,981.2 803.7,984 803.8,986.9 803.8,989.8 803.9,992.7 804,995.6 804.1,998.5 804.2,1001.3 804.3,1004.2 804.5,1007.1 804.7,1010 805.1,1012.6 806.1,1015.2 807.3,1017.8 808.6,1020.4 809.9,1023 811.1,1025.9 812.5,1028.8 813.9,1031.6 815.3,1034.5 816.7,1037.4 818,1040.2 819.2,1043.1 820.2,1046 821.1,1048.8 822,1051.6 822.7,1054.4 823.4,1057.2 824,1060 824.4,1063 824.8,1065.9 825.1,1068.8 825.2,1071.8 825.2,1071.8 825.3,1068.8 825.6,1065.9 826,1063 826.5,1060 827,1057.2 827.7,1054.4 828.4,1051.6 829.3,1048.8 830.2,1046 831.2,1043.1 832.4,1040.2 833.7,1037.4 835.1,1034.5 836.5,1031.6 837.9,1028.8 839.3,1025.9 840.6,1023 841.8,1020.4 843.1,1017.8 844.3,1015.2 845.3,1012.6 845.8,1010 845.9,1007.1 846.1,1004.2 846.2,1001.3 846.3,998.5 846.4,995.6 846.5,992.7 846.6,989.8 846.6,986.9 846.7,984 846.7,981.2 846.7,978.3 846.7,975.4 846.8,972.5 846.7,969.7 846.7,966.8 846.6,964 846.5,961.1 846.4,958.3 846.3,955.4 846.1,952.6 845.9,949.7 845.7,946.9 845.5,944 845.2,941.2 844.9,938.3 844.7,935.5 844.1,932.7 843.2,929.9 842.2,927.2 841.2,924.4 840.6,921.6 840.1,918.8 839.6,916.1 839.2,913.3 838.8,910.5 838.6,907.8 838.5,905 838.4,902.3 838.3,899.6 838.3,896.9 838.3,894.2 838.2,891.5 838.4,888.8 838.7,886 839.2,883.2 839.7,880.5 840.1,877.8 840.5,875 840.7,872.1 841,869.2 841.3,866.4 841.5,863.5 841.7,860.6 841.9,857.8 842,854.9 842.1,852 841.9,849.2 841.6,846.3 841.2,843.5 840.6,840.7 840,837.8 839.5,835 838.7,832 837.8,829 836.8,826 835.9,823 835,820 834.1,817.5 833.4,815 832.6,812.2 831.8,809.4 831.1,806.7 830.4,803.9 829.7,801.1 829,798.3 828.4,795.6 827.9,792.8 827.5,790 827.1,787.4 826.7,784.7 826.4,782 826.1,779.4 825.8,776.8 825.5,774.1 825.3,771.4 825.2,768.8" fill="#33a02c" stroke="#33a02c" stroke-width="0.5" stroke-linejoin="round"/>
<path d="M817.2 820h16M817.2 834.3h16M817.2 853.5h16M817.2 856.5h16M817.2 882.5h16M817.2 885.5h16M817.2 936.6h16M817.2 946.3h16M817.2 953.5h16M817.2 973h16M817.2 982.9h16M817.2 989.9h16M817.2 1000.3h16M817.2 1002h16M817.2 1011h16M817.2 1017.4h16" stroke="#fff" stroke-width="6.25" stroke-linecap="round" fill="none"/>
<line x1="775.2" y1="928.5" x2="875.2" y2="928.5" stroke="#fff" stroke-width="12.5" stroke-linecap="round"/>
<polygon points="1126.2,808.9 1126.2,811.7 1126,814.5 1125.8,817.2 1125.8,820 1125.7,822.9 1125.7,825.9 1125.7,828.8 1125.7,831.7 1125.7,834.7 1125.7,837.6 1125.7,840.5 1125.7,843.4 1125.7,846.4 1125.7,849.3 1125.7,852.2 1125.7,855.2 1125.7,858.1 1125.7,861 1125.7,864 1125.7,866.9 1125.7,869.8 1125.7,872.8 1125.7,875.7 1125.7,878.6 1125.7,881.6 1125.7,884.5 1125.7,887.4 1125.7,890.3 1125.7,893.3 1125.7,896.2 1125.7,899.1 1125.7,902.1 1125.7,905 1125.6,907.8 1125.4,910.7 1125.2,913.5 1124.8,916.4 1124.5,919.2 1124.1,922.1 1123.8,924.9 1123.5,927.8 1123.2,930.6 1123,933.5 1122.8,936.3 1122.7,939.2 1122.5,942.1 1122.3,944.9 1122.1,947.8 1122,950.7 1121.8,953.5 1121.7,956.4 1121.5,959.3 1121.4,962.1 1121.2,965 1121.1,967.5 1121,970 1121,972.9 1121,975.7 1121,978.6 1121,981.4 1120.9,984.3 1120.9,987.1 1120.9,990 1120,992 1119,994 1118.9,996.5 1118.9,999 1118.9,1001.5 1118.8,1004 1118.2,1006 1117.6,1008.6 1117,1011.2 1116.4,1013.8 1115.9,1016.4 1115.5,1019 1115,1021.9 1114.6,1024.9 1114.1,1027.8 1113.7,1030.8 1113.3,1033.7 1112.9,1036.6 1112.6,1039.6 1112.2,1042.5 1111.9,1045.5 1111.5,1048.4 1111.3,1051.4 1111,1054.3 1110.7,1057.2 1110.5,1060.2 1110.3,1063.1 1110.2,1066.1 1110,1069 1109.9,1072 1109.8,1075 1109.7,1078 1109.6,1081 1109.5,1084 1109.4,1087 1109.3,1090 1109.3,1093 1109.2,1096 1109.2,1099 1109.1,1102 1109.1,1105 1109.1,1108 1109,1111 1109.1,1113.9 1109.2,1116.8 1109.3,1119.7 1109.5,1122.6 1109.7,1125.5 1109.9,1128.4 1110.2,1131.3 1110.5,1134.2 1110.7,1137.1 1111,1140 1111.2,1143 1111.5,1145.9 1111.8,1148.9 1112.1,1151.9 1112.4,1154.8 1112.7,1157.8 1113,1160.8 1113.3,1163.7 1113.7,1166.7 1113.9,1169.4 1114.2,1172 1114.4,1174.7 1114.7,1177.3 1115,1180 1115.3,1183 1115.7,1186 1116.1,1189 1116.5,1192 1117,1195 1117.4,1197.5 1118,1200 1118.8,1203 1118.8,1205.8 1118.8,1208.5 1118.9,1211.2 1119,1214 1120.2,1216 1121.5,1218 1121.5,1220 1121.5,1222 1121.5,1225 1121.7,1228 1122,1231 1122.2,1234 1122.4,1237 1122.7,1240 1123,1243 1123.2,1246 1123.5,1249 1123.7,1252 1124,1255 1124.1,1257.9 1124.3,1260.7 1124.4,1263.6 1124.6,1266.4 1124.7,1269.3 1124.8,1272.1 1125,1275 1125.1,1278 1125.3,1281 1125.4,1284 1125.5,1287 1125.5,1290 1125.6,1293 1125.6,1296 1125.6,1299 1125.6,1302 1125.6,1305 1125.6,1308 1125.6,1311 1125.6,1314 1125.6,1317 1125.6,1320 1125.6,1323 1125.6,1326 1125.6,1329 1125.6,1332 1125.6,1335 1125.6,1338 1125.6,1341 1125.6,1344 1125.6,1347 1125.6,1350 1125.6,1353 1125.6,1356 1125.6,1359 1125.7,1362 1125.7,1365 1125.7,1368 1125.7,1371 1125.7,1374 1125.7,1377 1125.7,1380 1125.7,1383 1125.7,1386 1125.7,1389 1125.7,1392 1125.7,1395 1125.7,1398 1125.7,1401 1125.7,1404 1125.7,1407 1125.7,1410 1125.7,1413 1125.7,1416 1125.7,1419 1125.7,1422 1125.7,1425 1125.7,1428 1125.7,1431 1125.7,1434 1125.7,1437 1125.8,1440 1125.8,1442.6 1125.9,1445.2 1126,1447.8 1126.1,1450.5 1126.2,1453.1 1126.2,1455.7 1126.2,1458.3 1126.2,1458.3 1126.2,1455.7 1126.2,1453.1 1126.3,1450.5 1126.4,1447.8 1126.5,1445.2 1126.6,1442.6 1126.7,1440 1126.7,1437 1126.7,1434 1126.7,1431 1126.7,1428 1126.7,1425 1126.7,1422 1126.7,1419 1126.7,1416 1126.7,1413 1126.7,1410 1126.7,1407 1126.7,1404 1126.7,1401 1126.7,1398 1126.7,1395 1126.7,1392 1126.7,1389 1126.7,1386 1126.7,1383 1126.7,1380 1126.7,1377 1126.7,1374 1126.7,1371 1126.7,1368 1126.7,1365 1126.7,1362 1126.8,1359 1126.8,1356 1126.8,1353 1126.8,1350 1126.8,1347 1126.8,1344 1126.8,1341 1126.8,1338 1126.8,1335 1126.8,1332 1126.8,1329 1126.8,1326 1126.8,1323 1126.8,1320 1126.8,1317 1126.8,1314 1126.8,1311 1126.8,1308 1126.8,1305 1126.8,1302 1126.8,1299 1126.8,1296 1126.8,1293 1126.9,1290 1126.9,1287 1127,1284 1127.1,1281 1127.3,1278 1127.5,1275 1127.6,1272.1 1127.7,1269.3 1127.8,1266.4 1128,1263.6 1128.1,1260.7 1128.3,1257.9 1128.5,1255 1128.7,1252 1128.9,1249 1129.2,1246 1129.4,1243 1129.7,1240 1130,1237 1130.2,1234 1130.5,1231 1130.7,1228 1130.9,1225 1131,1222 1131,1220 1131,1218 1132.2,1216 1133.5,1214 1133.5,1211.2 1133.6,1208.5 1133.6,1205.8 1133.7,1203 1134.5,1200 1135,1197.5 1135.5,1195 1135.9,1192 1136.3,1189 1136.7,1186 1137.1,1183 1137.5,1180 1137.7,1177.3 1138,1174.7 1138.2,1172 1138.5,1169.4 1138.8,1166.7 1139.1,1163.7 1139.4,1160.8 1139.7,1157.8 1140,1154.8 1140.3,1151.9 1140.6,1148.9 1140.9,1145.9 1141.2,1143 1141.5,1140 1141.7,1137.1 1141.9,1134.2 1142.2,1131.3 1142.5,1128.4 1142.7,1125.5 1142.9,1122.6 1143.1,1119.7 1143.2,1116.8 1143.3,1113.9 1143.4,1111 1143.3,1108 1143.3,1105 1143.3,1102 1143.2,1099 1143.2,1096 1143.1,1093 1143.1,1090 1143,1087 1142.9,1084 1142.8,1081 1142.7,1078 1142.6,1075 1142.5,1072 1142.4,1069 1142.2,1066.1 1142.1,1063.1 1141.9,1060.2 1141.7,1057.2 1141.4,1054.3 1141.1,1051.4 1140.9,1048.4 1140.5,1045.5 1140.2,1042.5 1139.8,1039.6 1139.5,1036.6 1139.1,1033.7 1138.7,1030.8 1138.3,1027.8 1137.8,1024.9 1137.4,1021.9 1137,1019 1136.5,1016.4 1136,1013.8 1135.4,1011.2 1134.8,1008.6 1134.2,1006 1133.7,1004 1133.5,1001.5 1133.5,999 1133.5,996.5 1133.4,994 1132.4,992 1131.5,990 1131.5,987.1 1131.5,984.3 1131.4,981.4 1131.4,978.6 1131.4,975.7 1131.4,972.9 1131.4,970 1131.3,967.5 1131.2,965 1131,962.1 1130.9,959.3 1130.7,956.4 1130.6,953.5 1130.4,950.7 1130.3,947.8 1130.1,944.9 1129.9,942.1 1129.7,939.2 1129.6,936.3 1129.4,933.5 1129.2,930.6 1128.9,927.8 1128.6,924.9 1128.3,922.1 1127.9,919.2 1127.6,916.4 1127.2,913.5 1127,910.7 1126.8,907.8 1126.8,905 1126.7,902.1 1126.7,899.1 1126.7,896.2 1126.7,893.3 1126.7,890.3 1126.7,887.4 1126.7,884.5 1126.7,881.6 1126.7,878.6 1126.7,875.7 1126.7,872.8 1126.7,869.8 1126.7,866.9 1126.7,864 1126.7,861 1126.7,858.1 1126.7,855.2 1126.7,852.2 1126.7,849.3 1126.7,846.4 1126.7,843.4 1126.7,840.5 1126.7,837.6 1126.7,834.7 1126.7,831.7 1126.7,828.8 1126.7,825.9 1126.7,822.9 1126.7,820 1126.6,817.2 1126.4,814.5 1126.2,811.7 1126.2,808.9" fill="#33a02c" stroke="#33a02c" stroke-width="0.5" stroke-linejoin="round"/>
<path d="M1118.2 834.2H1125.5M1126.9 834.2H1134.2M1118.2 863.9H1125.4M1127 863.9H1134.2M1118.2 876.4H1125.4M1127 876.4H1134.2M1118.2 923.6H1123.7M1128.7 923.6H1134.2M1118.2 938H1122.5M1129.9 938H1134.2M1118.2 945.8H1122M1130.4 945.8H1134.2M1118.2 951.4H1121.7M1130.7 951.4H1134.2M1118.2 958.3H1121.3M1131.1 958.3H1134.2M1118.2 968H1120.9M1131.5 968H1134.2M1118.2 980.5H1120.7M1131.7 980.5H1134.2M1118.2 984.4H1120.7M1131.7 984.4H1134.2M1118.2 988.2H1120.6M1131.8 988.2H1134.2M1118.2 998H1118.7M1133.7 998H1134.2M1118.2 1001.9H1118.6M1133.8 1001.9H1134.2M1118.2 1203H1118.5M1133.9 1203H1134.2M1118.2 1206H1118.6M1133.8 1206H1134.2M1118.2 1209H1118.6M1133.8 1209H1134.2M1118.2 1212H1118.6M1133.8 1212H1134.2M1118.2 1218H1121.2M1131.2 1218H1134.2M1118.2 1232H1121.8M1130.6 1232H1134.2M1118.2 1243H1122.7M1129.7 1243H1134.2M1118.2 1250H1123.3M1129.1 1250H1134.2M1118.2 1278.3H1124.9M1127.5 1278.3H1134.2M1118.2 1301.4H1125.3M1127.1 1301.4H1134.2M1118.2 1315.8H1125.4M1127 1315.8H1134.2M1118.2 1362.8H1125.4M1127 1362.8H1134.2M1118.2 1418.6H1125.4M1127 1418.6H1134.2M1118.2 1427.8H1125.5M1126.9 1427.8H1134.2" stroke="#33a02c" stroke-width="6.25" stroke-linecap="round" fill="none"/>
<path d="M1125.5 834.2h1.5M1125.4 863.9h1.5M1125.4 876.4h1.5M1123.7 923.6h5M1122.5 938h7.4M1122 945.8h8.4M1121.7 951.4h9M1121.3 958.3h9.8M1120.9 968h10.7M1120.7 980.5h11M1120.7 984.4h11M1120.6 988.2h11.1M1118.7 998h15.1M1118.6 1001.9h15.2M1118.2 1011.2h16M1118.2 1014.1h16M1118.2 1017.1h16M1118.2 1020h16M1118.2 1022.9h16M1118.2 1025.8h16M1118.2 1028.8h16M1118.2 1031.7h16M1118.2 1034.6h16M1118.2 1037.6h16M1118.2 1040.5h16M1118.2 1048h16M1118.2 1050.9h16M1118.2 1053.8h16M1118.2 1056.8h16M1118.2 1059.7h16M1118.2 1062.6h16M1118.2 1065.5h16M1118.2 1075.7h16M1118.2 1078.9h16M1118.2 1082.1h16M1118.2 1085.3h16M1118.2 1088.6h16M1118.2 1091.8h16M1118.2 1095h16M1118.2 1116.4h16M1118.2 1119.3h16M1118.2 1122.3h16M1118.2 1125.2h16M1118.2 1128.2h16M1118.2 1131.1h16M1118.2 1134h16M1118.2 1137h16M1118.2 1139.9h16M1118.2 1157.1h16M1118.2 1160h16M1118.2 1163h16M1118.2 1165.9h16M1118.2 1168.8h16M1118.2 1171.8h16M1118.2 1174.7h16M1118.2 1181.9h16M1118.2 1184.8h16M1118.2 1187.6h16M1118.2 1194h16M1118.2 1197h16M1118.2 1200h16M1118.5 1203h15.4M1118.6 1206h15.2M1118.6 1209h15.2M1118.6 1212h15.1M1121.2 1218h10M1121.8 1232h8.9M1122.7 1243h7M1123.3 1250h5.7M1124.9 1278.3h2.7M1125.3 1301.4h1.7M1125.4 1315.8h1.7M1125.4 1362.8h1.6M1125.4 1418.6h1.5M1125.5 1427.8h1.5" stroke="#fff" stroke-width="6.25" stroke-linecap="round" fill="none"/>
<line x1="1076.2" y1="1104.9" x2="1176.2" y2="1104.9" stroke="#fff" stroke-width="12.5" stroke-linecap="round"/>
<polygon points="1427.1,904.4 1427.1,907 1427,909.6 1426.9,912.2 1426.7,914.8 1426.5,917.4 1426.3,920 1426.1,922.9 1425.9,925.8 1425.7,928.7 1425.4,931.6 1425.1,934.6 1424.8,937.5 1424.5,940.4 1424.1,943.3 1423.6,946.2 1423,949.1 1422.3,952.1 1421.8,955 1421.6,957.3 1421.4,959.7 1421.1,962 1420.8,964.5 1420.5,966.9 1420,969.4 1419.4,971.9 1418.6,974.4 1417.7,976.9 1416.6,979.4 1415.5,981.9 1414,984.3 1412.6,986.8 1411.1,989.3 1409.8,991.8 1408.5,994.2 1407.3,996.7 1406,999.2 1404.7,1002 1403.3,1004.9 1402,1007.7 1400.7,1010.5 1399.4,1013.3 1398.2,1016.2 1397,1019 1396,1021.7 1394.9,1024.4 1393.9,1027.1 1392.9,1029.7 1392,1032.4 1391.2,1035.1 1390.5,1037.8 1389.9,1040.6 1389.3,1043.4 1388.7,1046.1 1388.3,1048.9 1388.1,1051.7 1388.5,1054 1389.3,1056.4 1390.1,1058.7 1391.1,1061 1392.3,1063.3 1393.6,1065.7 1394.8,1068 1396.1,1070.7 1397.3,1073.3 1398.6,1075.9 1400,1078.6 1401.6,1080.9 1403.4,1083.3 1405.2,1085.7 1406.8,1088 1408.5,1090.6 1410,1093.2 1411.6,1095.8 1413.1,1098.4 1414.8,1100.8 1416.5,1103.2 1418.1,1105.6 1419.3,1108 1420.4,1110.5 1421.2,1113.1 1421.8,1115.6 1422.4,1118.4 1422.9,1121.1 1423.3,1123.9 1423.6,1126.6 1423.8,1129.4 1424.1,1132.2 1424.3,1134.9 1424.4,1137.7 1424.6,1140.4 1424.7,1143.2 1424.9,1146 1425,1148.7 1425.1,1151.5 1425.2,1154.2 1425.3,1157 1425.5,1159.8 1425.6,1162.6 1425.7,1165.4 1425.8,1168.2 1426,1171 1426.1,1173.8 1426.2,1176.6 1426.3,1179.4 1426.4,1182.2 1426.5,1185 1426.7,1187.9 1426.8,1190.7 1426.9,1193.6 1427.1,1196.5 1427.1,1199.3 1427.1,1202.2 1427.1,1202.2 1427.1,1199.3 1427.1,1196.5 1427.3,1193.6 1427.4,1190.7 1427.5,1187.9 1427.6,1185 1427.8,1182.2 1427.9,1179.4 1428,1176.6 1428.1,1173.8 1428.2,1171 1428.4,1168.2 1428.5,1165.4 1428.6,1162.6 1428.7,1159.8 1428.8,1157 1429,1154.2 1429.1,1151.5 1429.2,1148.7 1429.3,1146 1429.5,1143.2 1429.6,1140.4 1429.8,1137.7 1429.9,1134.9 1430.1,1132.2 1430.3,1129.4 1430.6,1126.6 1430.9,1123.9 1431.3,1121.1 1431.8,1118.4 1432.3,1115.6 1433,1113.1 1433.8,1110.5 1434.8,1108 1436.1,1105.6 1437.7,1103.2 1439.4,1100.8 1441,1098.4 1442.6,1095.8 1444.2,1093.2 1445.7,1090.6 1447.3,1088 1449,1085.7 1450.8,1083.3 1452.6,1080.9 1454.1,1078.6 1455.6,1075.9 1456.9,1073.3 1458.1,1070.7 1459.3,1068 1460.6,1065.7 1461.9,1063.3 1463.1,1061 1464,1058.7 1464.9,1056.4 1465.7,1054 1466,1051.7 1465.9,1048.9 1465.5,1046.1 1464.9,1043.4 1464.3,1040.6 1463.6,1037.8 1463,1035.1 1462.2,1032.4 1461.3,1029.7 1460.3,1027.1 1459.3,1024.4 1458.2,1021.7 1457.1,1019 1456,1016.2 1454.8,1013.3 1453.5,1010.5 1452.2,1007.7 1450.9,1004.9 1449.5,1002 1448.1,999.2 1446.9,996.7 1445.7,994.2 1444.4,991.8 1443,989.3 1441.6,986.8 1440.2,984.3 1438.7,981.9 1437.5,979.4 1436.5,976.9 1435.6,974.4 1434.8,971.9 1434.1,969.4 1433.7,966.9 1433.4,964.5 1433,962 1432.8,959.7 1432.6,957.3 1432.3,955 1431.9,952.1 1431.2,949.1 1430.6,946.2 1430,943.3 1429.7,940.4 1429.4,937.5 1429.1,934.6 1428.8,931.6 1428.5,928.7 1428.3,925.8 1428.1,922.9 1427.8,920 1427.7,917.4 1427.5,914.8 1427.3,912.2 1427.2,909.6 1427.1,907 1427.1,904.4" fill="#33a02c" stroke="#33a02c" stroke-width="0.5" stroke-linejoin="round"/>
<path d="M1419.1 948.9H1422.8M1431.4 948.9H1435.1M1419.1 955.8H1421.5M1432.7 955.8H1435.1M1419.1 1127.5H1423.4M1430.8 1127.5H1435.1M1419.1 1162.8H1425.4M1428.8 1162.8H1435.1" stroke="#33a02c" stroke-width="6.25" stroke-linecap="round" fill="none"/>
<path d="M1422.8 948.9h8.6M1421.5 955.8h11.2M1419.1 993.7h16M1419.1 996.9h16M1419.1 1000.1h16M1419.1 1003.3h16M1419.1 1006.5h16M1419.1 1009.7h16M1419.1 1013h16M1419.1 1016.2h16M1419.1 1019.4h16M1419.1 1022.6h16M1419.1 1025.8h16M1419.1 1029h16M1419.1 1036.5h16M1419.1 1054h16M1419.1 1057.2h16M1419.1 1060.3h16M1419.1 1063.4h16M1419.1 1066.6h16M1419.1 1073.2h16M1419.1 1076.2h16M1419.1 1087.2h16M1423.4 1127.5h7.4M1425.4 1162.8h3.5" stroke="#fff" stroke-width="6.25" stroke-linecap="round" fill="none"/>
<line x1="1377.1" y1="1045.1" x2="1477.1" y2="1045.1" stroke="#fff" stroke-width="12.5" stroke-linecap="round"/>
<polygon points="1728.1,587.2 1728.1,589.8 1728,592.3 1727.8,594.9 1727.7,597.4 1727.5,600 1727.4,603 1727.3,606 1727.2,609 1727.1,612 1727,615 1726.9,618 1726.8,621 1726.7,624 1726.6,627 1726.6,629.9 1726.5,632.9 1726.4,635.8 1726.3,638.8 1726.2,641.7 1726.1,644.7 1726,647.6 1725.9,650.6 1725.8,653.5 1725.7,656.4 1725.6,659.4 1725.5,662.3 1725.4,665.3 1725.3,668.2 1725.2,671.2 1725.1,674.1 1725,677.1 1724.8,680 1724.7,683 1724.6,686 1724.5,689 1724.4,692 1724.2,695 1724.1,698 1723.9,701 1723.8,704 1723.6,707 1723.3,710 1723.1,712.7 1722.9,715.4 1722.6,718.1 1722.2,720.8 1721.8,723.5 1721.4,726.2 1720.9,728.9 1720.4,731.3 1719.6,733.8 1718.9,736.2 1718.3,738.6 1717.9,741.5 1717.6,744.5 1717.2,747.4 1717,750.3 1716.7,753.2 1716.5,756.1 1716.3,759.1 1716.1,762 1716,765 1715.8,768 1715.7,771 1715.6,774 1715.4,777 1715.3,780 1715.2,783 1715.1,786 1715,789 1714.9,792 1714.8,795 1714.8,798 1714.8,801 1714.8,804 1714.8,807 1714.8,810 1714.9,813 1715,815.9 1715.1,818.9 1715.2,821.9 1715.3,824.9 1715.4,827.9 1715.6,830.9 1715.7,833.8 1715.9,836.8 1716,839.8 1716.1,842.8 1716.3,845.3 1716.5,847.9 1716.6,850.4 1716.8,852.9 1716.9,855.5 1716.9,858 1716.9,860.9 1716.8,863.8 1716.7,866.7 1716.6,869.6 1716.4,872.5 1716.2,875.4 1716.1,878.3 1716,881.2 1715.9,884.1 1715.8,887 1715.9,889.8 1715.9,892.6 1715.9,895.4 1716,898.2 1716.1,901 1716.2,903.8 1716.4,906.6 1716.5,909.4 1716.7,912.2 1716.8,915 1717.3,917.8 1718,920.5 1718.7,923.2 1719,926 1719,928.8 1719,931.6 1719,934.4 1719,937.2 1719,940 1719.9,942.5 1720.8,945 1720.8,947.9 1720.8,950.9 1720.8,953.8 1720.8,956.7 1720.8,959.7 1720.8,962.6 1720.8,965.5 1720.8,968.4 1720.8,971.4 1720.8,974.3 1720.8,977.2 1720.8,980.2 1720.8,983.1 1720.8,986 1720.8,989 1720.8,991.9 1720.8,994.8 1720.8,997.8 1720.8,1000.7 1720.8,1003.6 1720.8,1006.6 1720.8,1009.5 1720.8,1012.4 1720.8,1015.3 1720.8,1018.3 1720.8,1021.2 1720.8,1024.1 1720.8,1027.1 1720.8,1030 1721.4,1032.2 1722.3,1034.4 1722.8,1037.2 1723.2,1039.9 1723.5,1042.7 1723.8,1045.5 1724,1048.2 1724.3,1051 1724.8,1053.8 1725.2,1056.6 1725.6,1059.4 1726,1062.2 1726.3,1065 1726.6,1068 1726.8,1071 1727,1074 1727.2,1077 1727.3,1080 1727.5,1082.6 1727.7,1085.2 1727.9,1087.8 1728,1090.4 1728.1,1093 1728.1,1095.6 1728.1,1095.6 1728.1,1093 1728.2,1090.4 1728.3,1087.8 1728.5,1085.2 1728.7,1082.6 1728.8,1080 1729,1077 1729.2,1074 1729.4,1071 1729.6,1068 1729.8,1065 1730.2,1062.2 1730.6,1059.4 1731,1056.6 1731.4,1053.8 1731.8,1051 1732.2,1048.2 1732.4,1045.5 1732.7,1042.7 1733,1039.9 1733.4,1037.2 1733.8,1034.4 1734.8,1032.2 1735.4,1030 1735.4,1027.1 1735.4,1024.1 1735.4,1021.2 1735.4,1018.3 1735.4,1015.3 1735.4,1012.4 1735.4,1009.5 1735.4,1006.6 1735.4,1003.6 1735.4,1000.7 1735.4,997.8 1735.4,994.8 1735.4,991.9 1735.4,989 1735.4,986 1735.4,983.1 1735.4,980.2 1735.4,977.2 1735.4,974.3 1735.4,971.4 1735.4,968.4 1735.4,965.5 1735.4,962.6 1735.4,959.7 1735.4,956.7 1735.4,953.8 1735.4,950.9 1735.4,947.9 1735.4,945 1736.3,942.5 1737.1,940 1737.1,937.2 1737.1,934.4 1737.1,931.6 1737.1,928.8 1737.1,926 1737.5,923.2 1738.2,920.5 1738.9,917.8 1739.3,915 1739.5,912.2 1739.7,909.4 1739.8,906.6 1740,903.8 1740.1,901 1740.2,898.2 1740.3,895.4 1740.3,892.6 1740.3,889.8 1740.3,887 1740.3,884.1 1740.2,881.2 1740.1,878.3 1740,875.4 1739.8,872.5 1739.6,869.6 1739.5,866.7 1739.4,863.8 1739.3,860.9 1739.2,858 1739.3,855.5 1739.4,852.9 1739.6,850.4 1739.7,847.9 1739.9,845.3 1740,842.8 1740.2,839.8 1740.3,836.8 1740.5,833.8 1740.6,830.9 1740.8,827.9 1740.9,824.9 1741,821.9 1741.1,818.9 1741.2,815.9 1741.3,813 1741.4,810 1741.4,807 1741.4,804 1741.4,801 1741.4,798 1741.4,795 1741.3,792 1741.2,789 1741.1,786 1741,783 1740.9,780 1740.8,777 1740.6,774 1740.5,771 1740.4,768 1740.2,765 1740,762 1739.9,759.1 1739.7,756.1 1739.5,753.2 1739.2,750.3 1739,747.4 1738.6,744.5 1738.3,741.5 1737.8,738.6 1737.3,736.2 1736.6,733.8 1735.8,731.3 1735.2,728.9 1734.8,726.2 1734.4,723.5 1734,720.8 1733.6,718.1 1733.3,715.4 1733.1,712.7 1732.8,710 1732.6,707 1732.4,704 1732.3,701 1732.1,698 1732,695 1731.8,692 1731.7,689 1731.6,686 1731.5,683 1731.3,680 1731.2,677.1 1731.1,674.1 1731,671.2 1730.9,668.2 1730.8,665.3 1730.7,662.3 1730.6,659.4 1730.5,656.4 1730.4,653.5 1730.3,650.6 1730.2,647.6 1730.1,644.7 1730,641.7 1729.9,638.8 1729.8,635.8 1729.7,632.9 1729.6,629.9 1729.5,627 1729.5,624 1729.4,621 1729.3,618 1729.2,615 1729.1,612 1729,609 1728.9,606 1728.8,603 1728.6,600 1728.5,597.4 1728.4,594.9 1728.2,592.3 1728.1,589.8 1728.1,587.2" fill="#33a02c" stroke="#33a02c" stroke-width="0.5" stroke-linejoin="round"/>
<path d="M1720.1 627H1726.4M1729.8 627H1736.1M1720.1 653.9H1725.5M1730.7 653.9H1736.1M1720.1 679.7H1724.6M1731.6 679.7H1736.1M1720.1 697H1723.9M1732.3 697H1736.1M1720.1 953H1720.5M1735.7 953H1736.1M1720.1 956H1720.5M1735.7 956H1736.1M1720.1 982.2H1720.5M1735.7 982.2H1736.1M1720.1 1006.7H1720.5M1735.7 1006.7H1736.1M1720.1 1025.6H1720.5M1735.7 1025.6H1736.1M1720.1 1032.5H1721.3M1734.9 1032.5H1736.1M1720.1 1054.4H1724.6M1731.6 1054.4H1736.1" stroke="#33a02c" stroke-width="6.25" stroke-linecap="round" fill="none"/>
<path d="M1726.4 627h3.4M1725.5 653.9h5.1M1724.6 679.7h7M1723.9 697h8.4M1720.1 734h16M1720.1 755.3h16M1720.1 758h16M1720.1 765.6h16M1720.1 777.5h16M1720.1 793.3h16M1720.1 803.8h16M1720.1 806.8h16M1720.1 815.6h16M1720.1 823.3h16M1720.1 834.5h16M1720.1 838h16M1720.1 842h16M1720.1 882.5h16M1720.1 885.9h16M1720.1 889.3h16M1720.1 892.8h16M1720.1 896.2h16M1720.1 899.6h16M1720.1 903h16M1720.1 916.5h16M1720.1 919.2h16M1720.1 923.5h16M1720.1 942h16M1720.5 953h15.2M1720.5 956h15.2M1720.5 982.2h15.2M1720.5 1006.7h15.2M1720.5 1025.6h15.2M1721.3 1032.5h13.6M1724.6 1054.4h7" stroke="#fff" stroke-width="6.25" stroke-linecap="round" fill="none"/>
<line x1="1678.1" y1="851.1" x2="1778.1" y2="851.1" stroke="#fff" stroke-width="12.5" stroke-linecap="round"/>
<polygon points="2029.2,856.1 2029.2,859.1 2028.9,862 2028.7,865 2028.3,867.9 2027.9,870.9 2027.5,873.8 2027,876.8 2026.5,879.7 2026,882.2 2025.5,884.7 2024.9,887.1 2024.2,889.6 2023.4,892.1 2022.3,894.5 2021.3,897 2020.4,899.5 2019.7,901.9 2019.1,904.3 2018.5,906.7 2017.8,909.2 2017.2,911.8 2016.7,914.3 2016,916.9 2015.2,919.4 2014.3,921.8 2013.2,924.2 2012.1,926.6 2011,929 2009.8,931.5 2008.7,934.1 2007.6,936.7 2006.5,939.2 2005.3,941.7 2004,944.1 2002.7,946.5 2001.5,949 2000.2,951.5 1998.9,954 1997.6,956.5 1996.2,959 1994.5,961.9 1992.7,964.9 1991.5,967.8 1990.7,970.6 1990.1,973.4 1989.6,976.1 1989.3,978.9 1989.2,981.7 1989.8,984.5 1991.3,987.2 1993,990 1994.8,992.9 1997,995.8 1999.2,998.7 2000.7,1001 2002.1,1003.4 2003.5,1005.7 2005,1008 2006.5,1010.6 2008.1,1013.3 2009.6,1016 2011.2,1018.6 2012.8,1021 2014.4,1023.3 2016,1025.7 2017.5,1028 2019.1,1030.6 2020.8,1033.2 2022.2,1035.8 2023.2,1038.4 2023.8,1040.8 2024.3,1043.2 2024.7,1045.6 2025,1048 2025.2,1050.6 2025.4,1053.2 2025.6,1055.7 2025.8,1058.3 2025.9,1061.2 2026.1,1064 2026.2,1066.9 2026.4,1069.8 2026.5,1072.7 2026.6,1075.5 2026.8,1078.4 2026.9,1081.3 2027.1,1084.1 2027.2,1087 2027.5,1090 2027.7,1093 2027.9,1096 2028.2,1099 2028.4,1102 2028.7,1105 2028.8,1107.9 2029,1110.8 2029.1,1113.7 2029.2,1116.6 2029.2,1119.5 2029.2,1119.5 2029.2,1116.6 2029.3,1113.7 2029.4,1110.8 2029.6,1107.9 2029.8,1105 2030,1102 2030.2,1099 2030.5,1096 2030.7,1093 2030.9,1090 2031.2,1087 2031.3,1084.1 2031.5,1081.3 2031.6,1078.4 2031.8,1075.5 2031.9,1072.7 2032,1069.8 2032.2,1066.9 2032.3,1064 2032.5,1061.2 2032.7,1058.3 2032.8,1055.7 2033,1053.2 2033.2,1050.6 2033.5,1048 2033.7,1045.6 2034.1,1043.2 2034.6,1040.8 2035.2,1038.4 2036.2,1035.8 2037.6,1033.2 2039.3,1030.6 2041,1028 2042.4,1025.7 2044,1023.3 2045.6,1021 2047.2,1018.6 2048.8,1016 2050.3,1013.3 2051.9,1010.6 2053.4,1008 2054.9,1005.7 2056.3,1003.4 2057.7,1001 2059.2,998.7 2061.4,995.8 2063.6,992.9 2065.4,990 2067.1,987.2 2068.6,984.5 2069.2,981.7 2069.1,978.9 2068.8,976.1 2068.3,973.4 2067.7,970.6 2066.9,967.8 2065.7,964.9 2063.9,961.9 2062.2,959 2060.8,956.5 2059.5,954 2058.2,951.5 2056.9,949 2055.7,946.5 2054.4,944.1 2053.1,941.7 2051.9,939.2 2050.8,936.7 2049.7,934.1 2048.6,931.5 2047.5,929 2046.3,926.6 2045.2,924.2 2044.1,921.8 2043.2,919.4 2042.4,916.9 2041.7,914.3 2041.2,911.8 2040.6,909.2 2040,906.7 2039.3,904.3 2038.7,901.9 2038,899.5 2037.1,897 2036.1,894.5 2035,892.1 2034.2,889.6 2033.5,887.1 2032.9,884.7 2032.4,882.2 2032,879.7 2031.4,876.8 2030.9,873.8 2030.5,870.9 2030.1,867.9 2029.8,865 2029.5,862 2029.2,859.1 2029.2,856.1" fill="#33a02c" stroke="#33a02c" stroke-width="0.5" stroke-linejoin="round"/>
<path d="M2021.2 1072.8H2026.3M2032.1 1072.8H2037.2" stroke="#33a02c" stroke-width="6.25" stroke-linecap="round" fill="none"/>
<path d="M2021.2 907.5h16M2021.2 922h16M2021.2 927h16M2021.2 937.8h16M2021.2 949.7h16M2021.2 962.5h16M2021.2 965h16M2021.2 983.5h16M2021.2 986.8h16M2021.2 990h16M2021.2 993.2h16M2021.2 996.5h16M2021.2 999.8h16M2021.2 1003h16M2021.2 1006.2h16M2021.2 1009.5h16M2021.2 1019.7h16M2026.3 1072.8h5.9" stroke="#fff" stroke-width="6.25" stroke-linecap="round" fill="none"/>
<line x1="1979.2" y1="974.3" x2="2079.2" y2="974.3" stroke="#fff" stroke-width="12.5" stroke-linecap="round"/>
<polygon points="2330.3,912.2 2330.3,914.8 2330.3,917.3 2330.1,919.9 2329.9,922.4 2329.8,925 2329.5,927.9 2329.2,930.9 2328.8,933.8 2328.4,936.8 2328,939.7 2327.5,942.7 2327.1,945.6 2326.7,948.4 2326.3,951.2 2325.6,954 2323.2,956 2323.2,959 2323.1,962 2323.1,965 2323.1,968 2323.1,971 2323.1,974 2323,977 2323,980 2321.6,981 2321.3,984 2321.2,987 2321.1,990 2320.1,992.8 2318.8,995.6 2317.7,998.3 2316.7,1001.1 2315.7,1003.8 2314.8,1006.5 2313.8,1009.3 2312.8,1012 2311.7,1014.8 2310.5,1017.6 2309.3,1020.4 2308.1,1023.2 2306.9,1026 2305.7,1028.8 2304.6,1031.6 2303.5,1034.4 2302.5,1037.2 2301.7,1040 2300.8,1042.8 2300,1045.6 2299.2,1048.4 2298.6,1051.2 2298.2,1054 2297.9,1056.7 2297.6,1059.3 2297.6,1062 2297.9,1064.3 2298.8,1066.7 2299.8,1069 2300.8,1072 2301.9,1074.9 2303,1077.9 2304.1,1080.8 2305.3,1083.8 2306.5,1086.7 2307.7,1089.7 2308.8,1092.6 2310,1095.6 2311,1098.4 2312.1,1101.1 2313.2,1103.9 2314.2,1106.7 2315.2,1109.5 2316.2,1112.2 2317.1,1115 2317.7,1117.5 2318.4,1120 2319,1122.5 2319.6,1125 2320.2,1127.5 2320.6,1129.7 2321,1131.8 2321.6,1134 2322.8,1136.9 2324.3,1139.9 2325.6,1142.8 2326.3,1145.5 2327,1148.3 2327.4,1151 2327.5,1153.7 2327.6,1156.4 2327.7,1159.1 2327.8,1161.9 2327.9,1164.6 2328,1167.3 2328.1,1170 2328.2,1173 2328.3,1176 2328.4,1179 2328.5,1182 2328.6,1185 2328.7,1188 2328.8,1191 2328.9,1194 2329,1197 2329.1,1200 2329.1,1202.9 2329.1,1205.9 2329.2,1208.8 2329.2,1211.8 2329.2,1214.7 2329.2,1217.6 2329.3,1220.6 2329.3,1223.5 2329.3,1226.5 2329.3,1229.4 2329.4,1232.4 2329.4,1235.3 2329.4,1238.2 2329.4,1241.2 2329.5,1244.1 2329.5,1247.1 2329.6,1250 2329.6,1252.9 2329.7,1255.8 2329.8,1258.7 2329.9,1261.6 2330,1264.5 2330.1,1267.3 2330.2,1270.2 2330.3,1273.1 2330.3,1276 2330.3,1278.9 2330.3,1278.9 2330.3,1276 2330.3,1273.1 2330.4,1270.2 2330.5,1267.3 2330.6,1264.5 2330.7,1261.6 2330.8,1258.7 2330.9,1255.8 2331,1252.9 2331.1,1250 2331.1,1247.1 2331.1,1244.1 2331.2,1241.2 2331.2,1238.2 2331.2,1235.3 2331.2,1232.4 2331.3,1229.4 2331.3,1226.5 2331.3,1223.5 2331.3,1220.6 2331.4,1217.6 2331.4,1214.7 2331.4,1211.8 2331.4,1208.8 2331.5,1205.9 2331.5,1202.9 2331.6,1200 2331.6,1197 2331.7,1194 2331.8,1191 2331.9,1188 2332,1185 2332.1,1182 2332.2,1179 2332.3,1176 2332.4,1173 2332.6,1170 2332.6,1167.3 2332.7,1164.6 2332.8,1161.9 2332.9,1159.1 2333,1156.4 2333.1,1153.7 2333.2,1151 2333.6,1148.3 2334.3,1145.5 2335.1,1142.8 2336.3,1139.9 2337.8,1136.9 2339.1,1134 2339.6,1131.8 2340,1129.7 2340.5,1127.5 2341,1125 2341.6,1122.5 2342.2,1120 2342.9,1117.5 2343.6,1115 2344.4,1112.2 2345.4,1109.5 2346.4,1106.7 2347.4,1103.9 2348.5,1101.1 2349.6,1098.4 2350.7,1095.6 2351.8,1092.6 2352.9,1089.7 2354.1,1086.7 2355.3,1083.8 2356.5,1080.8 2357.6,1077.9 2358.7,1074.9 2359.8,1072 2360.9,1069 2361.8,1066.7 2362.7,1064.3 2363.1,1062 2363,1059.3 2362.7,1056.7 2362.5,1054 2362,1051.2 2361.4,1048.4 2360.6,1045.6 2359.8,1042.8 2359,1040 2358.1,1037.2 2357.1,1034.4 2356,1031.6 2354.9,1028.8 2353.7,1026 2352.5,1023.2 2351.3,1020.4 2350.1,1017.6 2348.9,1014.8 2347.9,1012 2346.8,1009.3 2345.8,1006.5 2344.9,1003.8 2343.9,1001.1 2342.9,998.3 2341.9,995.6 2340.5,992.8 2339.6,990 2339.4,987 2339.3,984 2339.1,981 2337.7,980 2337.6,977 2337.5,974 2337.5,971 2337.5,968 2337.5,965 2337.5,962 2337.4,959 2337.4,956 2335.1,954 2334.3,951.2 2333.9,948.4 2333.6,945.6 2333.1,942.7 2332.6,939.7 2332.2,936.8 2331.8,933.8 2331.4,930.9 2331.1,927.9 2330.9,925 2330.7,922.4 2330.5,919.9 2330.3,917.3 2330.3,914.8 2330.3,912.2" fill="#33a02c" stroke="#33a02c" stroke-width="0.5" stroke-linejoin="round"/>
<path d="M2322.3 957.5H2323M2337.6 957.5H2338.3M2322.3 960.8H2322.9M2337.7 960.8H2338.3M2322.3 964.1H2322.9M2337.7 964.1H2338.3M2322.3 967.4H2322.9M2337.7 967.4H2338.3M2322.3 970.6H2322.8M2337.8 970.6H2338.3M2322.3 973.9H2322.8M2337.8 973.9H2338.3M2322.3 977.2H2322.8M2337.8 977.2H2338.3M2322.3 1145.5H2326.1M2334.5 1145.5H2338.3M2322.3 1149H2326.8M2333.8 1149H2338.3M2322.3 1180.3H2328.2M2332.4 1180.3H2338.3M2322.3 1234.3H2329.1M2331.5 1234.3H2338.3M2322.3 1237.3H2329.1M2331.5 1237.3H2338.3" stroke="#33a02c" stroke-width="6.25" stroke-linecap="round" fill="none"/>
<path d="M2323 957.5h14.7M2322.9 960.8h14.8M2322.9 964.1h14.9M2322.9 967.4h14.9M2322.8 970.6h14.9M2322.8 973.9h14.9M2322.8 977.2h15M2322.3 1000h16M2322.3 1002.9h16M2322.3 1005.8h16M2322.3 1008.8h16M2322.3 1011.7h16M2322.3 1014.6h16M2322.3 1017.5h16M2322.3 1026h16M2322.3 1029.1h16M2322.3 1032.2h16M2322.3 1035.4h16M2322.3 1038.5h16M2322.3 1041.6h16M2322.3 1044.8h16M2322.3 1047.9h16M2322.3 1051h16M2322.3 1072h16M2322.3 1075h16M2322.3 1077.9h16M2322.3 1080.9h16M2322.3 1083.8h16M2322.3 1086.8h16M2322.3 1089.8h16M2322.3 1092.7h16M2322.3 1095.7h16M2322.3 1098.7h16M2322.3 1101.6h16M2322.3 1104.6h16M2322.3 1107.5h16M2322.3 1110.5h16M2322.3 1121h16M2322.3 1124h16M2322.3 1127h16M2322.3 1130h16M2326.1 1145.5h8.5M2326.8 1149h6.9M2328.2 1180.3h4.2M2329.1 1234.3h2.4M2329.1 1237.3h2.3" stroke="#fff" stroke-width="6.25" stroke-linecap="round" fill="none"/>
<line x1="2280.3" y1="1062.6" x2="2380.3" y2="1062.6" stroke="#fff" stroke-width="12.5" stroke-linecap="round"/>
<polygon points="2631.3,728.9 2631.3,731.6 2631.2,734.3 2631,737 2630.8,739.6 2630.6,742.3 2630.4,745 2630,747.9 2629.6,750.9 2629.1,753.8 2628.6,756.8 2628.1,759.7 2627.7,762.7 2627.4,765.6 2627.1,768.4 2626.9,771.1 2626.7,773.9 2626.5,776.7 2626.4,779.5 2626.2,782.2 2626.2,785 2626.1,788 2626.1,791 2626,794 2626,797 2626,800 2625.8,802.7 2625.6,805.3 2625.3,808 2625,810.7 2624.8,813.3 2624.6,816 2624.4,818.5 2624.3,821 2624.2,823.5 2624.1,826 2623.8,828.3 2623.5,830.7 2623.1,833 2621.8,836 2620.5,839 2619.6,841.9 2618.8,844.8 2618.1,847.7 2617.4,850.6 2616.8,853.5 2616.2,856.4 2615.6,859.3 2615.1,862.2 2614.6,865.1 2614.1,868 2613.7,870.9 2613.2,873.8 2612.8,876.7 2612.4,879.6 2612,882.5 2611.7,885.5 2611.4,888.4 2611.1,891.3 2610.8,894.2 2610.4,897.2 2610,900.1 2609.6,903 2608.9,905.5 2608.1,908.1 2607.2,910.6 2606.4,913.2 2605.6,915.8 2605.2,918.3 2604.8,921.1 2604.5,923.9 2604.3,926.7 2604.1,929.4 2603.9,932.2 2603.8,935 2603.8,937.8 2603.9,940.6 2604.4,943.3 2605.2,946.1 2606.1,948.9 2607.1,951.7 2608.1,954.5 2609.1,957.2 2610.1,960 2610.9,962.8 2611.8,965.6 2612.8,968.3 2613.7,971.1 2614.7,973.9 2615.7,976.7 2616.6,979.5 2617.5,982.2 2618.4,985 2619.2,987.8 2619.9,990.6 2620.5,993.4 2621.2,996.1 2621.8,998.9 2622.6,1001.7 2623.4,1004.5 2624.4,1007.3 2625.4,1010 2626.3,1012.8 2627,1015.6 2627.4,1018.4 2627.7,1021.1 2628,1023.9 2628.2,1026.6 2628.6,1029.4 2628.9,1032 2629.2,1034.6 2629.6,1037.2 2629.9,1039.8 2630.3,1042.4 2630.6,1045 2630.8,1047.9 2631.1,1050.8 2631.3,1053.8 2631.3,1056.7 2631.3,1056.7 2631.3,1053.8 2631.5,1050.8 2631.8,1047.9 2632.1,1045 2632.3,1042.4 2632.7,1039.8 2633,1037.2 2633.4,1034.6 2633.7,1032 2634.1,1029.4 2634.4,1026.6 2634.6,1023.9 2634.9,1021.1 2635.2,1018.4 2635.7,1015.6 2636.3,1012.8 2637.2,1010 2638.2,1007.3 2639.2,1004.5 2640.1,1001.7 2640.8,998.9 2641.4,996.1 2642.1,993.4 2642.7,990.6 2643.5,987.8 2644.2,985 2645.1,982.2 2646,979.5 2646.9,976.7 2647.9,973.9 2648.9,971.1 2649.8,968.3 2650.8,965.6 2651.7,962.8 2652.6,960 2653.5,957.2 2654.5,954.5 2655.5,951.7 2656.5,948.9 2657.4,946.1 2658.2,943.3 2658.7,940.6 2658.9,937.8 2658.8,935 2658.7,932.2 2658.5,929.4 2658.3,926.7 2658.1,923.9 2657.8,921.1 2657.5,918.3 2657,915.8 2656.2,913.2 2655.4,910.6 2654.5,908.1 2653.7,905.5 2653.1,903 2652.6,900.1 2652.2,897.2 2651.8,894.2 2651.5,891.3 2651.2,888.4 2650.9,885.5 2650.6,882.5 2650.2,879.6 2649.8,876.7 2649.4,873.8 2648.9,870.9 2648.5,868 2648,865.1 2647.5,862.2 2647,859.3 2646.4,856.4 2645.8,853.5 2645.2,850.6 2644.5,847.7 2643.8,844.8 2643,841.9 2642.2,839 2640.8,836 2639.6,833 2639.1,830.7 2638.8,828.3 2638.6,826 2638.4,823.5 2638.3,821 2638.2,818.5 2638.1,816 2637.8,813.3 2637.6,810.7 2637.3,808 2637,805.3 2636.8,802.7 2636.7,800 2636.6,797 2636.6,794 2636.5,791 2636.5,788 2636.5,785 2636.4,782.2 2636.2,779.5 2636.1,776.7 2635.9,773.9 2635.7,771.1 2635.5,768.4 2635.2,765.6 2634.9,762.7 2634.5,759.7 2634,756.8 2633.5,753.8 2633,750.9 2632.6,747.9 2632.2,745 2632,742.3 2631.8,739.6 2631.6,737 2631.4,734.3 2631.3,731.6 2631.3,728.9" fill="#33a02c" stroke="#33a02c" stroke-width="0.5" stroke-linejoin="round"/>
<path d="M2623.3 775H2626.4M2636.2 775H2639.3M2623.3 780H2626.1M2636.5 780H2639.3M2623.3 788H2625.8M2636.8 788H2639.3M2623.3 793H2625.8M2636.8 793H2639.3M2623.3 821.7H2624M2638.6 821.7H2639.3M2623.3 1007H2624.1M2638.5 1007H2639.3" stroke="#33a02c" stroke-width="6.25" stroke-linecap="round" fill="none"/>
<path d="M2626.4 775h9.9M2626.1 780h10.4M2625.8 788h10.9M2625.8 793h11M2624 821.7h14.5M2623.3 835.4h16M2623.3 843.7h16M2623.3 846.2h16M2623.3 848.8h16M2623.3 851.3h16M2623.3 860h16M2623.3 862.5h16M2623.3 865h16M2623.3 873.7h16M2623.3 876.3h16M2623.3 883h16M2623.3 886.1h16M2623.3 889.2h16M2623.3 892.4h16M2623.3 895.5h16M2623.3 898.6h16M2623.3 920h16M2623.3 923.1h16M2623.3 926.2h16M2623.3 929.3h16M2623.3 932.4h16M2623.3 935.5h16M2623.3 938.6h16M2623.3 941.7h16M2623.3 944.9h16M2623.3 948h16M2623.3 951.1h16M2623.3 954.2h16M2623.3 957.3h16M2623.3 960.4h16M2623.3 963.5h16M2623.3 966.6h16M2623.3 976.7h16M2623.3 993.7h16M2623.3 997h16M2623.3 1000.4h16M2623.3 1003.7h16M2624.1 1007h14.4" stroke="#fff" stroke-width="6.25" stroke-linecap="round" fill="none"/>
<line x1="2581.3" y1="910.4" x2="2681.3" y2="910.4" stroke="#fff" stroke-width="12.5" stroke-linecap="round"/>
<polygon points="2932.3,773 2932.3,776 2932,779 2931.7,782 2931.4,785 2930.9,788 2930.3,791 2929.6,794 2928.8,797 2928,799.8 2927,802.6 2925.9,805.4 2924.9,808.2 2923.8,811 2922.8,813.8 2921.8,816.5 2920.8,819.2 2919.7,822 2918.2,824.8 2916.6,827.6 2914.9,830.5 2913.2,833.3 2911.8,836.1 2910.8,838.9 2910,841.6 2909.3,844.4 2908.6,847.1 2908.1,849.8 2907.6,852.5 2907.4,855.3 2907.2,858 2907.3,860.8 2907.4,863.6 2907.7,866.5 2908,869.3 2908.3,872.1 2908.6,875 2909,877.8 2909.4,880.6 2909.7,883.4 2910.2,886.1 2910.8,888.9 2911.3,891.7 2911.8,894.5 2912.3,897.2 2912.7,900 2913,903 2913.2,906 2913.5,909 2913.7,912 2913.8,915 2913.9,918 2914,921 2914,924 2914,927 2914.1,930 2914.2,933 2914.2,936 2914.4,938.8 2914.6,941.6 2914.8,944.4 2915.1,947.2 2915.5,950 2915.8,952.8 2916.2,955.6 2916.7,958.4 2917.1,961.2 2917.6,964 2918,966.8 2918.6,969.5 2919.3,972.3 2919.9,975 2920.6,977.8 2921.1,980.2 2921.6,982.6 2922.1,985 2922.6,987.9 2923,990.9 2923.4,993.8 2923.6,996.7 2923.6,999.5 2923.6,1002.2 2923.6,1005 2924.9,1006 2924.9,1008.7 2924.9,1011.3 2925,1014 2925,1016.7 2925.2,1019.3 2925.6,1022 2928.6,1025 2929,1027.8 2929.4,1030.5 2929.7,1033.2 2929.9,1036 2930,1038.8 2930.1,1041.5 2930.2,1044.2 2930.4,1047 2930.5,1049.8 2930.5,1052.6 2930.6,1055.4 2930.7,1058.2 2930.8,1061 2930.8,1063.8 2930.9,1066.6 2930.9,1069.4 2931,1072.2 2931.1,1075 2931.1,1077.9 2931.2,1080.8 2931.2,1083.8 2931.3,1086.7 2931.3,1089.6 2931.4,1092.5 2931.4,1095.4 2931.5,1098.3 2931.5,1101.2 2931.6,1104.2 2931.7,1107.1 2931.8,1110 2931.8,1112.7 2931.9,1115.5 2932.1,1118.2 2932.2,1121 2932.3,1123.7 2932.3,1126.5 2932.3,1129.2 2932.3,1129.2 2932.3,1126.5 2932.3,1123.7 2932.4,1121 2932.5,1118.2 2932.7,1115.5 2932.8,1112.7 2932.9,1110 2932.9,1107.1 2933,1104.2 2933.1,1101.2 2933.1,1098.3 2933.2,1095.4 2933.2,1092.5 2933.3,1089.6 2933.3,1086.7 2933.4,1083.8 2933.4,1080.8 2933.5,1077.9 2933.6,1075 2933.6,1072.2 2933.7,1069.4 2933.7,1066.6 2933.8,1063.8 2933.8,1061 2933.9,1058.2 2934,1055.4 2934.1,1052.6 2934.1,1049.8 2934.2,1047 2934.4,1044.2 2934.5,1041.5 2934.6,1038.8 2934.7,1036 2934.9,1033.2 2935.2,1030.5 2935.6,1027.8 2936.1,1025 2939.1,1022 2939.4,1019.3 2939.6,1016.7 2939.7,1014 2939.7,1011.3 2939.7,1008.7 2939.8,1006 2941.1,1005 2941.1,1002.2 2941.1,999.5 2941.1,996.7 2941.2,993.8 2941.6,990.9 2942,987.9 2942.6,985 2943,982.6 2943.5,980.2 2944.1,977.8 2944.7,975 2945.3,972.3 2946,969.5 2946.6,966.8 2947.1,964 2947.5,961.2 2947.9,958.4 2948.4,955.6 2948.8,952.8 2949.1,950 2949.5,947.2 2949.8,944.4 2950,941.6 2950.2,938.8 2950.4,936 2950.4,933 2950.5,930 2950.6,927 2950.6,924 2950.6,921 2950.7,918 2950.8,915 2950.9,912 2951.1,909 2951.4,906 2951.6,903 2952,900 2952.3,897.2 2952.8,894.5 2953.3,891.7 2953.8,888.9 2954.4,886.1 2954.9,883.4 2955.2,880.6 2955.6,877.8 2956,875 2956.3,872.1 2956.6,869.3 2956.9,866.5 2957.2,863.6 2957.3,860.8 2957.4,858 2957.2,855.3 2957,852.5 2956.5,849.8 2956,847.1 2955.3,844.4 2954.6,841.6 2953.9,838.9 2952.8,836.1 2951.4,833.3 2949.7,830.5 2948,827.6 2946.4,824.8 2945,822 2943.8,819.2 2942.8,816.5 2941.8,813.8 2940.8,811 2939.7,808.2 2938.7,805.4 2937.6,802.6 2936.6,799.8 2935.8,797 2935,794 2934.3,791 2933.7,788 2933.2,785 2932.9,782 2932.6,779 2932.3,776 2932.3,773" fill="#33a02c" stroke="#33a02c" stroke-width="0.5" stroke-linejoin="round"/>
<path d="M2924.3 1008.7H2924.7M2939.9 1008.7H2940.3M2924.3 1010.8H2924.7M2939.9 1010.8H2940.3M2924.3 1021.2H2925.2M2939.4 1021.2H2940.3M2924.3 1090.3H2931.1M2933.5 1090.3H2940.3" stroke="#33a02c" stroke-width="6.25" stroke-linecap="round" fill="none"/>
<path d="M2924.3 824h16M2924.3 832h16M2924.3 835.2h16M2924.3 838.5h16M2924.3 841.8h16M2924.3 845h16M2924.3 848.2h16M2924.3 851.5h16M2924.3 854.8h16M2924.3 858h16M2924.3 867h16M2924.3 869.5h16M2924.3 872h16M2924.3 881.7h16M2924.3 884.4h16M2924.3 887h16M2924.3 899.5h16M2924.3 922.8h16M2924.3 925.6h16M2924.3 928.5h16M2924.3 937.7h16M2924.3 941h16M2924.3 944.2h16M2924.3 947.5h16M2924.3 950.8h16M2924.3 954h16M2924.3 957.3h16M2924.3 964.4h16M2924.3 975.8h16M2924.3 983.7h16M2924.3 986.7h16M2924.3 989.7h16M2924.3 992.7h16M2924.7 1008.7h15.3M2924.7 1010.8h15.3M2925.2 1021.2h14.2M2931.1 1090.3h2.4" stroke="#fff" stroke-width="6.25" stroke-linecap="round" fill="none"/>
<line x1="2882.3" y1="908.3" x2="2982.3" y2="908.3" stroke="#fff" stroke-width="12.5" stroke-linecap="round"/>
<polygon points="3233.3,847.8 3233.3,850.2 3233.2,852.7 3233,855.1 3232.8,857.6 3232.6,860 3232.3,862.7 3232,865.4 3231.6,868.1 3231.3,870.8 3230.9,873.5 3230.5,876.2 3230.1,878.9 3229.5,881.8 3229,884.8 3228.3,887.7 3227.6,890.6 3226.6,893.3 3225.4,896 3224.1,898.7 3222.7,901.3 3221.3,904 3220.1,906.7 3218.9,909.4 3217.7,912.2 3216.5,914.9 3215.3,917.6 3214.1,920.4 3213,923.1 3212,925.8 3211.1,928.5 3210.2,931.3 3209.6,934 3208.9,936.8 3208.3,939.6 3207.8,942.4 3207.3,945.2 3206.8,948 3206.4,950.8 3206,953.6 3205.6,956.4 3205.3,959.2 3205.1,962 3204.9,964.7 3204.7,967.4 3204.5,970.1 3204.4,972.8 3204,975.6 3203.5,978.5 3203.1,981.3 3202.7,984.2 3202.6,987 3202.6,989.6 3202.9,992.2 3203.2,994.8 3203.6,997.4 3204.1,1000 3204.6,1003 3205.4,1005.9 3206.2,1008.9 3207.2,1011.9 3208.2,1014.8 3209.2,1017.8 3210.3,1020.6 3211.3,1023.4 3212.4,1026.1 3213.6,1028.9 3214.9,1031.7 3216.2,1034.5 3217.5,1037.3 3219,1040 3220.5,1042.8 3222.1,1045.6 3223.5,1047.7 3225.1,1049.9 3226.6,1052 3227.8,1054.1 3229,1056.2 3229.9,1058.3 3230.6,1060.8 3231.2,1063.2 3231.7,1065.7 3232.1,1068.2 3232.3,1070.7 3232.5,1073.1 3232.7,1075.5 3232.8,1078 3232.8,1080.9 3232.8,1083.9 3232.8,1086.8 3232.8,1089.7 3232.8,1092.6 3232.8,1095.6 3232.8,1098.5 3232.8,1101.4 3232.8,1104.4 3232.8,1107.3 3232.8,1110.2 3232.8,1113.1 3232.8,1116.1 3232.8,1119 3232.8,1121.9 3232.8,1124.9 3232.8,1127.8 3232.8,1130.7 3232.8,1133.6 3232.8,1136.6 3232.8,1139.5 3232.8,1142.4 3232.8,1145.4 3232.8,1148.3 3232.8,1151.2 3232.8,1154.1 3232.8,1157.1 3232.9,1160 3232.9,1162.7 3232.9,1165.4 3233,1168.1 3233.1,1170.8 3233.2,1173.4 3233.3,1176.1 3233.3,1178.8 3233.3,1181.5 3233.3,1181.5 3233.3,1178.8 3233.3,1176.1 3233.4,1173.4 3233.5,1170.8 3233.6,1168.1 3233.7,1165.4 3233.7,1162.7 3233.8,1160 3233.8,1157.1 3233.8,1154.1 3233.8,1151.2 3233.8,1148.3 3233.8,1145.4 3233.8,1142.4 3233.8,1139.5 3233.8,1136.6 3233.8,1133.6 3233.8,1130.7 3233.8,1127.8 3233.8,1124.9 3233.8,1121.9 3233.8,1119 3233.8,1116.1 3233.8,1113.1 3233.8,1110.2 3233.8,1107.3 3233.8,1104.4 3233.8,1101.4 3233.8,1098.5 3233.8,1095.6 3233.8,1092.6 3233.8,1089.7 3233.8,1086.8 3233.8,1083.9 3233.8,1080.9 3233.9,1078 3233.9,1075.5 3234.1,1073.1 3234.3,1070.7 3234.6,1068.2 3234.9,1065.7 3235.4,1063.2 3236,1060.8 3236.8,1058.3 3237.6,1056.2 3238.8,1054.1 3240.1,1052 3241.5,1049.9 3243.1,1047.7 3244.6,1045.6 3246.1,1042.8 3247.6,1040 3249.1,1037.3 3250.4,1034.5 3251.7,1031.7 3253,1028.9 3254.2,1026.1 3255.3,1023.4 3256.3,1020.6 3257.4,1017.8 3258.4,1014.8 3259.4,1011.9 3260.4,1008.9 3261.2,1005.9 3262,1003 3262.6,1000 3263,997.4 3263.4,994.8 3263.7,992.2 3264,989.6 3264.1,987 3263.9,984.2 3263.5,981.3 3263.1,978.5 3262.6,975.6 3262.2,972.8 3262.1,970.1 3261.9,967.4 3261.7,964.7 3261.6,962 3261.3,959.2 3261,956.4 3260.6,953.6 3260.2,950.8 3259.8,948 3259.3,945.2 3258.8,942.4 3258.3,939.6 3257.7,936.8 3257.1,934 3256.4,931.3 3255.5,928.5 3254.6,925.8 3253.6,923.1 3252.5,920.4 3251.3,917.6 3250.1,914.9 3248.9,912.2 3247.7,909.4 3246.6,906.7 3245.3,904 3243.9,901.3 3242.5,898.7 3241.2,896 3240,893.3 3239.1,890.6 3238.3,887.7 3237.6,884.8 3237.1,881.8 3236.6,878.9 3236.1,876.2 3235.7,873.5 3235.3,870.8 3235,868.1 3234.6,865.4 3234.3,862.7 3234.1,860 3233.8,857.6 3233.6,855.1 3233.4,852.7 3233.3,850.2 3233.3,847.8" fill="#33a02c" stroke="#33a02c" stroke-width="0.5" stroke-linejoin="round"/>
<path d="M3225.3 890.6H3227.3M3239.3 890.6H3241.3M3225.3 1142.8H3232.6M3234 1142.8H3241.3" stroke="#33a02c" stroke-width="6.25" stroke-linecap="round" fill="none"/>
<path d="M3227.3 890.6h12M3225.3 913h16M3225.3 916.4h16M3225.3 919.8h16M3225.3 923.2h16M3225.3 926.6h16M3225.3 930h16M3225.3 938.9h16M3225.3 940.9h16M3225.3 950h16M3225.3 953.3h16M3225.3 956.7h16M3225.3 960h16M3225.3 963.3h16M3225.3 966.7h16M3225.3 970h16M3225.3 989h16M3225.3 992.5h16M3225.3 995.9h16M3225.3 999.4h16M3225.3 1002.8h16M3225.3 1006.3h16M3225.3 1013.9h16M3225.3 1017.5h16M3225.3 1023.7h16M3225.3 1027h16M3225.3 1034h16M3225.3 1035.5h16M3232.6 1142.8h1.5" stroke="#fff" stroke-width="6.25" stroke-linecap="round" fill="none"/>
<line x1="3183.3" y1="979.6" x2="3283.3" y2="979.6" stroke="#fff" stroke-width="12.5" stroke-linecap="round"/>
<polygon points="3534.3,755.8 3534.3,758.6 3534.2,761.5 3534,764.3 3533.9,767.2 3533.9,770 3533.8,773 3533.8,776 3533.8,779 3533.8,782 3533.8,785 3533.7,788 3533.7,791 3533.7,794 3533.7,797 3533.7,800 3533.7,803 3533.7,806 3533.7,809 3533.7,812 3533.7,815 3533.7,818 3533.7,821 3533.7,824 3533.7,827 3533.7,830 3533.6,833 3533.6,836 3533.6,839 3533.6,842 3533.6,845 3533.6,848 3533.6,851 3533.6,854 3533.6,857 3533.6,860 3533.5,863 3533.5,866 3533.5,869 3533.5,872 3533.4,875 3533.4,878 3533.3,881 3533.2,884 3533.1,887 3532.9,890 3532.6,893 3532.2,896 3531.8,899 3531.4,902 3531,904.8 3530.6,907.6 3530.1,910.3 3529.7,913.1 3529.1,915.9 3528.6,918.7 3527.9,921.4 3527.2,924.2 3526.4,927 3525.3,929.3 3524,931.7 3522.8,934 3521.4,937 3520.1,940 3518.8,942.9 3517.6,945.9 3516.5,948.9 3515.3,951.8 3514.3,954.8 3513.3,957.8 3512.4,960.6 3511.5,963.4 3510.6,966.1 3509.8,968.9 3509,971.7 3508.2,974.5 3507.5,977.3 3506.9,980 3506.3,982.8 3505.8,985.6 3505.5,988 3505.2,990.3 3504.9,992.6 3504.7,995 3504.2,997.6 3503.7,1000.1 3503.1,1002.7 3502.7,1005.2 3502.6,1007.8 3502.6,1010.5 3502.9,1013.3 3503.2,1016 3503.7,1018.8 3504.2,1021.5 3504.8,1024.3 3505.4,1027 3506.1,1029.8 3507,1032.6 3508,1035.4 3509.2,1038.2 3510.5,1041 3511.9,1043.8 3513.2,1046.6 3514.6,1049.4 3515.9,1052.2 3517.2,1055 3518.3,1057.8 3519.5,1060.6 3520.6,1063.4 3521.8,1066.2 3523.1,1069 3524.1,1071 3525.1,1073 3526.1,1075.5 3527,1078.1 3527.8,1080.7 3528.6,1083.2 3529.3,1086.2 3530,1089.1 3530.5,1092 3531.1,1095 3531.5,1097.8 3531.9,1100.5 3532.3,1103.3 3532.7,1106.1 3532.9,1108.8 3533.1,1111.6 3533.1,1114.6 3533.2,1117.5 3533.2,1120.5 3533.3,1123.4 3533.3,1126.4 3533.4,1129.3 3533.4,1132.3 3533.4,1135.2 3533.4,1138.2 3533.5,1141.1 3533.5,1144.1 3533.5,1147 3533.6,1150 3533.6,1153 3533.6,1156 3533.6,1159 3533.6,1162 3533.7,1165 3533.7,1168 3533.7,1171 3533.7,1174 3533.7,1177 3533.8,1180 3533.8,1183 3533.8,1186 3533.9,1189 3533.9,1192 3534,1195 3534,1198 3534.2,1201 3534.3,1204 3534.3,1207 3534.3,1207 3534.3,1204 3534.4,1201 3534.6,1198 3534.7,1195 3534.7,1192 3534.7,1189 3534.8,1186 3534.8,1183 3534.8,1180 3534.9,1177 3534.9,1174 3534.9,1171 3534.9,1168 3534.9,1165 3535,1162 3535,1159 3535,1156 3535,1153 3535.1,1150 3535.1,1147 3535.1,1144.1 3535.1,1141.1 3535.2,1138.2 3535.2,1135.2 3535.2,1132.3 3535.2,1129.3 3535.3,1126.4 3535.3,1123.4 3535.4,1120.5 3535.4,1117.5 3535.5,1114.6 3535.6,1111.6 3535.7,1108.8 3535.9,1106.1 3536.3,1103.3 3536.7,1100.5 3537.1,1097.8 3537.6,1095 3538.1,1092 3538.6,1089.1 3539.3,1086.2 3540.1,1083.2 3540.8,1080.7 3541.6,1078.1 3542.5,1075.5 3543.6,1073 3544.5,1071 3545.6,1069 3546.8,1066.2 3548,1063.4 3549.1,1060.6 3550.3,1057.8 3551.5,1055 3552.7,1052.2 3554,1049.4 3555.4,1046.6 3556.7,1043.8 3558.1,1041 3559.4,1038.2 3560.6,1035.4 3561.6,1032.6 3562.5,1029.8 3563.2,1027 3563.8,1024.3 3564.4,1021.5 3564.9,1018.8 3565.4,1016 3565.7,1013.3 3566,1010.5 3566.1,1007.8 3565.9,1005.2 3565.5,1002.7 3564.9,1000.1 3564.4,997.6 3564,995 3563.7,992.6 3563.4,990.3 3563.1,988 3562.8,985.6 3562.3,982.8 3561.7,980 3561.1,977.3 3560.4,974.5 3559.6,971.7 3558.8,968.9 3558,966.1 3557.1,963.4 3556.2,960.6 3555.3,957.8 3554.3,954.8 3553.3,951.8 3552.1,948.9 3551,945.9 3549.8,942.9 3548.5,940 3547.2,937 3545.9,934 3544.6,931.7 3543.3,929.3 3542.2,927 3541.4,924.2 3540.7,921.4 3540,918.7 3539.5,915.9 3538.9,913.1 3538.5,910.3 3538,907.6 3537.6,904.8 3537.2,902 3536.8,899 3536.4,896 3536,893 3535.7,890 3535.5,887 3535.4,884 3535.3,881 3535.2,878 3535.2,875 3535.1,872 3535.1,869 3535.1,866 3535.1,863 3535.1,860 3535,857 3535,854 3535,851 3535,848 3535,845 3535,842 3535,839 3535,836 3535,833 3534.9,830 3534.9,827 3534.9,824 3534.9,821 3534.9,818 3534.9,815 3534.9,812 3534.9,809 3534.9,806 3534.9,803 3534.9,800 3534.9,797 3534.9,794 3534.9,791 3534.9,788 3534.8,785 3534.8,782 3534.8,779 3534.8,776 3534.8,773 3534.8,770 3534.7,767.2 3534.6,764.3 3534.4,761.5 3534.3,758.6 3534.3,755.8" fill="#33a02c" stroke="#33a02c" stroke-width="0.5" stroke-linejoin="round"/>
<polygon points="3534.3,1224.2 3534.3,1226.8 3534.1,1229.4 3534,1232 3534,1234.9 3534,1237.8 3534,1240.7 3534,1243.6 3534,1246.5 3534,1249.4 3534,1252.3 3534,1255.2 3534,1258.1 3534,1261 3534,1263.9 3534,1266.8 3534,1269.7 3534,1272.6 3534,1275.5 3534,1278.4 3534,1281.3 3534,1284.2 3534,1287.1 3534,1290 3534,1292.5 3534.1,1295.1 3534.3,1297.6 3534.3,1300.2 3534.3,1302.7 3534.3,1302.7 3534.3,1300.2 3534.3,1297.6 3534.5,1295.1 3534.6,1292.5 3534.7,1290 3534.7,1287.1 3534.7,1284.2 3534.7,1281.3 3534.7,1278.4 3534.7,1275.5 3534.7,1272.6 3534.7,1269.7 3534.7,1266.8 3534.7,1263.9 3534.7,1261 3534.7,1258.1 3534.7,1255.2 3534.7,1252.3 3534.7,1249.4 3534.7,1246.5 3534.7,1243.6 3534.7,1240.7 3534.7,1237.8 3534.7,1234.9 3534.7,1232 3534.5,1229.4 3534.3,1226.8 3534.3,1224.2" fill="#33a02c" stroke="#33a02c" stroke-width="0.5" stroke-linejoin="round"/>
<path d="M3526.3 796.7H3533.5M3535.1 796.7H3542.3M3526.3 812H3533.4M3535.2 812H3542.3M3526.3 884H3533M3535.6 884H3542.3M3526.3 1077H3526.3M3542.3 1077H3542.3M3526.3 1080H3527.4M3541.2 1080H3542.3M3526.3 1166.2H3533.4M3535.2 1166.2H3542.3M3526.3 1264.6H3533.7M3534.9 1264.6H3542.3" stroke="#33a02c" stroke-width="6.25" stroke-linecap="round" fill="none"/>
<path d="M3533.5 796.7h1.7M3533.4 812h1.7M3533 884h2.6M3526.3 931h16M3526.3 937h16M3526.3 940.1h16M3526.3 943.3h16M3526.3 946.4h16M3526.3 953.9h16M3526.3 955.2h16M3526.3 961h16M3526.3 964.2h16M3526.3 967.5h16M3526.3 970.8h16M3526.3 974h16M3526.3 984h16M3526.3 987h16M3526.3 990h16M3526.3 993h16M3526.3 1011h16M3526.3 1014.4h16M3526.3 1017.8h16M3526.3 1021.1h16M3526.3 1024.5h16M3526.3 1027.9h16M3526.3 1031.2h16M3526.3 1034.6h16M3526.3 1038h16M3526.3 1047h16M3526.3 1050.2h16M3526.3 1053.3h16M3526.3 1077h15.9M3527.4 1080h13.9M3533.4 1166.2h1.8M3533.7 1264.6h1.2" stroke="#fff" stroke-width="6.25" stroke-linecap="round" fill="none"/>
<line x1="3484.3" y1="1001.8" x2="3584.3" y2="1001.8" stroke="#fff" stroke-width="12.5" stroke-linecap="round"/>
<polygon points="3835.3,801 3835.3,803.8 3835,806.6 3834.7,809.4 3834.4,812.2 3834.1,815 3833.6,817.7 3833.2,820.4 3832.6,823.1 3832.1,825.9 3831.5,828.6 3831,831.3 3830.5,834 3830,836.6 3829.5,839.3 3829.1,841.9 3828.7,844.6 3828.2,847.2 3827.8,849.9 3827.4,852.5 3826.8,855.3 3826.3,858 3825.9,860.8 3825.6,863.6 3825.4,866.5 3825.2,869.5 3825.1,872.4 3825,875.3 3825,878.3 3824.9,881.2 3824.8,884.1 3824.7,887.1 3824.6,890 3824.4,892.8 3824.2,895.6 3824,898.3 3823.8,901.1 3823.6,903.9 3823.3,906.7 3823,909.5 3822.7,912.2 3822.4,915 3822.1,917.8 3821.6,920.6 3821.1,923.4 3820.5,926.1 3819.9,928.9 3819.2,931.7 3818.4,934.5 3817.7,937.3 3816.9,940 3816.2,942.8 3815.6,945.6 3814.9,948.4 3814.3,951.1 3813.7,953.9 3813.1,956.6 3812.4,959.4 3811.4,962.1 3810.2,964.8 3808.9,967.6 3808,970.3 3807.7,973 3807.7,976 3807.8,979 3807.9,982 3808.1,985 3808.2,987.7 3808.5,990.3 3808.7,993 3809.1,995.7 3809.5,998.3 3809.9,1001 3810.3,1003.8 3810.9,1006.6 3811.6,1009.4 3812.3,1012.2 3813.1,1015 3813.9,1017.8 3814.7,1020.6 3815.6,1023.4 3816.4,1026.2 3817.2,1029 3818.1,1031.8 3818.9,1034.5 3819.8,1037.2 3820.7,1040 3821.6,1042.8 3822.6,1045.6 3823.7,1048.3 3824.7,1051.1 3825.7,1053.9 3826.6,1056.7 3827.4,1059.6 3828.3,1062.5 3829.1,1065.3 3829.9,1068.2 3830.6,1071.1 3831.3,1074 3832,1076.8 3832.6,1079.7 3833,1082.2 3833.5,1084.6 3833.9,1087.1 3834.3,1089.5 3834.6,1092 3834.8,1094.5 3835,1097 3835.2,1099.5 3835.3,1102 3835.3,1104.5 3835.3,1104.5 3835.3,1102 3835.4,1099.5 3835.6,1097 3835.8,1094.5 3836.1,1092 3836.3,1089.5 3836.7,1087.1 3837.1,1084.6 3837.6,1082.2 3838.1,1079.7 3838.6,1076.8 3839.3,1074 3840,1071.1 3840.7,1068.2 3841.5,1065.3 3842.3,1062.5 3843.2,1059.6 3844.1,1056.7 3844.9,1053.9 3845.9,1051.1 3846.9,1048.3 3848,1045.6 3849,1042.8 3850,1040 3850.8,1037.2 3851.7,1034.5 3852.5,1031.8 3853.4,1029 3854.2,1026.2 3855,1023.4 3855.9,1020.6 3856.7,1017.8 3857.5,1015 3858.3,1012.2 3859,1009.4 3859.7,1006.6 3860.3,1003.8 3860.8,1001 3861.1,998.3 3861.5,995.7 3861.9,993 3862.1,990.3 3862.4,987.7 3862.6,985 3862.7,982 3862.8,979 3862.9,976 3863,973 3862.6,970.3 3861.7,967.6 3860.4,964.8 3859.2,962.1 3858.2,959.4 3857.5,956.6 3856.9,953.9 3856.3,951.1 3855.7,948.4 3855.1,945.6 3854.4,942.8 3853.7,940 3852.9,937.3 3852.2,934.5 3851.4,931.7 3850.7,928.9 3850.1,926.1 3849.5,923.4 3849,920.6 3848.6,917.8 3848.2,915 3847.9,912.2 3847.6,909.5 3847.3,906.7 3847,903.9 3846.8,901.1 3846.6,898.3 3846.4,895.6 3846.2,892.8 3846.1,890 3845.9,887.1 3845.8,884.1 3845.7,881.2 3845.6,878.3 3845.6,875.3 3845.5,872.4 3845.4,869.5 3845.2,866.5 3845.1,863.6 3844.7,860.8 3844.3,858 3843.8,855.3 3843.2,852.5 3842.8,849.9 3842.4,847.2 3841.9,844.6 3841.5,841.9 3841.1,839.3 3840.6,836.6 3840.2,834 3839.6,831.3 3839.1,828.6 3838.5,825.9 3838,823.1 3837.4,820.4 3837,817.7 3836.6,815 3836.2,812.2 3835.9,809.4 3835.6,806.6 3835.3,803.8 3835.3,801" fill="#33a02c" stroke="#33a02c" stroke-width="0.5" stroke-linejoin="round"/>
<path d="M3827.3 856h16M3827.3 860h16M3827.3 876h16M3827.3 892.8h16M3827.3 906.7h16M3827.3 929h16M3827.3 934h16M3827.3 942.2h16M3827.3 976h16M3827.3 984.3h16M3827.3 987.3h16M3827.3 995.5h16M3827.3 998.5h16M3827.3 1012h16M3827.3 1030.5h16M3827.3 1034.2h16M3827.3 1037.8h16M3827.3 1053h16" stroke="#fff" stroke-width="6.25" stroke-linecap="round" fill="none"/>
<line x1="3785.3" y1="966" x2="3885.3" y2="966" stroke="#fff" stroke-width="12.5" stroke-linecap="round"/>
<rect x="492" y="492" width="3576" height="2016" fill="none" stroke="#000" stroke-width="6.25" stroke-linejoin="round"/>
<line x1="492" y1="2141.3" x2="432" y2="2141.3" stroke="#000" stroke-width="6.25" stroke-linecap="round"/>
<text transform="translate(348,2141.3) rotate(-90) scale(0.95,1)" font-size="103" text-anchor="middle">6</text>
<line x1="492" y1="1753.2" x2="432" y2="1753.2" stroke="#000" stroke-width="6.25" stroke-linecap="round"/>
<text transform="translate(348,1753.2) rotate(-90) scale(0.95,1)" font-size="103" text-anchor="middle">8</text>
<line x1="492" y1="1365.2" x2="432" y2="1365.2" stroke="#000" stroke-width="6.25" stroke-linecap="round"/>
<text transform="translate(348,1365.2) rotate(-90) scale(0.95,1)" font-size="103" text-anchor="middle">10</text>
<line x1="492" y1="977.1" x2="432" y2="977.1" stroke="#000" stroke-width="6.25" stroke-linecap="round"/>
<text transform="translate(348,977.1) rotate(-90) scale(0.95,1)" font-size="103" text-anchor="middle">12</text>
<line x1="492" y1="589" x2="432" y2="589" stroke="#000" stroke-width="6.25" stroke-linecap="round"/>
<text transform="translate(348,589) rotate(-90) scale(0.95,1)" font-size="103" text-anchor="middle">14</text>
<text transform="translate(108,1501) rotate(-90) scale(0.976,1)" font-size="103" text-anchor="middle">mRNA Expression (RNASeq V2, log2)</text>
<text transform="translate(2117.2,290) scale(0.9486,1)" font-size="125.8" font-weight="bold" text-anchor="start">RNH1</text>
<text transform="translate(848.5,2583) rotate(-45) scale(0.943,1)" font-size="106" text-anchor="end">BLCA</text>
<text transform="translate(1149.7,2583) rotate(-45) scale(0.943,1)" font-size="106" text-anchor="end">BRCA</text>
<text transform="translate(1450.9,2583) rotate(-45) scale(0.943,1)" font-size="106" text-anchor="end">COAD</text>
<text transform="translate(1752.1,2583) rotate(-45) scale(0.943,1)" font-size="106" text-anchor="end">HNSC</text>
<text transform="translate(2053.3,2583) rotate(-45) scale(0.943,1)" font-size="106" text-anchor="end">KICH</text>
<text transform="translate(2354.5,2583) rotate(-45) scale(0.943,1)" font-size="106" text-anchor="end">KIRC</text>
<text transform="translate(2655.7,2583) rotate(-45) scale(0.943,1)" font-size="106" text-anchor="end">LUAD</text>
<text transform="translate(2956.9,2583) rotate(-45) scale(0.943,1)" font-size="106" text-anchor="end">LUSC</text>
<text transform="translate(3258.1,2583) rotate(-45) scale(0.943,1)" font-size="106" text-anchor="end">PRAD</text>
<text transform="translate(3559.3,2583) rotate(-45) scale(0.943,1)" font-size="106" text-anchor="end">THCA</text>
<text transform="translate(3860.5,2583) rotate(-45) scale(0.943,1)" font-size="106" text-anchor="end">UCEC</text>
<rect x="4161" y="1232" width="66" height="54" fill="#1f78b4"/>
<rect x="4161" y="1352" width="66" height="54" fill="#33a02c"/>
<text transform="translate(4320,1295) scale(0.965,1)" font-size="104">Tumor</text>
<text transform="translate(4320,1415) scale(0.965,1)" font-size="104">Normal</text>
</svg></body></html>
